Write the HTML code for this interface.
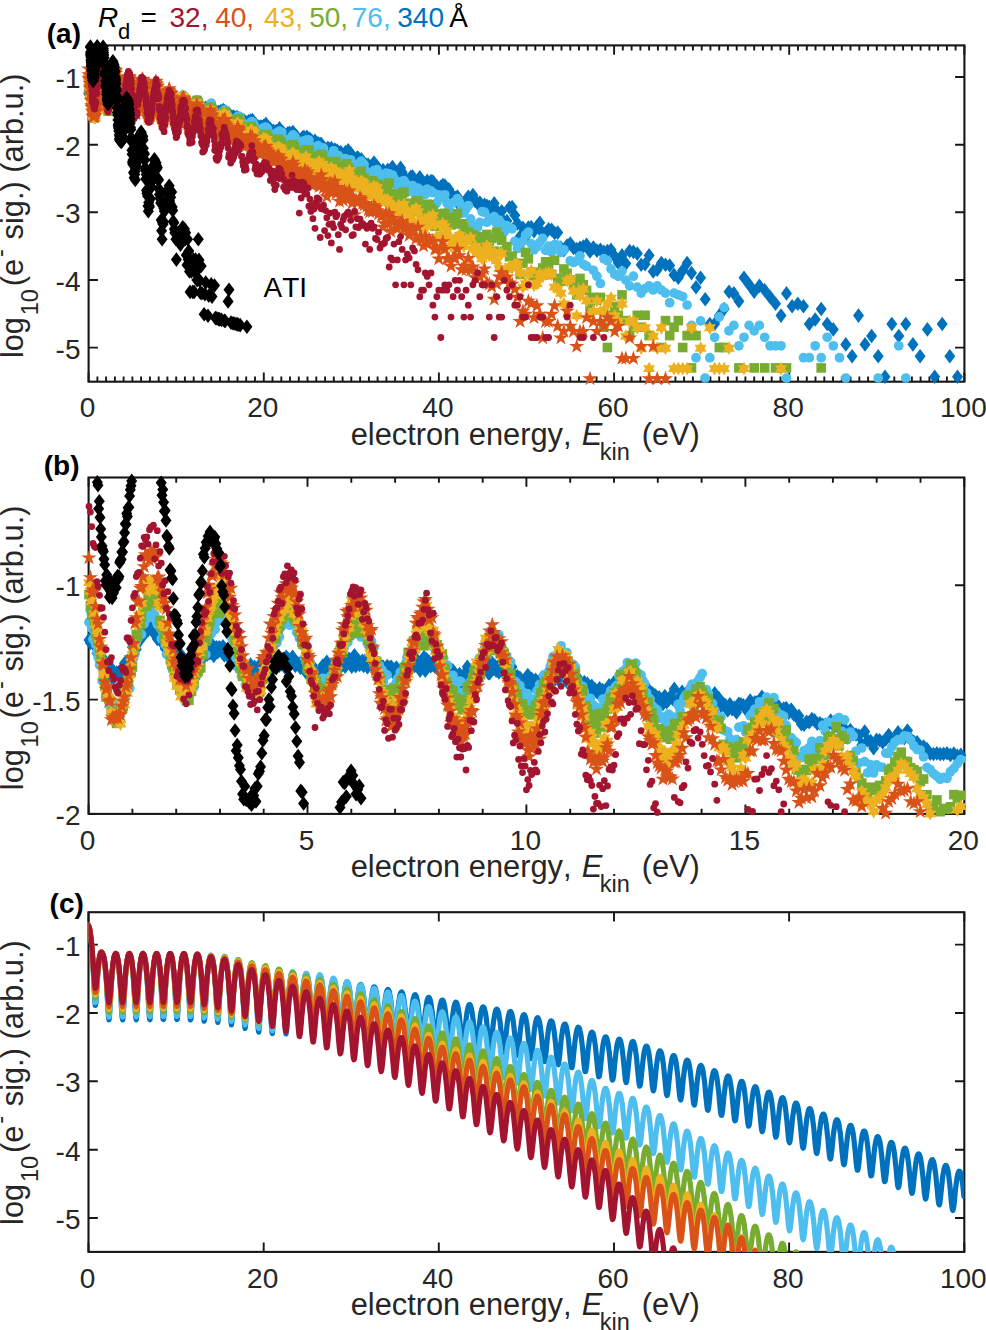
<!DOCTYPE html>
<html><head><meta charset="utf-8"><style>
html,body{margin:0;padding:0;background:#fff;}
svg{display:block;}
text{font-family:"Liberation Sans",sans-serif;}
.tk{font-size:28.0px;fill:#262626;}
.lb{font-size:30.8px;fill:#262626;}
.pl{font-size:28px;font-weight:bold;fill:#000;}
.tt{font-size:28px;}
text{font-kerning:none;}
</style></head><body>
<svg width="986" height="1330" viewBox="0 0 986 1330">
<path d="M97.4 381.7v-5.2M97.4 45.4v5.2M106.1 381.7v-5.2M106.1 45.4v5.2M114.9 381.7v-5.2M114.9 45.4v5.2M123.6 381.7v-5.2M123.6 45.4v5.2M132.4 381.7v-5.2M132.4 45.4v5.2M141.1 381.7v-5.2M141.1 45.4v5.2M149.9 381.7v-5.2M149.9 45.4v5.2M158.7 381.7v-5.2M158.7 45.4v5.2M167.4 381.7v-5.2M167.4 45.4v5.2M176.2 381.7v-5.2M176.2 45.4v5.2M184.9 381.7v-5.2M184.9 45.4v5.2M193.7 381.7v-5.2M193.7 45.4v5.2M202.5 381.7v-5.2M202.5 45.4v5.2M211.2 381.7v-5.2M211.2 45.4v5.2M220 381.7v-5.2M220 45.4v5.2M228.7 381.7v-5.2M228.7 45.4v5.2M237.5 381.7v-5.2M237.5 45.4v5.2M246.2 381.7v-5.2M246.2 45.4v5.2M255 381.7v-5.2M255 45.4v5.2M272.5 381.7v-5.2M272.5 45.4v5.2M281.3 381.7v-5.2M281.3 45.4v5.2M290 381.7v-5.2M290 45.4v5.2M298.8 381.7v-5.2M298.8 45.4v5.2M307.5 381.7v-5.2M307.5 45.4v5.2M316.3 381.7v-5.2M316.3 45.4v5.2M325.1 381.7v-5.2M325.1 45.4v5.2M333.8 381.7v-5.2M333.8 45.4v5.2M342.6 381.7v-5.2M342.6 45.4v5.2M351.3 381.7v-5.2M351.3 45.4v5.2M360.1 381.7v-5.2M360.1 45.4v5.2M368.9 381.7v-5.2M368.9 45.4v5.2M377.6 381.7v-5.2M377.6 45.4v5.2M386.4 381.7v-5.2M386.4 45.4v5.2M395.1 381.7v-5.2M395.1 45.4v5.2M403.9 381.7v-5.2M403.9 45.4v5.2M412.6 381.7v-5.2M412.6 45.4v5.2M421.4 381.7v-5.2M421.4 45.4v5.2M430.2 381.7v-5.2M430.2 45.4v5.2M447.7 381.7v-5.2M447.7 45.4v5.2M456.4 381.7v-5.2M456.4 45.4v5.2M465.2 381.7v-5.2M465.2 45.4v5.2M474 381.7v-5.2M474 45.4v5.2M482.7 381.7v-5.2M482.7 45.4v5.2M491.5 381.7v-5.2M491.5 45.4v5.2M500.2 381.7v-5.2M500.2 45.4v5.2M509 381.7v-5.2M509 45.4v5.2M517.7 381.7v-5.2M517.7 45.4v5.2M526.5 381.7v-5.2M526.5 45.4v5.2M535.3 381.7v-5.2M535.3 45.4v5.2M544 381.7v-5.2M544 45.4v5.2M552.8 381.7v-5.2M552.8 45.4v5.2M561.5 381.7v-5.2M561.5 45.4v5.2M570.3 381.7v-5.2M570.3 45.4v5.2M579 381.7v-5.2M579 45.4v5.2M587.8 381.7v-5.2M587.8 45.4v5.2M596.6 381.7v-5.2M596.6 45.4v5.2M605.3 381.7v-5.2M605.3 45.4v5.2M622.8 381.7v-5.2M622.8 45.4v5.2M631.6 381.7v-5.2M631.6 45.4v5.2M640.4 381.7v-5.2M640.4 45.4v5.2M649.1 381.7v-5.2M649.1 45.4v5.2M657.9 381.7v-5.2M657.9 45.4v5.2M666.6 381.7v-5.2M666.6 45.4v5.2M675.4 381.7v-5.2M675.4 45.4v5.2M684.1 381.7v-5.2M684.1 45.4v5.2M692.9 381.7v-5.2M692.9 45.4v5.2M701.7 381.7v-5.2M701.7 45.4v5.2M710.4 381.7v-5.2M710.4 45.4v5.2M719.2 381.7v-5.2M719.2 45.4v5.2M727.9 381.7v-5.2M727.9 45.4v5.2M736.7 381.7v-5.2M736.7 45.4v5.2M745.4 381.7v-5.2M745.4 45.4v5.2M754.2 381.7v-5.2M754.2 45.4v5.2M763 381.7v-5.2M763 45.4v5.2M771.7 381.7v-5.2M771.7 45.4v5.2M780.5 381.7v-5.2M780.5 45.4v5.2M798 381.7v-5.2M798 45.4v5.2M806.8 381.7v-5.2M806.8 45.4v5.2M815.5 381.7v-5.2M815.5 45.4v5.2M824.3 381.7v-5.2M824.3 45.4v5.2M833 381.7v-5.2M833 45.4v5.2M841.8 381.7v-5.2M841.8 45.4v5.2M850.5 381.7v-5.2M850.5 45.4v5.2M859.3 381.7v-5.2M859.3 45.4v5.2M868.1 381.7v-5.2M868.1 45.4v5.2M876.8 381.7v-5.2M876.8 45.4v5.2M885.6 381.7v-5.2M885.6 45.4v5.2M894.3 381.7v-5.2M894.3 45.4v5.2M903.1 381.7v-5.2M903.1 45.4v5.2M911.9 381.7v-5.2M911.9 45.4v5.2M920.6 381.7v-5.2M920.6 45.4v5.2M929.4 381.7v-5.2M929.4 45.4v5.2M938.1 381.7v-5.2M938.1 45.4v5.2M946.9 381.7v-5.2M946.9 45.4v5.2M955.6 381.7v-5.2M955.6 45.4v5.2M88.6 381.7v-9.3M88.6 45.4v9.3M263.8 381.7v-9.3M263.8 45.4v9.3M438.9 381.7v-9.3M438.9 45.4v9.3M614.1 381.7v-9.3M614.1 45.4v9.3M789.2 381.7v-9.3M789.2 45.4v9.3M964.4 381.7v-9.3M964.4 45.4v9.3M88.6 77h9.3M964.4 77h-9.3M88.6 144.7h9.3M964.4 144.7h-9.3M88.6 212.3h9.3M964.4 212.3h-9.3M88.6 280h9.3M964.4 280h-9.3M88.6 347.6h9.3M964.4 347.6h-9.3" stroke="#161616" stroke-width="1.9" fill="none"/>
<rect x="88.6" y="45.4" width="875.8" height="336.3" stroke="#161616" stroke-width="2.1" fill="none"/>
<text x="87.6" y="417.3" text-anchor="middle" class="tk">0</text>
<text x="262.8" y="417.3" text-anchor="middle" class="tk">20</text>
<text x="437.9" y="417.3" text-anchor="middle" class="tk">40</text>
<text x="613.1" y="417.3" text-anchor="middle" class="tk">60</text>
<text x="788.2" y="417.3" text-anchor="middle" class="tk">80</text>
<text x="963.4" y="417.3" text-anchor="middle" class="tk">100</text>
<text x="80.5" y="87.9" text-anchor="end" class="tk">-1</text>
<text x="80.5" y="155.6" text-anchor="end" class="tk">-2</text>
<text x="80.5" y="223.2" text-anchor="end" class="tk">-3</text>
<text x="80.5" y="290.9" text-anchor="end" class="tk">-4</text>
<text x="80.5" y="358.5" text-anchor="end" class="tk">-5</text>
<text x="350.7" y="444.6" class="lb">electron energy,</text>
<text x="581.7" y="444.6" class="lb" font-style="italic">E</text>
<text x="599.8" y="459.6" class="lb" style="font-size:23.5px">kin</text>
<text x="641.7" y="444.6" class="lb">(eV)</text>
<text transform="translate(22.9 358.1) rotate(-90)" class="lb" style="font-size:30.8px" xml:space="preserve">log</text>
<text transform="translate(37.9 315.3) rotate(-90)" class="lb" style="font-size:23.5px" xml:space="preserve">10</text>
<text transform="translate(22.9 286.3) rotate(-90)" class="lb" style="font-size:30.8px" xml:space="preserve">(e</text>
<text transform="translate(7.9 256.9) rotate(-90)" class="lb" style="font-size:23.5px" xml:space="preserve">-</text>
<text transform="translate(22.9 248) rotate(-90)" class="lb" style="font-size:30.8px" xml:space="preserve"> sig.) (arb.u.)</text>
<path d="M132.4 813.9v-5.2M132.4 477.5v5.2M176.2 813.9v-5.2M176.2 477.5v5.2M220 813.9v-5.2M220 477.5v5.2M263.7 813.9v-5.2M263.7 477.5v5.2M351.3 813.9v-5.2M351.3 477.5v5.2M395.1 813.9v-5.2M395.1 477.5v5.2M438.9 813.9v-5.2M438.9 477.5v5.2M482.7 813.9v-5.2M482.7 477.5v5.2M570.2 813.9v-5.2M570.2 477.5v5.2M614 813.9v-5.2M614 477.5v5.2M657.8 813.9v-5.2M657.8 477.5v5.2M701.6 813.9v-5.2M701.6 477.5v5.2M789.2 813.9v-5.2M789.2 477.5v5.2M832.9 813.9v-5.2M832.9 477.5v5.2M876.7 813.9v-5.2M876.7 477.5v5.2M920.5 813.9v-5.2M920.5 477.5v5.2M88.6 813.9v-9.3M88.6 477.5v9.3M307.5 813.9v-9.3M307.5 477.5v9.3M526.4 813.9v-9.3M526.4 477.5v9.3M745.4 813.9v-9.3M745.4 477.5v9.3M964.3 813.9v-9.3M964.3 477.5v9.3M88.6 585.2h9.3M964.3 585.2h-9.3M88.6 699.6h9.3M964.3 699.6h-9.3M88.6 813.9h9.3M964.3 813.9h-9.3" stroke="#161616" stroke-width="1.9" fill="none"/>
<rect x="88.6" y="477.5" width="875.7" height="336.4" stroke="#161616" stroke-width="2.1" fill="none"/>
<text x="87.6" y="849.5" text-anchor="middle" class="tk">0</text>
<text x="306.5" y="849.5" text-anchor="middle" class="tk">5</text>
<text x="525.4" y="849.5" text-anchor="middle" class="tk">10</text>
<text x="744.4" y="849.5" text-anchor="middle" class="tk">15</text>
<text x="963.3" y="849.5" text-anchor="middle" class="tk">20</text>
<text x="80.5" y="596.1" text-anchor="end" class="tk">-1</text>
<text x="80.5" y="710.5" text-anchor="end" class="tk">-1.5</text>
<text x="80.5" y="824.8" text-anchor="end" class="tk">-2</text>
<text x="350.7" y="876.8" class="lb">electron energy,</text>
<text x="581.7" y="876.8" class="lb" font-style="italic">E</text>
<text x="599.8" y="891.8" class="lb" style="font-size:23.5px">kin</text>
<text x="641.7" y="876.8" class="lb">(eV)</text>
<text transform="translate(22.9 790.2) rotate(-90)" class="lb" style="font-size:30.8px" xml:space="preserve">log</text>
<text transform="translate(37.9 747.4) rotate(-90)" class="lb" style="font-size:23.5px" xml:space="preserve">10</text>
<text transform="translate(22.9 718.4) rotate(-90)" class="lb" style="font-size:30.8px" xml:space="preserve">(e</text>
<text transform="translate(7.9 689) rotate(-90)" class="lb" style="font-size:23.5px" xml:space="preserve">-</text>
<text transform="translate(22.9 680.1) rotate(-90)" class="lb" style="font-size:30.8px" xml:space="preserve"> sig.) (arb.u.)</text>
<path d="M88.5 1251.9v-9.3M88.5 912.2v9.3M263.7 1251.9v-9.3M263.7 912.2v9.3M438.8 1251.9v-9.3M438.8 912.2v9.3M614 1251.9v-9.3M614 912.2v9.3M789.1 1251.9v-9.3M789.1 912.2v9.3M964.3 1251.9v-9.3M964.3 912.2v9.3M88.5 944.6h9.3M964.3 944.6h-9.3M88.5 1013h9.3M964.3 1013h-9.3M88.5 1081.3h9.3M964.3 1081.3h-9.3M88.5 1149.7h9.3M964.3 1149.7h-9.3M88.5 1218h9.3M964.3 1218h-9.3" stroke="#161616" stroke-width="1.9" fill="none"/>
<rect x="88.5" y="912.2" width="875.8" height="339.7" stroke="#161616" stroke-width="2.1" fill="none"/>
<text x="87.5" y="1287.5" text-anchor="middle" class="tk">0</text>
<text x="262.7" y="1287.5" text-anchor="middle" class="tk">20</text>
<text x="437.8" y="1287.5" text-anchor="middle" class="tk">40</text>
<text x="613" y="1287.5" text-anchor="middle" class="tk">60</text>
<text x="788.1" y="1287.5" text-anchor="middle" class="tk">80</text>
<text x="963.3" y="1287.5" text-anchor="middle" class="tk">100</text>
<text x="80.5" y="955.5" text-anchor="end" class="tk">-1</text>
<text x="80.5" y="1023.9" text-anchor="end" class="tk">-2</text>
<text x="80.5" y="1092.2" text-anchor="end" class="tk">-3</text>
<text x="80.5" y="1160.6" text-anchor="end" class="tk">-4</text>
<text x="80.5" y="1228.9" text-anchor="end" class="tk">-5</text>
<text x="350.7" y="1314.8" class="lb">electron energy,</text>
<text x="581.7" y="1314.8" class="lb" font-style="italic">E</text>
<text x="599.8" y="1329.8" class="lb" style="font-size:23.5px">kin</text>
<text x="641.7" y="1314.8" class="lb">(eV)</text>
<text transform="translate(22.9 1224.9) rotate(-90)" class="lb" style="font-size:30.8px" xml:space="preserve">log</text>
<text transform="translate(37.9 1182.1) rotate(-90)" class="lb" style="font-size:23.5px" xml:space="preserve">10</text>
<text transform="translate(22.9 1153.1) rotate(-90)" class="lb" style="font-size:30.8px" xml:space="preserve">(e</text>
<text transform="translate(7.9 1123.7) rotate(-90)" class="lb" style="font-size:23.5px" xml:space="preserve">-</text>
<text transform="translate(22.9 1114.8) rotate(-90)" class="lb" style="font-size:30.8px" xml:space="preserve"> sig.) (arb.u.)</text>
<defs><clipPath id="cc"><rect x="88.5" y="912.2" width="875.8" height="339.7"/></clipPath></defs>
<g clip-path="url(#cc)" fill="none" stroke-width="5.2" stroke-linejoin="round" stroke-linecap="round">
<path d="M88.5 925.5 89.0 926.8 89.6 929.0 90.1 931.9 90.6 935.8 91.1 940.5 91.7 946.2 92.2 952.9 92.7 960.9 93.2 970.1 93.8 980.4 94.3 991.2 94.8 1000.6 95.3 1005.4 95.9 1003.4 96.4 996.3 96.9 987.7 97.4 979.4 98.0 972.2 98.5 966.2 99.0 961.4 99.5 957.7 100.1 955.0 100.6 953.2 101.1 952.3 101.6 952.1 102.2 952.8 102.7 953.9 103.2 955.1 103.7 957.1 104.3 959.9 104.8 963.7 105.3 968.4 105.8 974.3 106.4 981.3 106.9 989.6 107.4 998.9 107.9 1008.6 108.5 1016.7 109.0 1019.8 109.5 1016.1 110.0 1007.7 110.6 998.0 111.1 988.7 111.6 980.6 112.1 973.7 112.7 968.0 113.2 963.3 113.7 959.7 114.2 956.9 114.8 955.0 115.3 953.9 115.8 953.6 116.4 954.1 116.9 955.3 117.4 957.4 117.9 960.3 118.5 964.2 119.0 969.1 119.5 975.0 120.0 982.2 120.6 990.6 121.1 1000.0 121.6 1009.7 122.1 1017.4 122.7 1019.9 123.2 1015.5 123.7 1006.9 124.2 997.1 124.8 988.0 125.3 979.9 125.8 973.2 126.3 967.6 126.9 963.0 127.4 959.4 127.9 956.8 128.4 955.0 129.0 953.9 129.5 953.7 130.0 954.3 130.5 955.6 131.1 957.8 131.6 960.8 132.1 964.7 132.6 969.7 133.2 975.8 133.7 983.1 134.2 991.6 134.7 1001.1 135.3 1010.7 135.8 1018.1 136.3 1019.8 136.8 1014.9 137.4 1006.0 137.9 996.3 138.4 987.2 138.9 979.3 139.5 972.7 140.0 967.2 140.5 962.7 141.0 959.2 141.6 956.7 142.1 954.9 142.6 954.0 143.1 953.8 143.7 954.5 144.2 955.9 144.7 958.1 145.3 961.2 145.8 965.3 146.3 970.4 146.8 976.6 147.4 984.0 147.9 992.6 148.4 1002.2 148.9 1011.7 149.5 1018.6 150.0 1019.7 150.5 1014.2 151.0 1005.1 151.6 995.4 152.1 986.5 152.6 978.7 153.1 972.2 153.7 966.8 154.2 962.4 154.7 959.0 155.2 956.5 155.8 954.9 156.3 954.0 156.8 954.0 157.3 954.7 157.9 956.2 158.4 958.5 158.9 961.7 159.4 965.9 160.0 971.0 160.5 977.3 161.0 984.9 161.5 993.6 162.1 1003.2 162.6 1012.7 163.1 1019.2 163.6 1019.5 164.2 1013.5 164.7 1004.2 165.2 994.6 165.7 985.7 166.3 978.1 166.8 971.7 167.3 966.4 167.8 962.1 168.4 958.9 168.9 956.4 169.4 954.9 169.9 954.1 170.5 954.1 171.0 954.9 171.5 956.5 172.1 958.9 172.6 962.2 173.1 966.4 173.6 971.7 174.2 978.1 174.7 985.8 175.2 994.6 175.7 1004.3 176.3 1013.6 176.8 1019.6 177.3 1019.3 177.8 1012.8 178.4 1003.4 178.9 993.7 179.4 985.0 179.9 977.5 180.5 971.2 181.0 966.0 181.5 961.9 182.0 958.7 182.6 956.4 183.1 954.9 183.6 954.2 184.1 954.2 184.7 955.1 185.2 956.8 185.7 959.3 186.2 962.7 186.8 967.0 187.3 972.4 187.8 979.0 188.3 986.7 188.9 995.7 189.4 1005.4 189.9 1014.5 190.4 1020.0 191.0 1019.0 191.5 1012.0 192.0 1002.5 192.5 992.9 193.1 984.3 193.6 976.9 194.1 970.8 194.6 965.7 195.2 961.7 195.7 958.7 196.2 956.5 196.7 955.1 197.3 954.5 197.8 954.7 198.3 955.7 198.9 957.5 199.4 960.1 199.9 963.7 200.4 968.1 201.0 973.7 201.5 980.4 202.0 988.3 202.5 997.4 203.1 1007.2 203.6 1016.2 204.1 1021.2 204.6 1019.5 205.2 1012.1 205.7 1002.6 206.2 993.1 206.7 984.6 207.3 977.4 207.8 971.4 208.3 966.5 208.8 962.6 209.4 959.6 209.9 957.5 210.4 956.2 210.9 955.7 211.5 956.0 212.0 957.0 212.5 958.9 213.0 961.6 213.6 965.2 214.1 969.8 214.6 975.5 215.1 982.3 215.7 990.4 216.2 999.6 216.7 1009.4 217.2 1018.1 217.8 1022.5 218.3 1020.1 218.8 1012.4 219.3 1002.8 219.9 993.4 220.4 985.1 220.9 977.9 221.4 972.0 222.0 967.2 222.5 963.4 223.0 960.5 223.5 958.5 224.1 957.3 224.6 956.9 225.1 957.2 225.7 958.5 226.2 960.5 226.7 963.4 227.2 967.2 227.8 972.0 228.3 977.9 228.8 984.9 229.3 993.2 229.9 1002.6 230.4 1012.5 230.9 1021.0 231.4 1024.9 232.0 1021.9 232.5 1014.0 233.0 1004.4 233.5 995.2 234.1 987.1 234.6 980.2 235.1 974.5 235.6 969.9 236.2 966.2 236.7 963.5 237.2 961.7 237.7 960.6 238.3 960.4 238.8 960.9 239.3 962.2 239.8 964.4 240.4 967.4 240.9 971.3 241.4 976.2 241.9 982.1 242.5 989.3 243.0 997.7 243.5 1007.2 244.0 1017.1 244.6 1025.3 245.1 1028.5 245.6 1024.9 246.1 1016.7 246.7 1007.1 247.2 997.9 247.7 989.9 248.2 983.2 248.8 977.6 249.3 973.1 249.8 969.6 250.3 966.9 250.9 965.2 251.4 964.2 251.9 964.0 252.4 964.6 253.0 966.0 253.5 968.3 254.0 971.3 254.6 975.3 255.1 980.3 255.6 986.4 256.1 993.7 256.7 1002.2 257.2 1011.8 257.7 1021.6 258.2 1029.5 258.8 1032.1 259.3 1027.9 259.8 1019.3 260.3 1009.7 260.9 1000.7 261.4 992.8 261.9 986.2 262.4 980.7 263.0 976.3 263.5 972.9 264.0 970.3 264.5 968.6 265.1 967.6 265.6 967.5 266.1 968.1 266.6 969.6 267.2 971.8 267.7 974.9 268.2 978.9 268.7 984.0 269.3 990.1 269.8 997.4 270.3 1005.8 270.8 1015.3 271.4 1024.7 271.9 1031.8 272.4 1033.5 272.9 1028.8 273.5 1020.3 274.0 1010.9 274.5 1002.1 275.0 994.4 275.6 987.9 276.1 982.5 276.6 978.2 277.1 974.9 277.7 972.4 278.2 970.7 278.7 969.9 279.2 969.8 279.8 970.5 280.3 972.0 280.8 974.3 281.4 977.5 281.9 981.6 282.4 986.6 282.9 992.8 283.5 1000.0 284.0 1008.4 284.5 1017.6 285.0 1026.5 285.6 1032.8 286.1 1033.8 286.6 1028.9 287.1 1020.6 287.7 1011.5 288.2 1003.1 288.7 995.7 289.2 989.4 289.8 984.2 290.3 980.1 290.8 976.8 291.3 974.5 291.9 972.9 292.4 972.2 292.9 972.2 293.4 972.9 294.0 974.5 294.5 976.9 295.0 980.1 295.5 984.2 296.1 989.3 296.6 995.5 297.1 1002.7 297.6 1010.9 298.2 1019.8 298.7 1028.1 299.2 1033.7 299.7 1034.0 300.3 1029.0 300.8 1020.9 301.3 1012.2 301.8 1004.1 302.4 997.0 302.9 990.9 303.4 985.9 303.9 981.9 304.5 978.8 305.0 976.5 305.5 975.1 306.0 974.4 306.6 974.5 307.1 975.4 307.6 977.0 308.2 979.4 308.7 982.7 309.2 986.8 309.7 992.0 310.3 998.1 310.8 1005.3 311.3 1013.4 311.8 1021.9 312.4 1029.7 312.9 1034.5 313.4 1034.2 313.9 1029.1 314.5 1021.3 315.0 1013.0 315.5 1005.2 316.0 998.3 316.6 992.5 317.1 987.7 317.6 983.8 318.1 980.8 318.7 978.7 319.2 977.3 319.7 976.8 320.2 976.9 320.8 977.9 321.3 979.6 321.8 982.0 322.3 985.4 322.9 989.6 323.4 994.7 323.9 1000.9 324.4 1008.0 325.0 1015.9 325.5 1024.1 326.0 1031.3 326.5 1035.4 327.1 1034.6 327.6 1029.5 328.1 1022.0 328.6 1014.0 329.2 1006.5 329.7 999.9 330.2 994.3 330.7 989.6 331.3 985.9 331.8 983.1 332.3 981.0 332.8 979.8 333.4 979.3 333.9 979.5 334.4 980.5 335.0 982.3 335.5 984.8 336.0 988.2 336.5 992.4 337.1 997.6 337.6 1003.7 338.1 1010.7 338.6 1018.4 339.2 1026.2 339.7 1032.8 340.2 1036.2 340.7 1035.1 341.3 1029.9 341.8 1022.7 342.3 1015.0 342.8 1007.8 343.4 1001.5 343.9 996.1 344.4 991.6 344.9 988.1 345.5 985.3 346.0 983.4 346.5 982.2 347.0 981.8 347.6 982.1 348.1 983.2 348.6 985.0 349.1 987.6 349.7 991.0 350.2 995.3 350.7 1000.4 351.2 1006.5 351.8 1013.4 352.3 1020.8 352.8 1028.2 353.3 1034.2 353.9 1037.0 354.4 1035.5 354.9 1030.4 355.4 1023.4 356.0 1016.1 356.5 1009.2 357.0 1003.1 357.5 998.0 358.1 993.7 358.6 990.2 359.1 987.6 359.6 985.8 360.2 984.7 360.7 984.4 361.2 984.8 361.7 985.9 362.3 987.8 362.8 990.4 363.3 993.8 363.9 998.1 364.4 1003.2 364.9 1009.2 365.4 1015.9 366.0 1023.2 366.5 1030.1 367.0 1035.5 367.5 1037.8 368.1 1036.0 368.6 1030.9 369.1 1024.2 369.6 1017.2 370.2 1010.6 370.7 1004.8 371.2 999.8 371.7 995.7 372.3 992.4 372.8 989.9 373.3 988.2 373.8 987.2 374.4 986.9 374.9 987.4 375.4 988.6 375.9 990.5 376.5 993.1 377.0 996.6 377.5 1000.9 378.0 1006.0 378.6 1011.9 379.1 1018.5 379.6 1025.4 380.1 1031.9 380.7 1036.7 381.2 1038.4 381.7 1036.4 382.2 1031.5 382.8 1025.0 383.3 1018.3 383.8 1012.0 384.3 1006.5 384.9 1001.7 385.4 997.7 385.9 994.6 386.4 992.2 387.0 990.6 387.5 989.7 388.0 989.5 388.5 990.0 389.1 991.2 389.6 993.2 390.1 995.9 390.7 999.4 391.2 1003.6 391.7 1008.7 392.2 1014.5 392.8 1020.9 393.3 1027.5 393.8 1033.6 394.3 1037.8 394.9 1039.1 395.4 1036.9 395.9 1032.1 396.4 1025.9 397.0 1019.5 397.5 1013.5 398.0 1008.1 398.5 1003.5 399.1 999.8 399.6 996.7 400.1 994.5 400.6 993.0 401.2 992.2 401.7 992.0 402.2 992.6 402.7 993.9 403.3 995.9 403.8 998.7 404.3 1002.2 404.8 1006.4 405.4 1011.4 405.9 1017.1 406.4 1023.3 406.9 1029.6 407.5 1035.2 408.0 1038.9 408.5 1039.8 409.0 1037.5 409.6 1032.8 410.1 1026.9 410.6 1020.8 411.1 1015.0 411.7 1009.9 412.2 1005.5 412.7 1001.9 413.2 999.0 413.8 996.9 414.3 995.5 414.8 994.8 415.3 994.7 415.9 995.4 416.4 996.7 416.9 998.8 417.5 1001.5 418.0 1005.0 418.5 1009.2 419.0 1014.2 419.6 1019.7 420.1 1025.7 420.6 1031.6 421.1 1036.8 421.7 1040.0 422.2 1040.5 422.7 1038.1 423.2 1033.5 423.8 1027.9 424.3 1022.1 424.8 1016.7 425.3 1011.8 425.9 1007.6 426.4 1004.1 426.9 1001.4 427.4 999.4 428.0 998.0 428.5 997.4 429.0 997.4 429.5 998.1 430.1 999.5 430.6 1001.6 431.1 1004.4 431.6 1007.8 432.2 1012.0 432.7 1016.9 433.2 1022.3 433.7 1028.0 434.3 1033.6 434.8 1038.2 435.3 1041.0 435.8 1041.2 436.4 1038.7 436.9 1034.3 437.4 1029.0 437.9 1023.5 438.5 1018.3 439.0 1013.6 439.5 1009.6 440.0 1006.3 440.6 1003.7 441.1 1001.8 441.6 1000.5 442.1 1000.0 442.7 1000.1 443.2 1000.8 443.7 1002.2 444.2 1004.3 444.8 1007.1 445.3 1010.6 445.8 1014.8 446.4 1019.6 446.9 1025.0 447.4 1030.7 447.9 1036.1 448.5 1040.6 449.0 1043.1 449.5 1043.1 450.0 1040.5 450.6 1036.0 451.1 1030.7 451.6 1025.3 452.1 1020.1 452.7 1015.5 453.2 1011.6 453.7 1008.3 454.2 1005.8 454.8 1003.9 455.3 1002.7 455.8 1002.2 456.3 1002.4 456.9 1003.2 457.4 1004.7 457.9 1006.9 458.4 1009.7 459.0 1013.3 459.5 1017.5 460.0 1022.4 460.5 1027.9 461.1 1033.5 461.6 1038.9 462.1 1043.2 462.6 1045.5 463.2 1045.2 463.7 1042.4 464.2 1037.8 464.7 1032.5 465.3 1027.0 465.8 1021.9 466.3 1017.4 466.8 1013.5 467.4 1010.3 467.9 1007.9 468.4 1006.1 468.9 1004.9 469.5 1004.5 470.0 1004.7 470.5 1005.6 471.0 1007.2 471.6 1009.4 472.1 1012.3 472.6 1016.0 473.2 1020.3 473.7 1025.2 474.2 1030.7 474.7 1036.4 475.3 1041.7 475.8 1045.8 476.3 1047.9 476.8 1047.3 477.4 1044.3 477.9 1039.6 478.4 1034.2 478.9 1028.8 479.5 1023.7 480.0 1019.2 480.5 1015.4 481.0 1012.3 481.6 1009.9 482.1 1008.2 482.6 1007.2 483.1 1006.8 483.7 1007.1 484.2 1008.0 484.7 1009.7 485.2 1012.0 485.8 1015.0 486.3 1018.7 486.8 1023.0 487.3 1028.1 487.9 1033.5 488.4 1039.2 488.9 1044.4 489.4 1048.4 490.0 1050.3 490.5 1049.4 491.0 1046.1 491.5 1041.3 492.1 1035.9 492.6 1030.5 493.1 1025.5 493.6 1021.1 494.2 1017.4 494.7 1014.3 495.2 1012.0 495.7 1010.4 496.3 1009.4 496.8 1009.1 497.3 1009.4 497.8 1010.4 498.4 1012.1 498.9 1014.5 499.4 1017.6 500.0 1021.4 500.5 1025.8 501.0 1030.9 501.5 1036.4 502.1 1042.0 502.6 1047.2 503.1 1051.0 503.6 1052.6 504.2 1051.5 504.7 1048.0 505.2 1043.1 505.7 1037.7 506.3 1032.3 506.8 1027.3 507.3 1023.0 507.8 1019.3 508.4 1016.4 508.9 1014.1 509.4 1012.5 509.9 1011.6 510.5 1011.4 511.0 1011.9 511.5 1013.0 512.0 1014.8 512.6 1017.3 513.1 1020.4 513.6 1024.3 514.1 1028.9 514.7 1034.0 515.2 1039.6 515.7 1045.2 516.2 1050.4 516.8 1054.0 517.3 1055.4 517.8 1054.0 518.3 1050.4 518.9 1045.4 519.4 1040.0 519.9 1034.7 520.4 1029.8 521.0 1025.6 521.5 1022.0 522.0 1019.2 522.5 1017.0 523.1 1015.5 523.6 1014.7 524.1 1014.6 524.6 1015.1 525.2 1016.3 525.7 1018.1 526.2 1020.7 526.8 1023.9 527.3 1027.9 527.8 1032.5 528.3 1037.7 528.9 1043.3 529.4 1048.9 529.9 1053.9 530.4 1057.4 531.0 1058.5 531.5 1056.9 532.0 1053.1 532.5 1048.0 533.1 1042.6 533.6 1037.3 534.1 1032.5 534.6 1028.4 535.2 1024.9 535.7 1022.1 536.2 1020.0 536.7 1018.6 537.3 1017.8 537.8 1017.7 538.3 1018.3 538.8 1019.6 539.4 1021.5 539.9 1024.1 540.4 1027.4 540.9 1031.5 541.5 1036.1 542.0 1041.4 542.5 1047.0 543.0 1052.6 543.6 1057.5 544.1 1060.8 544.6 1061.6 545.1 1059.7 545.7 1055.8 546.2 1050.7 546.7 1045.2 547.2 1040.0 547.8 1035.2 548.3 1031.1 548.8 1027.7 549.3 1025.0 549.9 1022.9 550.4 1021.6 550.9 1020.9 551.4 1020.9 552.0 1021.6 552.5 1022.9 553.0 1024.9 553.5 1027.6 554.1 1031.0 554.6 1035.0 555.1 1039.8 555.7 1045.1 556.2 1050.7 556.7 1056.3 557.2 1061.1 557.8 1064.1 558.3 1064.7 558.8 1062.6 559.3 1058.4 559.9 1053.3 560.4 1047.8 560.9 1042.6 561.4 1037.9 562.0 1033.9 562.5 1030.5 563.0 1027.9 563.5 1025.9 564.1 1024.6 564.6 1024.0 565.1 1024.1 565.6 1024.8 566.2 1026.2 566.7 1028.3 567.2 1031.0 567.7 1034.5 568.3 1038.6 568.8 1043.4 569.3 1048.8 569.8 1054.5 570.4 1060.0 570.9 1064.6 571.4 1067.5 571.9 1067.7 572.5 1065.4 573.0 1061.1 573.5 1055.9 574.0 1050.4 574.6 1045.3 575.1 1040.6 575.6 1036.7 576.1 1033.4 576.7 1030.8 577.2 1028.9 577.7 1027.7 578.2 1027.2 578.8 1027.4 579.3 1028.2 579.8 1029.8 580.3 1032.0 580.9 1034.9 581.4 1038.5 581.9 1042.7 582.5 1047.7 583.0 1053.1 583.5 1058.9 584.0 1064.4 584.6 1069.0 585.1 1071.7 585.6 1071.7 586.1 1069.2 586.7 1064.9 587.2 1059.7 587.7 1054.3 588.2 1049.3 588.8 1044.8 589.3 1040.9 589.8 1037.8 590.3 1035.4 590.9 1033.6 591.4 1032.5 591.9 1032.1 592.4 1032.4 593.0 1033.3 593.5 1034.9 594.0 1037.2 594.5 1040.1 595.1 1043.8 595.6 1048.2 596.1 1053.2 596.6 1058.7 597.2 1064.4 597.7 1069.9 598.2 1074.3 598.7 1076.8 599.3 1076.5 599.8 1073.8 600.3 1069.4 600.8 1064.1 601.4 1058.8 601.9 1053.8 602.4 1049.3 602.9 1045.6 603.5 1042.5 604.0 1040.1 604.5 1038.4 605.0 1037.3 605.6 1036.8 606.1 1037.1 606.6 1037.9 607.1 1039.5 607.7 1041.7 608.2 1044.7 608.7 1048.3 609.3 1052.6 609.8 1057.6 610.3 1063.0 610.8 1068.7 611.4 1074.0 611.9 1078.2 612.4 1080.2 612.9 1079.6 613.5 1076.6 614.0 1071.9 614.5 1066.5 615.0 1061.1 615.6 1056.0 616.1 1051.5 616.6 1047.7 617.1 1044.6 617.7 1042.2 618.2 1040.5 618.7 1039.5 619.2 1039.1 619.8 1039.4 620.3 1040.3 620.8 1041.9 621.3 1044.3 621.9 1047.3 622.4 1051.0 622.9 1055.3 623.4 1060.3 624.0 1065.8 624.5 1071.5 625.0 1076.7 625.5 1080.7 626.1 1082.5 626.6 1081.7 627.1 1078.4 627.6 1073.6 628.2 1068.2 628.7 1062.8 629.2 1057.8 629.7 1053.4 630.3 1049.7 630.8 1046.6 631.3 1044.3 631.8 1042.6 632.4 1041.6 632.9 1041.4 633.4 1041.9 633.9 1043.0 634.5 1044.8 635.0 1047.2 635.5 1050.4 636.1 1054.3 636.6 1058.8 637.1 1064.0 637.6 1069.6 638.2 1075.3 638.7 1080.6 639.2 1084.5 639.7 1086.1 640.3 1085.1 640.8 1081.7 641.3 1076.9 641.8 1071.6 642.4 1066.3 642.9 1061.4 643.4 1057.2 643.9 1053.6 644.5 1050.7 645.0 1048.6 645.5 1047.1 646.0 1046.3 646.6 1046.1 647.1 1046.6 647.6 1047.8 648.1 1049.6 648.7 1052.2 649.2 1055.4 649.7 1059.4 650.2 1064.0 650.8 1069.2 651.3 1074.8 651.8 1080.5 652.3 1085.7 652.9 1089.4 653.4 1090.8 653.9 1089.5 654.4 1086.0 655.0 1081.1 655.5 1075.7 656.0 1070.4 656.5 1065.7 657.1 1061.5 657.6 1058.0 658.1 1055.2 658.6 1053.0 659.2 1051.6 659.7 1050.9 660.2 1050.8 660.7 1051.4 661.3 1052.6 661.8 1054.5 662.3 1057.1 662.8 1060.4 663.4 1064.4 663.9 1069.1 664.4 1074.4 665.0 1080.1 665.5 1085.7 666.0 1090.8 666.5 1094.3 667.1 1095.5 667.6 1093.9 668.1 1090.2 668.6 1085.2 669.2 1079.8 669.7 1074.6 670.2 1069.9 670.7 1065.7 671.3 1062.3 671.8 1059.6 672.3 1057.5 672.8 1056.2 673.4 1055.5 673.9 1055.5 674.4 1056.1 674.9 1057.4 675.5 1059.4 676.0 1062.1 676.5 1065.5 677.0 1069.5 677.6 1074.3 678.1 1079.6 678.6 1085.3 679.1 1091.0 679.7 1095.9 680.2 1099.2 680.7 1100.1 681.2 1098.3 681.8 1094.4 682.3 1089.3 682.8 1083.9 683.3 1078.8 683.9 1074.1 684.4 1070.0 684.9 1066.7 685.4 1064.0 686.0 1062.0 686.5 1060.7 687.0 1060.1 687.5 1060.2 688.1 1060.9 688.6 1062.4 689.1 1064.4 689.6 1067.2 690.2 1070.7 690.7 1074.8 691.2 1079.7 691.8 1085.1 692.3 1090.8 692.8 1096.4 693.3 1101.3 693.9 1104.4 694.4 1105.0 694.9 1103.0 695.4 1099.0 696.0 1093.9 696.5 1088.5 697.0 1083.4 697.5 1078.8 698.1 1074.9 698.6 1071.6 699.1 1069.0 699.6 1067.1 700.2 1065.9 700.7 1065.4 701.2 1065.5 701.7 1066.4 702.3 1067.8 702.8 1070.0 703.3 1072.8 703.8 1076.4 704.4 1080.6 704.9 1085.5 705.4 1090.9 705.9 1096.7 706.5 1102.3 707.0 1107.0 707.5 1109.9 708.0 1110.3 708.6 1108.0 709.1 1103.8 709.6 1098.7 710.1 1093.3 710.7 1088.2 711.2 1083.7 711.7 1079.8 712.2 1076.6 712.8 1074.1 713.3 1072.3 713.8 1071.2 714.3 1070.7 714.9 1070.9 715.4 1071.8 715.9 1073.3 716.4 1075.5 717.0 1078.4 717.5 1082.0 718.0 1086.3 718.6 1091.3 719.1 1096.8 719.6 1102.5 720.1 1108.1 720.7 1112.7 721.2 1115.4 721.7 1115.4 722.2 1112.9 722.8 1108.6 723.3 1103.4 723.8 1098.1 724.3 1093.0 724.9 1088.6 725.4 1084.7 725.9 1081.6 726.4 1079.2 727.0 1077.4 727.5 1076.4 728.0 1076.0 728.5 1076.3 729.1 1077.2 729.6 1078.8 730.1 1081.1 730.6 1084.1 731.2 1087.7 731.7 1092.1 732.2 1097.1 732.7 1102.6 733.3 1108.4 733.8 1113.9 734.3 1118.4 734.8 1120.8 735.4 1120.6 735.9 1117.9 736.4 1113.4 736.9 1108.2 737.5 1102.8 738.0 1097.9 738.5 1093.4 739.0 1089.7 739.6 1086.6 740.1 1084.3 740.6 1082.6 741.1 1081.6 741.7 1081.3 742.2 1081.6 742.7 1082.6 743.2 1084.3 743.8 1086.6 744.3 1089.7 744.8 1093.4 745.3 1097.9 745.9 1102.9 746.4 1108.5 746.9 1114.3 747.5 1119.7 748.0 1124.0 748.5 1126.2 749.0 1125.7 749.6 1122.8 750.1 1118.2 750.6 1112.9 751.1 1107.6 751.7 1102.7 752.2 1098.3 752.7 1094.7 753.2 1091.7 753.8 1089.4 754.3 1087.8 754.8 1086.9 755.3 1086.6 755.9 1087.0 756.4 1088.1 756.9 1089.8 757.4 1092.3 758.0 1095.4 758.5 1099.2 759.0 1103.7 759.5 1108.9 760.1 1114.5 760.6 1120.2 761.1 1125.6 761.6 1129.7 762.2 1131.7 762.7 1130.9 763.2 1127.8 763.7 1123.1 764.3 1117.8 764.8 1112.6 765.3 1107.7 765.8 1103.4 766.4 1099.8 766.9 1096.9 767.4 1094.7 767.9 1093.1 768.5 1092.3 769.0 1092.1 769.5 1092.6 770.0 1093.7 770.6 1095.5 771.1 1098.0 771.6 1101.2 772.1 1105.1 772.7 1109.7 773.2 1114.9 773.7 1120.5 774.3 1126.3 774.8 1131.6 775.3 1135.5 775.8 1137.2 776.4 1136.2 776.9 1132.9 777.4 1128.1 777.9 1122.8 778.5 1117.5 779.0 1112.7 779.5 1108.5 780.0 1104.9 780.6 1102.1 781.1 1099.9 781.6 1098.5 782.1 1097.7 782.7 1097.6 783.2 1098.1 783.7 1099.3 784.2 1101.2 784.8 1103.8 785.3 1107.0 785.8 1111.0 786.3 1115.7 786.9 1120.9 787.4 1126.6 787.9 1132.3 788.4 1137.5 789.0 1141.3 789.5 1142.7 790.0 1141.4 790.5 1137.9 791.1 1133.0 791.6 1127.7 792.1 1122.5 792.6 1117.7 793.2 1113.6 793.7 1110.1 794.2 1107.3 794.7 1105.2 795.3 1103.8 795.8 1103.1 796.3 1103.1 796.8 1103.7 797.4 1105.0 797.9 1106.9 798.4 1109.6 798.9 1112.9 799.5 1116.9 800.0 1121.6 800.5 1126.9 801.1 1132.6 801.6 1138.3 802.1 1143.4 802.6 1147.0 803.2 1148.2 803.7 1146.6 804.2 1142.9 804.7 1138.0 805.3 1132.6 805.8 1127.5 806.3 1122.7 806.8 1118.7 807.4 1115.3 807.9 1112.6 808.4 1110.5 808.9 1109.2 809.5 1108.6 810.0 1108.6 810.5 1109.3 811.0 1110.6 811.6 1112.6 812.1 1115.3 812.6 1118.7 813.1 1122.8 813.7 1127.6 814.2 1132.9 814.7 1138.7 815.2 1144.4 815.8 1149.4 816.3 1152.7 816.8 1153.6 817.3 1151.8 817.9 1148.0 818.4 1142.9 818.9 1137.6 819.4 1132.4 820.0 1127.8 820.5 1123.8 821.0 1120.4 821.5 1117.8 822.1 1115.9 822.6 1114.6 823.1 1114.0 823.6 1114.1 824.2 1114.9 824.7 1116.3 825.2 1118.4 825.7 1121.2 826.3 1124.6 826.8 1128.8 827.3 1133.7 827.9 1139.1 828.4 1144.8 828.9 1150.5 829.4 1155.3 830.0 1158.5 830.5 1159.1 831.0 1157.1 831.5 1153.1 832.1 1148.0 832.6 1142.7 833.1 1137.6 833.6 1133.0 834.2 1129.0 834.7 1125.8 835.2 1123.2 835.7 1121.4 836.3 1120.2 836.8 1119.7 837.3 1119.8 837.8 1120.6 838.4 1122.1 838.9 1124.3 839.4 1127.1 839.9 1130.7 840.5 1134.9 841.0 1139.8 841.5 1145.3 842.0 1151.0 842.6 1156.7 843.1 1161.4 843.6 1164.3 844.1 1164.7 844.7 1162.4 845.2 1158.3 845.7 1153.1 846.2 1147.8 846.8 1142.7 847.3 1138.2 847.8 1134.3 848.3 1131.1 848.9 1128.7 849.4 1126.9 849.9 1125.7 850.4 1125.3 851.0 1125.5 851.5 1126.4 852.0 1128.0 852.5 1130.2 853.1 1133.1 853.6 1136.7 854.1 1141.0 854.6 1146.0 855.2 1151.5 855.7 1157.3 856.2 1162.9 856.8 1167.5 857.3 1170.2 857.8 1170.2 858.3 1167.8 858.9 1163.4 859.4 1158.3 859.9 1152.9 860.4 1147.9 861.0 1143.5 861.5 1139.6 862.0 1136.5 862.5 1134.1 863.1 1132.4 863.6 1131.3 864.1 1131.0 864.6 1131.2 865.2 1132.2 865.7 1133.8 866.2 1136.1 866.7 1139.1 867.3 1142.8 867.8 1147.2 868.3 1152.2 868.8 1157.7 869.4 1163.5 869.9 1169.0 870.4 1173.5 870.9 1175.9 871.5 1175.8 872.0 1173.1 872.5 1168.6 873.0 1163.4 873.6 1158.1 874.1 1153.1 874.6 1148.7 875.1 1145.0 875.7 1141.9 876.2 1139.6 876.7 1137.9 877.2 1136.9 877.8 1136.6 878.3 1137.0 878.8 1138.0 879.3 1139.7 879.9 1142.0 880.4 1145.1 880.9 1148.9 881.4 1153.3 882.0 1158.4 882.5 1164.0 883.0 1169.8 883.6 1175.2 884.1 1179.5 884.6 1181.7 885.1 1181.3 885.7 1178.3 886.2 1173.8 886.7 1168.5 887.2 1163.2 887.8 1158.3 888.3 1154.0 888.8 1150.3 889.3 1147.3 889.9 1145.0 890.4 1143.4 890.9 1142.5 891.4 1142.3 892.0 1142.7 892.5 1143.8 893.0 1145.6 893.5 1148.0 894.1 1151.1 894.6 1155.0 895.1 1159.5 895.6 1164.6 896.2 1170.3 896.7 1176.0 897.2 1181.4 897.7 1185.6 898.3 1187.5 898.8 1186.8 899.3 1183.7 899.8 1179.0 900.4 1173.7 900.9 1168.4 901.4 1163.6 901.9 1159.3 902.5 1155.7 903.0 1152.8 903.5 1150.6 904.0 1149.1 904.6 1148.2 905.1 1148.1 905.6 1148.6 906.1 1149.7 906.7 1151.5 907.2 1154.1 907.7 1157.3 908.2 1161.2 908.8 1165.8 909.3 1171.0 909.8 1176.6 910.4 1182.4 910.9 1187.7 911.4 1191.6 911.9 1193.3 912.5 1192.3 913.0 1189.0 913.5 1184.3 914.0 1178.9 914.6 1173.7 915.1 1168.9 915.6 1164.7 916.1 1161.2 916.7 1158.3 917.2 1156.2 917.7 1154.7 918.2 1154.0 918.8 1153.9 919.3 1154.4 919.8 1155.6 920.3 1157.5 920.9 1160.1 921.4 1163.4 921.9 1167.4 922.4 1172.0 923.0 1177.3 923.5 1182.9 924.0 1188.7 924.5 1193.9 925.1 1197.7 925.6 1199.1 926.1 1197.9 926.6 1194.4 927.2 1189.5 927.7 1184.2 928.2 1179.0 928.7 1174.2 929.3 1170.1 929.8 1166.6 930.3 1163.8 930.8 1161.8 931.4 1160.4 931.9 1159.7 932.4 1159.6 932.9 1160.3 933.5 1161.5 934.0 1163.5 934.5 1166.2 935.0 1169.5 935.6 1173.6 936.1 1178.3 936.6 1183.6 937.2 1189.3 937.7 1195.0 938.2 1200.1 938.7 1203.7 939.3 1204.9 939.8 1203.4 940.3 1199.7 940.8 1194.7 941.4 1189.4 941.9 1184.2 942.4 1179.5 942.9 1175.4 943.5 1172.1 944.0 1169.4 944.5 1167.4 945.0 1166.1 945.6 1165.4 946.1 1165.4 946.6 1166.1 947.1 1167.5 947.7 1169.5 948.2 1172.2 948.7 1175.6 949.2 1179.8 949.8 1184.5 950.3 1189.9 950.8 1195.6 951.3 1201.3 951.9 1206.3 952.4 1209.7 952.9 1210.6 953.4 1208.8 954.0 1205.0 954.5 1200.0 955.0 1194.6 955.5 1189.5 956.1 1184.8 956.6 1180.8 957.1 1177.5 957.6 1174.9 958.2 1173.0 958.7 1171.7 959.2 1171.2 959.7 1171.3 960.3 1172.1 960.8 1173.6 961.3 1175.7 961.8 1178.5 962.4 1182.1 962.9 1186.3 963.4 1191.2 963.9 1196.6" stroke="#0072BD"/>
<path d="M88.5 925.5 89.0 926.8 89.6 929.0 90.1 931.9 90.6 935.7 91.1 940.3 91.7 946.0 92.2 952.6 92.7 960.4 93.2 969.3 93.8 979.2 94.3 989.5 94.8 998.2 95.3 1002.7 95.9 1000.9 96.4 994.5 96.9 986.5 97.4 978.6 98.0 971.6 98.5 965.8 99.0 961.2 99.5 957.6 100.1 954.9 100.6 953.2 101.1 952.2 101.6 952.1 102.2 952.8 102.7 953.9 103.2 955.0 103.7 957.0 104.3 959.8 104.8 963.5 105.3 968.2 105.8 973.9 106.4 980.7 106.9 988.7 107.4 997.7 107.9 1006.8 108.5 1014.2 109.0 1017.0 109.5 1013.7 110.0 1005.9 110.6 996.7 111.1 987.9 111.6 980.0 112.1 973.3 112.7 967.7 113.2 963.1 113.7 959.5 114.2 956.8 114.8 954.9 115.3 953.8 115.8 953.5 116.4 954.0 116.9 955.2 117.4 957.2 117.9 960.1 118.5 963.9 119.0 968.7 119.5 974.5 120.0 981.5 120.6 989.6 121.1 998.6 121.6 1007.7 122.1 1014.8 122.7 1017.0 123.2 1013.0 123.7 1005.0 124.2 995.8 124.8 987.0 125.3 979.3 125.8 972.7 126.3 967.2 126.9 962.7 127.4 959.2 127.9 956.5 128.4 954.7 129.0 953.7 129.5 953.5 130.0 954.0 130.5 955.4 131.1 957.5 131.6 960.5 132.1 964.4 132.6 969.2 133.2 975.2 133.7 982.3 134.2 990.5 134.7 999.5 135.3 1008.5 135.8 1015.3 136.3 1016.8 136.8 1012.4 137.4 1004.1 137.9 994.9 138.4 986.2 138.9 978.6 139.5 972.1 140.0 966.7 140.5 962.3 141.0 958.9 141.6 956.3 142.1 954.6 142.6 953.7 143.1 953.5 143.7 954.1 144.2 955.5 144.7 957.8 145.3 960.8 145.8 964.8 146.3 969.8 146.8 975.8 147.4 983.0 147.9 991.3 148.4 1000.4 148.9 1009.3 149.5 1015.7 150.0 1016.7 150.5 1011.6 151.0 1003.2 151.6 994.0 152.1 985.4 152.6 977.9 153.1 971.5 153.7 966.2 154.2 961.9 154.7 958.6 155.2 956.1 155.8 954.5 156.3 953.6 156.8 953.5 157.3 954.2 157.9 955.7 158.4 958.0 158.9 961.2 159.4 965.3 160.0 970.3 160.5 976.5 161.0 983.8 161.5 992.2 162.1 1001.4 162.6 1010.1 163.1 1016.1 163.6 1016.4 164.2 1010.9 164.7 1002.3 165.2 993.1 165.7 984.6 166.3 977.2 166.8 970.9 167.3 965.7 167.8 961.5 168.4 958.3 168.9 955.9 169.4 954.4 169.9 953.6 170.5 953.6 171.0 954.4 171.5 955.9 172.1 958.3 172.6 961.5 173.1 965.7 173.6 970.9 174.2 977.2 174.7 984.6 175.2 993.1 175.7 1002.3 176.3 1010.9 176.8 1016.4 177.3 1016.1 177.8 1010.1 178.4 1001.4 178.9 992.2 179.4 983.8 179.9 976.5 180.5 970.3 181.0 965.3 181.5 961.2 182.0 958.0 182.6 955.7 183.1 954.2 183.6 953.5 184.1 953.6 184.7 954.5 185.2 956.1 185.7 958.6 186.2 961.9 186.8 966.2 187.3 971.5 187.8 977.9 188.3 985.4 188.9 994.0 189.4 1003.2 189.9 1011.6 190.4 1016.7 191.0 1015.7 191.5 1009.3 192.0 1000.4 192.5 991.3 193.1 983.0 193.6 975.8 194.1 969.8 194.6 964.9 195.2 961.0 195.7 957.9 196.2 955.8 196.7 954.4 197.3 953.8 197.8 954.0 198.3 955.0 198.9 956.8 199.4 959.4 199.9 962.9 200.4 967.3 201.0 972.7 201.5 979.3 202.0 986.9 202.5 995.7 203.1 1004.9 203.6 1013.2 204.1 1017.8 204.6 1016.2 205.2 1009.5 205.7 1000.6 206.2 991.5 206.7 983.4 207.3 976.4 207.8 970.5 208.3 965.6 208.8 961.8 209.4 958.9 209.9 956.8 210.4 955.5 210.9 955.0 211.5 955.3 212.0 956.3 212.5 958.2 213.0 960.9 213.6 964.4 214.1 968.9 214.6 974.5 215.1 981.2 215.7 989.0 216.2 997.8 216.7 1007.0 217.2 1015.1 217.8 1019.1 218.3 1016.9 218.8 1009.9 219.3 1000.8 219.9 991.9 220.4 983.8 220.9 976.9 221.4 971.1 222.0 966.4 222.5 962.6 223.0 959.8 223.5 957.8 224.1 956.6 224.6 956.2 225.1 956.5 225.7 957.8 226.2 959.8 226.7 962.6 227.2 966.4 227.8 971.1 228.3 976.8 228.8 983.7 229.3 991.7 229.9 1000.7 230.4 1010.0 230.9 1017.9 231.4 1021.4 232.0 1018.7 232.5 1011.4 233.0 1002.4 233.5 993.6 234.1 985.8 234.6 979.1 235.1 973.5 235.6 969.0 236.2 965.4 236.7 962.7 237.2 960.9 237.7 959.9 238.3 959.6 238.8 960.1 239.3 961.4 239.8 963.5 240.4 966.5 240.9 970.3 241.4 975.1 241.9 981.0 242.5 988.0 243.0 996.1 243.5 1005.1 244.0 1014.4 244.6 1022.0 245.1 1024.9 245.6 1021.7 246.1 1014.1 246.7 1005.0 247.2 996.3 247.7 988.6 248.2 982.0 248.8 976.5 249.3 972.1 249.8 968.6 250.3 966.0 250.9 964.3 251.4 963.3 251.9 963.1 252.4 963.7 253.0 965.1 253.5 967.3 254.0 970.3 254.6 974.3 255.1 979.2 255.6 985.1 256.1 992.2 256.7 1000.5 257.2 1009.6 257.7 1018.8 258.2 1026.1 258.8 1028.4 259.3 1024.6 259.8 1016.7 260.3 1007.6 260.9 999.0 261.4 991.4 261.9 984.9 262.4 979.5 263.0 975.2 263.5 971.8 264.0 969.3 264.5 967.6 265.1 966.8 265.6 966.7 266.1 967.4 266.6 968.8 267.2 971.1 267.7 974.2 268.2 978.2 268.7 983.2 269.3 989.2 269.8 996.3 270.3 1004.6 270.8 1013.6 271.4 1022.5 271.9 1029.1 272.4 1030.7 272.9 1026.5 273.5 1018.6 274.0 1009.7 274.5 1001.3 275.0 993.9 275.6 987.7 276.1 982.4 276.6 978.3 277.1 975.0 277.7 972.6 278.2 971.0 278.7 970.2 279.2 970.2 279.8 970.9 280.3 972.4 280.8 974.6 281.4 977.7 281.9 981.7 282.4 986.6 282.9 992.6 283.5 999.7 284.0 1007.7 284.5 1016.4 285.0 1024.8 285.6 1030.6 286.1 1031.5 286.6 1026.9 287.1 1019.1 287.7 1010.5 288.2 1002.3 288.7 995.1 289.2 989.0 289.8 983.8 290.3 979.7 290.8 976.5 291.3 974.1 291.9 972.6 292.4 971.8 292.9 971.8 293.4 972.5 294.0 974.0 294.5 976.3 295.0 979.5 295.5 983.5 296.1 988.5 296.6 994.5 297.1 1001.5 297.6 1009.4 298.2 1017.9 298.7 1025.7 299.2 1030.9 299.7 1031.1 300.3 1026.4 300.8 1018.8 301.3 1010.5 301.8 1002.6 302.4 995.6 302.9 989.7 303.4 984.8 303.9 980.8 304.5 977.7 305.0 975.4 305.5 974.0 306.0 973.3 306.6 973.3 307.1 974.1 307.6 975.7 308.2 978.1 308.7 981.3 309.2 985.3 309.7 990.3 310.3 996.3 310.8 1003.3 311.3 1011.1 311.8 1019.2 312.4 1026.5 312.9 1031.0 313.4 1030.8 313.9 1025.9 314.5 1018.5 315.0 1010.5 315.5 1002.9 316.0 996.2 316.6 990.5 317.1 985.7 317.6 981.9 318.1 978.9 318.7 976.7 319.2 975.3 319.7 974.7 320.2 974.9 320.8 975.9 321.3 977.6 321.8 980.1 322.3 983.4 322.9 987.6 323.4 992.7 323.9 998.7 324.4 1005.7 325.0 1013.4 325.5 1021.3 326.0 1028.1 326.5 1032.0 327.1 1031.4 327.6 1026.6 328.1 1019.5 328.6 1011.8 329.2 1004.6 329.7 998.2 330.2 992.7 330.7 988.2 331.3 984.5 331.8 981.8 332.3 979.8 332.8 978.6 333.4 978.1 333.9 978.4 334.4 979.4 335.0 981.2 335.5 983.7 336.0 987.1 336.5 991.3 337.1 996.4 337.6 1002.4 338.1 1009.3 338.6 1016.8 339.2 1024.3 339.7 1030.7 340.2 1033.9 340.7 1032.9 341.3 1028.1 341.8 1021.2 342.3 1013.8 342.8 1006.8 343.4 1000.7 343.9 995.4 344.4 991.0 344.9 987.5 345.5 984.9 346.0 983.0 346.5 981.9 347.0 981.5 347.6 981.8 348.1 982.9 348.6 984.8 349.1 987.4 349.7 990.8 350.2 995.0 350.7 1000.1 351.2 1006.1 351.8 1012.8 352.3 1020.1 352.8 1027.3 353.3 1033.1 353.9 1035.8 354.4 1034.4 354.9 1029.6 355.4 1022.9 356.0 1015.8 356.5 1009.1 357.0 1003.2 357.5 998.1 358.1 993.9 358.6 990.5 359.1 988.0 359.6 986.2 360.2 985.2 360.7 984.9 361.2 985.3 361.7 986.5 362.3 988.3 362.8 991.0 363.3 994.4 363.9 998.7 364.4 1003.8 364.9 1009.7 365.4 1016.4 366.0 1023.4 366.5 1030.2 367.0 1035.5 367.5 1037.7 368.1 1036.0 368.6 1031.2 369.1 1024.7 369.6 1017.9 370.2 1011.5 370.7 1005.8 371.2 1001.0 371.7 996.9 372.3 993.7 372.8 991.3 373.3 989.6 373.8 988.7 374.4 988.4 374.9 988.9 375.4 990.1 375.9 992.1 376.5 994.8 377.0 998.2 377.5 1002.5 378.0 1007.6 378.6 1013.4 379.1 1019.9 379.6 1026.8 380.1 1033.1 380.7 1037.9 381.2 1039.6 381.7 1037.7 382.2 1032.9 382.8 1026.7 383.3 1020.2 383.8 1014.0 384.3 1008.5 384.9 1003.8 385.4 1000.0 385.9 996.9 386.4 994.6 387.0 993.0 387.5 992.1 388.0 992.0 388.5 992.6 389.1 993.8 389.6 995.8 390.1 998.5 390.7 1002.0 391.2 1006.3 391.7 1011.3 392.2 1017.1 392.8 1023.4 393.3 1030.0 393.8 1035.9 394.3 1040.2 394.9 1041.4 395.4 1039.3 395.9 1034.7 396.4 1028.7 397.0 1022.4 397.5 1016.5 398.0 1011.3 398.5 1006.8 399.1 1003.0 399.6 1000.1 400.1 997.9 400.6 996.4 401.2 995.7 401.7 995.7 402.2 996.4 402.7 997.8 403.3 999.9 403.8 1002.8 404.3 1006.3 404.8 1010.7 405.4 1015.7 405.9 1021.5 406.4 1027.7 406.9 1034.0 407.5 1039.6 408.0 1043.4 408.5 1044.4 409.0 1042.2 409.6 1037.7 410.1 1032.0 410.6 1026.1 411.1 1020.5 411.7 1015.6 412.2 1011.3 412.7 1007.8 413.2 1005.1 413.8 1003.0 414.3 1001.7 414.8 1001.1 415.3 1001.2 415.9 1001.9 416.4 1003.4 416.9 1005.5 417.5 1008.4 418.0 1012.0 418.5 1016.3 419.0 1021.3 419.6 1026.9 420.1 1033.0 420.6 1039.0 421.1 1044.1 421.7 1047.5 422.2 1048.1 422.7 1045.8 423.2 1041.4 423.8 1036.0 424.3 1030.3 424.8 1025.0 425.3 1020.2 425.9 1016.1 426.4 1012.8 426.9 1010.2 427.4 1008.2 428.0 1007.0 428.5 1006.5 429.0 1006.6 429.5 1007.5 430.1 1008.9 430.6 1011.1 431.1 1014.0 431.6 1017.6 432.2 1021.8 432.7 1026.8 433.2 1032.3 433.7 1038.1 434.3 1043.8 434.8 1048.6 435.3 1051.5 435.8 1051.7 436.4 1049.4 436.9 1045.1 437.4 1039.9 437.9 1034.5 438.5 1029.4 439.0 1024.9 439.5 1021.0 440.0 1017.8 440.6 1015.3 441.1 1013.4 441.6 1012.3 442.1 1011.8 442.7 1012.0 443.2 1012.9 443.7 1014.4 444.2 1016.6 444.8 1019.5 445.3 1023.1 445.8 1027.4 446.4 1032.3 446.9 1037.8 447.4 1043.6 447.9 1049.1 448.5 1053.7 449.0 1056.4 449.5 1056.4 450.0 1053.9 450.6 1049.6 451.1 1044.4 451.6 1039.0 452.1 1034.0 452.7 1029.5 453.2 1025.6 453.7 1022.5 454.2 1020.1 454.8 1018.3 455.3 1017.2 455.8 1016.8 456.3 1017.1 456.9 1018.0 457.4 1019.6 457.9 1021.9 458.4 1024.9 459.0 1028.5 459.5 1032.9 460.0 1037.9 460.5 1043.4 461.1 1049.1 461.6 1054.6 462.1 1059.1 462.6 1061.5 463.2 1061.3 463.7 1058.5 464.2 1054.1 464.7 1048.8 465.3 1043.5 465.8 1038.5 466.3 1034.1 466.8 1030.3 467.4 1027.2 467.9 1024.9 468.4 1023.2 468.9 1022.2 469.5 1021.8 470.0 1022.1 470.5 1023.1 471.0 1024.8 471.6 1027.1 472.1 1030.2 472.6 1033.9 473.2 1038.3 473.7 1043.4 474.2 1049.0 474.7 1054.7 475.3 1060.1 475.8 1064.4 476.3 1066.6 476.8 1066.1 477.4 1063.2 477.9 1058.6 478.4 1053.3 478.9 1048.0 479.5 1043.0 480.0 1038.7 480.5 1035.0 481.0 1032.0 481.6 1029.7 482.1 1028.0 482.6 1027.1 483.1 1026.8 483.7 1027.3 484.2 1028.3 484.7 1030.1 485.2 1032.5 485.8 1035.7 486.3 1039.5 486.8 1044.0 487.3 1049.1 487.9 1054.7 488.4 1060.5 488.9 1065.9 489.4 1070.0 490.0 1072.0 490.5 1071.2 491.0 1068.1 491.5 1063.4 492.1 1058.1 492.6 1052.8 493.1 1048.0 493.6 1043.7 494.2 1040.1 494.7 1037.2 495.2 1035.0 495.7 1033.4 496.3 1032.6 496.8 1032.4 497.3 1032.9 497.8 1034.0 498.4 1035.8 498.9 1038.4 499.4 1041.5 500.0 1045.4 500.5 1050.0 501.0 1055.2 501.5 1060.9 502.1 1066.6 502.6 1071.9 503.1 1075.9 503.6 1077.6 504.2 1076.6 504.7 1073.2 505.2 1068.5 505.7 1063.1 506.3 1057.9 506.8 1053.1 507.3 1048.8 507.8 1045.3 508.4 1042.5 508.9 1040.3 509.4 1038.9 509.9 1038.1 510.5 1038.0 511.0 1038.5 511.5 1039.7 512.0 1041.6 512.6 1044.2 513.1 1047.4 513.6 1051.4 514.1 1056.1 514.7 1061.3 515.2 1067.0 515.7 1072.7 516.2 1077.9 516.8 1081.7 517.3 1083.1 517.8 1081.9 518.3 1078.3 518.9 1073.5 519.4 1068.1 519.9 1062.9 520.4 1058.2 521.0 1054.0 521.5 1050.5 522.0 1047.8 522.5 1045.7 523.1 1044.3 523.6 1043.6 524.1 1043.6 524.6 1044.3 525.2 1045.6 525.7 1047.6 526.2 1050.3 526.8 1053.7 527.3 1057.8 527.8 1062.5 528.3 1067.9 528.9 1073.6 529.4 1079.4 529.9 1084.6 530.4 1088.2 531.0 1089.4 531.5 1087.9 532.0 1084.3 532.5 1079.4 533.1 1074.1 533.6 1068.9 534.1 1064.3 534.6 1060.2 535.2 1056.9 535.7 1054.2 536.2 1052.3 536.7 1051.0 537.3 1050.4 537.8 1050.5 538.3 1051.2 538.8 1052.6 539.4 1054.6 539.9 1057.4 540.4 1060.9 540.9 1065.0 541.5 1069.8 542.0 1075.2 542.5 1081.0 543.0 1086.8 543.6 1091.8 544.1 1095.2 544.6 1096.1 545.1 1094.4 545.7 1090.6 546.2 1085.6 546.7 1080.3 547.2 1075.2 547.8 1070.6 548.3 1066.6 548.8 1063.4 549.3 1060.8 549.9 1058.9 550.4 1057.7 550.9 1057.1 551.4 1057.3 552.0 1058.1 552.5 1059.5 553.0 1061.7 553.5 1064.5 554.1 1068.0 554.6 1072.2 555.1 1077.1 555.7 1082.6 556.2 1088.4 556.7 1094.1 557.2 1099.0 557.8 1102.2 558.3 1102.9 558.8 1100.9 559.3 1096.9 559.9 1091.9 560.4 1086.6 560.9 1081.5 561.4 1077.0 562.0 1073.1 562.5 1069.9 563.0 1067.3 563.5 1065.5 564.1 1064.4 564.6 1064.0 565.1 1064.2 565.6 1065.1 566.2 1066.7 566.7 1069.0 567.2 1071.9 567.7 1075.6 568.3 1079.9 568.8 1084.9 569.3 1090.5 569.8 1096.3 570.4 1102.1 570.9 1106.9 571.4 1109.9 571.9 1110.4 572.5 1108.2 573.0 1104.2 573.5 1099.1 574.0 1093.9 574.6 1088.9 575.1 1084.5 575.6 1080.7 576.1 1077.6 576.7 1075.2 577.2 1073.5 577.7 1072.5 578.2 1072.2 578.8 1072.5 579.3 1073.5 579.8 1075.1 580.3 1077.4 580.9 1080.5 581.4 1084.2 581.9 1088.6 582.5 1093.7 583.0 1099.2 583.5 1105.1 584.0 1110.8 584.6 1115.5 585.1 1118.3 585.6 1118.5 586.1 1116.1 586.7 1111.9 587.2 1106.8 587.7 1101.6 588.2 1096.6 588.8 1092.3 589.3 1088.6 589.8 1085.5 590.3 1083.2 590.9 1081.6 591.4 1080.6 591.9 1080.4 592.4 1080.7 593.0 1081.8 593.5 1083.5 594.0 1085.9 594.5 1089.0 595.1 1092.8 595.6 1097.3 596.1 1102.4 596.6 1108.0 597.2 1113.9 597.7 1119.5 598.2 1124.1 598.7 1126.6 599.3 1126.5 599.8 1123.9 600.3 1119.6 600.8 1114.5 601.4 1109.2 601.9 1104.4 602.4 1100.1 602.9 1096.4 603.5 1093.5 604.0 1091.2 604.5 1089.6 605.0 1088.6 605.6 1088.3 606.1 1088.6 606.6 1089.6 607.1 1091.3 607.7 1093.6 608.2 1096.6 608.7 1100.4 609.3 1104.8 609.8 1109.8 610.3 1115.4 610.8 1121.2 611.4 1126.6 611.9 1130.9 612.4 1133.0 612.9 1132.5 613.5 1129.6 614.0 1125.0 614.5 1119.7 615.0 1114.4 615.6 1109.5 616.1 1105.1 616.6 1101.4 617.1 1098.4 617.7 1096.1 618.2 1094.5 618.7 1093.5 619.2 1093.3 619.8 1093.6 620.3 1094.7 620.8 1096.4 621.3 1098.8 621.9 1102.0 622.4 1105.8 622.9 1110.2 623.4 1115.4 624.0 1121.0 624.5 1126.7 625.0 1132.1 625.5 1136.2 626.1 1138.1 626.6 1137.3 627.1 1134.2 627.6 1129.5 628.2 1124.2 628.7 1118.9 629.2 1114.0 629.7 1109.7 630.3 1106.0 630.8 1103.1 631.3 1100.9 631.8 1099.3 632.4 1098.4 632.9 1098.4 633.4 1099.0 633.9 1100.2 634.5 1102.2 635.0 1104.8 635.5 1108.1 636.1 1112.1 636.6 1116.8 637.1 1122.1 637.6 1127.9 638.2 1133.8 638.7 1139.2 639.2 1143.2 639.7 1145.0 640.3 1144.2 640.8 1140.9 641.3 1136.3 641.8 1131.1 642.4 1125.9 642.9 1121.2 643.4 1117.1 643.9 1113.7 644.5 1111.0 645.0 1109.0 645.5 1107.6 646.0 1107.0 646.6 1107.0 647.1 1107.6 647.6 1108.9 648.1 1110.9 648.7 1113.6 649.2 1117.0 649.7 1121.1 650.2 1125.9 650.8 1131.2 651.3 1137.0 651.8 1142.9 652.3 1148.2 652.9 1152.1 653.4 1153.6 653.9 1152.5 654.4 1149.1 655.0 1144.3 655.5 1139.1 656.0 1134.0 656.5 1129.3 657.1 1125.3 657.6 1122.0 658.1 1119.3 658.6 1117.3 659.2 1116.1 659.7 1115.5 660.2 1115.5 660.7 1116.3 661.3 1117.7 661.8 1119.7 662.3 1122.5 662.8 1125.9 663.4 1130.1 663.9 1134.9 664.4 1140.3 665.0 1146.2 665.5 1152.0 666.0 1157.2 666.5 1160.9 667.1 1162.2 667.6 1160.8 668.1 1157.2 668.6 1152.4 669.2 1147.1 669.7 1142.1 670.2 1137.5 670.7 1133.5 671.3 1130.2 671.8 1127.6 672.3 1125.7 672.8 1124.4 673.4 1123.8 673.9 1123.9 674.4 1124.7 674.9 1126.1 675.5 1128.2 676.0 1131.0 676.5 1134.4 677.0 1138.6 677.6 1143.5 678.1 1148.9 678.6 1154.7 679.1 1160.4 679.7 1165.5 680.2 1168.9 680.7 1169.9 681.2 1168.2 681.8 1164.4 682.3 1159.4 682.8 1154.1 683.3 1149.1 683.9 1144.5 684.4 1140.5 684.9 1137.3 685.4 1134.7 686.0 1132.8 686.5 1131.6 687.0 1131.1 687.5 1131.3 688.1 1132.1 688.6 1133.6 689.1 1135.7 689.6 1138.6 690.2 1142.1 690.7 1146.4 691.2 1151.3 691.8 1156.7 692.3 1162.6 692.8 1168.3 693.3 1173.2 693.9 1176.4 694.4 1177.1 694.9 1175.2 695.4 1171.2 696.0 1166.2 696.5 1160.9 697.0 1155.9 697.5 1151.4 698.1 1147.5 698.6 1144.3 699.1 1141.8 699.6 1140.0 700.2 1138.9 700.7 1138.4 701.2 1138.6 701.7 1139.5 702.3 1141.1 702.8 1143.3 703.3 1146.2 703.8 1149.8 704.4 1154.1 704.9 1159.1 705.4 1164.6 705.9 1170.4 706.5 1176.1 707.0 1180.9 707.5 1183.9 708.0 1184.3 708.6 1182.1 709.1 1178.0 709.6 1173.0 710.1 1167.7 710.7 1162.7 711.2 1158.2 711.7 1154.4 712.2 1151.3 712.8 1148.9 713.3 1147.1 713.8 1146.1 714.3 1145.7 714.9 1146.0 715.4 1146.9 715.9 1148.5 716.4 1150.8 717.0 1153.8 717.5 1157.5 718.0 1161.9 718.6 1166.9 719.1 1172.5 719.6 1178.3 720.1 1184.0 720.7 1188.6 721.2 1191.4 721.7 1191.5 722.2 1189.1 722.8 1184.9 723.3 1179.7 723.8 1174.5 724.3 1169.5 724.9 1165.1 725.4 1161.4 725.9 1158.3 726.4 1156.0 727.0 1154.3 727.5 1153.3 728.0 1153.0 728.5 1153.4 729.1 1154.4 729.6 1156.0 730.1 1158.4 730.6 1161.5 731.2 1165.2 731.7 1169.7 732.2 1174.8 732.7 1180.4 733.3 1186.2 733.8 1191.8 734.3 1196.3 734.8 1198.8 735.4 1198.7 735.9 1196.1 736.4 1191.7 736.9 1186.5 737.5 1181.3 738.0 1176.4 738.5 1172.0 739.0 1168.3 739.6 1165.4 740.1 1163.1 740.6 1161.5 741.1 1160.6 741.7 1160.3 742.2 1160.8 742.7 1161.9 743.2 1163.6 743.8 1166.1 744.3 1169.3 744.8 1173.1 745.3 1177.6 745.9 1182.8 746.4 1188.5 746.9 1194.3 747.5 1199.9 748.0 1204.2 748.5 1206.5 749.0 1206.2 749.6 1203.3 750.1 1198.9 750.6 1193.7 751.1 1188.5 751.7 1183.6 752.2 1179.4 752.7 1175.8 753.2 1172.9 753.8 1170.7 754.3 1169.2 754.8 1168.4 755.3 1168.2 755.9 1168.7 756.4 1169.9 756.9 1171.7 757.4 1174.2 758.0 1177.5 758.5 1181.4 759.0 1186.0 759.5 1191.2 760.1 1196.9 760.6 1202.8 761.1 1208.2 761.6 1212.4 762.2 1214.5 762.7 1213.8 763.2 1210.8 763.7 1206.2 764.3 1201.0 764.8 1195.8 765.3 1191.0 765.8 1186.8 766.4 1183.3 766.9 1180.5 767.4 1178.4 767.9 1176.9 768.5 1176.2 769.0 1176.1 769.5 1176.6 770.0 1177.9 770.6 1179.8 771.1 1182.4 771.6 1185.7 772.1 1189.7 772.7 1194.3 773.2 1199.6 773.7 1205.3 774.3 1211.2 774.8 1216.6 775.3 1220.6 775.8 1222.4 776.4 1221.5 776.9 1218.2 777.4 1213.5 777.9 1208.3 778.5 1203.2 779.0 1198.4 779.5 1194.3 780.0 1190.9 780.6 1188.1 781.1 1186.0 781.6 1184.7 782.1 1184.0 782.7 1184.0 783.2 1184.7 783.7 1186.1 784.2 1188.1 784.8 1190.8 785.3 1194.2 785.8 1198.3 786.3 1203.0 786.9 1208.4 787.4 1214.2 787.9 1220.1 788.4 1225.4 789.0 1229.3 789.5 1230.8 790.0 1229.7 790.5 1226.3 791.1 1221.6 791.6 1216.4 792.1 1211.3 792.6 1206.6 793.2 1202.6 793.7 1199.3 794.2 1196.6 794.7 1194.7 795.3 1193.4 795.8 1192.8 796.3 1192.9 796.8 1193.6 797.4 1195.0 797.9 1197.1 798.4 1199.9 798.9 1203.4 799.5 1207.5 800.0 1212.4 800.5 1217.8 801.1 1223.6 801.6 1229.5 802.1 1234.7 802.6 1238.4 803.2 1239.7 803.7 1238.3 804.2 1234.7 804.7 1229.9 805.3 1224.7 805.8 1219.6 806.3 1215.0 806.8 1211.1 807.4 1207.8 807.9 1205.2 808.4 1203.3 808.9 1202.1 809.5 1201.6 810.0 1201.8 810.5 1202.6 811.0 1204.0 811.6 1206.2 812.1 1209.0 812.6 1212.6 813.1 1216.8 813.7 1221.7 814.2 1227.2 814.7 1233.0 815.2 1238.8 815.8 1244.0 816.3 1247.4 816.8 1248.5 817.3 1246.8 817.9 1243.1 818.4 1238.2 818.9 1233.0 819.4 1227.9 820.0 1223.4 820.5 1219.5 821.0 1216.3 821.5 1213.8 822.1 1212.0 822.6 1210.9 823.1 1210.3 823.6 1210.5 824.2 1211.3 824.7 1212.8 825.2 1215.0 825.7 1217.8 826.3 1221.4 826.8 1225.6 827.3 1230.5 827.9 1236.0 828.4 1241.8 828.9 1247.5 829.4 1252.5 830.0 1255.7 830.5 1256.4 831.0 1254.4 831.5 1250.5 832.1 1245.4 832.6 1240.2 833.1 1235.1 833.6 1230.6 834.2 1226.7 834.7 1223.5 835.2 1221.0 835.7 1219.2 836.3 1218.1 836.8 1217.7 837.3 1217.9 837.8 1218.8 838.4 1220.3 838.9 1222.6 839.4 1225.5 839.9 1229.1 840.5 1233.4 841.0 1238.4 841.5 1243.9 842.0 1249.7 842.6 1255.4 843.1 1260.2 843.6 1263.2 844.1 1263.6 844.7 1261.4 845.2 1257.3 845.7 1252.3 846.2 1247.0 846.8 1242.0 847.3 1237.5 847.8 1233.7 848.3 1230.6 848.9 1228.2 849.4 1226.5 849.9 1225.4 850.4 1225.0 851.0 1225.3 851.5 1226.3 852.0 1227.9 852.5 1230.2 853.1 1233.2 853.6 1236.9 854.1 1241.2 854.6 1246.3 855.2 1251.8 855.7 1257.7 856.2 1263.3M858.9 1264.2 859.4 1259.1 859.9 1253.8 860.4 1248.9 861.0 1244.5 861.5 1240.7 862.0 1237.7 862.5 1235.3 863.1 1233.7 863.6 1232.7 864.1 1232.4 864.6 1232.7 865.2 1233.7 865.7 1235.4 866.2 1237.8 866.7 1240.9 867.3 1244.6 867.8 1249.1 868.3 1254.1 868.8 1259.8 869.4 1265.6M873.6 1260.7 874.1 1255.8 874.6 1251.4 875.1 1247.8 875.7 1244.8 876.2 1242.5 876.7 1240.9 877.2 1240.0 877.8 1239.7 878.3 1240.2 878.8 1241.2 879.3 1243.0 879.9 1245.4 880.4 1248.6 880.9 1252.4 881.4 1256.9 882.0 1262.0M887.8 1262.7 888.3 1258.4 888.8 1254.8 889.3 1251.9 889.9 1249.7 890.4 1248.1 890.9 1247.3 891.4 1247.2 892.0 1247.7 892.5 1248.9 893.0 1250.8 893.5 1253.3 894.1 1256.6 894.6 1260.5 895.1 1265.2M902.5 1263.0 903.0 1260.2 903.5 1258.1 904.0 1256.7 904.6 1256.0 905.1 1255.9 905.6 1256.5 906.1 1257.8 906.7 1259.8 907.2 1262.4 907.7 1265.7M917.7 1265.4 918.2 1264.7 918.8 1264.7 919.3 1265.4" stroke="#4DBEEE"/>
<path d="M88.5 925.5 89.0 926.8 89.6 928.9 90.1 931.8 90.6 935.5 91.1 940.1 91.7 945.5 92.2 952.0 92.7 959.4 93.2 967.8 93.8 977.0 94.3 986.3 94.8 994.0 95.3 997.9 95.9 996.6 96.4 991.3 96.9 984.2 97.4 977.0 98.0 970.6 98.5 965.2 99.0 960.7 99.5 957.3 100.1 954.7 100.6 953.1 101.1 952.2 101.6 952.1 102.2 952.8 102.7 953.9 103.2 955.0 103.7 956.9 104.3 959.6 104.8 963.2 105.3 967.7 105.8 973.2 106.4 979.7 106.9 987.2 107.4 995.4 107.9 1003.5 108.5 1009.9 109.0 1012.3 109.5 1009.4 110.0 1002.7 110.6 994.6 111.1 986.4 111.6 979.0 112.1 972.6 112.7 967.3 113.2 962.8 113.7 959.3 114.2 956.7 114.8 954.9 115.3 953.8 115.8 953.5 116.4 953.9 116.9 955.2 117.4 957.2 117.9 960.0 118.5 963.6 119.0 968.2 119.5 973.8 120.0 980.4 120.6 988.0 121.1 996.2 121.6 1004.3 122.1 1010.4 122.7 1012.2 123.2 1008.9 123.7 1002.0 124.2 993.7 124.8 985.6 125.3 978.3 125.8 972.0 126.3 966.8 126.9 962.4 127.4 959.0 127.9 956.5 128.4 954.7 129.0 953.7 129.5 953.5 130.0 954.0 130.5 955.3 131.1 957.4 131.6 960.3 132.1 964.1 132.6 968.8 133.2 974.4 133.7 981.1 134.2 988.8 134.7 997.1 135.3 1005.0 135.8 1010.8 136.3 1012.1 136.8 1008.3 137.4 1001.2 137.9 992.9 138.4 984.9 138.9 977.7 139.5 971.5 140.0 966.3 140.5 962.1 141.0 958.7 141.6 956.3 142.1 954.6 142.6 953.7 143.1 953.5 143.7 954.1 144.2 955.5 144.7 957.6 145.3 960.6 145.8 964.5 146.3 969.3 146.8 975.1 147.4 981.9 147.9 989.6 148.4 997.9 148.9 1005.7 149.5 1011.1 150.0 1011.9 150.5 1007.7 151.0 1000.4 151.6 992.1 152.1 984.1 152.6 977.0 153.1 970.9 153.7 965.8 154.2 961.7 154.7 958.5 155.2 956.1 155.8 954.5 156.3 953.6 156.8 953.5 157.3 954.2 157.9 955.7 158.4 957.9 158.9 961.0 159.4 964.9 160.0 969.8 160.5 975.7 161.0 982.6 161.5 990.4 162.1 998.7 162.6 1006.4 163.1 1011.5 163.6 1011.7 164.2 1007.1 164.7 999.5 165.2 991.2 165.7 983.3 166.3 976.3 166.8 970.4 167.3 965.4 167.8 961.3 168.4 958.2 168.9 955.9 169.4 954.3 169.9 953.6 170.5 953.6 171.0 954.3 171.5 955.9 172.1 958.2 172.6 961.3 173.1 965.4 173.6 970.4 174.2 976.3 174.7 983.3 175.2 991.2 175.7 999.5 176.3 1007.1 176.8 1011.7 177.3 1011.5 177.8 1006.4 178.4 998.7 178.9 990.4 179.4 982.6 179.9 975.7 180.5 969.8 181.0 964.9 181.5 961.0 182.0 957.9 182.6 955.7 183.1 954.2 183.6 953.5 184.1 953.6 184.7 954.5 185.2 956.1 185.7 958.5 186.2 961.7 186.8 965.8 187.3 970.9 187.8 977.0 188.3 984.1 188.9 992.1 189.4 1000.4 189.9 1007.7 190.4 1011.9 191.0 1011.1 191.5 1005.7 192.0 997.9 192.5 989.6 193.1 981.9 193.6 975.1 194.1 969.3 194.6 964.6 195.2 960.8 195.7 957.9 196.2 955.8 196.7 954.5 197.3 953.9 197.8 954.1 198.3 955.1 198.9 956.8 199.4 959.4 199.9 962.8 200.4 967.0 201.0 972.3 201.5 978.5 202.0 985.8 202.5 993.9 203.1 1002.2 203.6 1009.4 204.1 1013.2 204.6 1012.0 205.2 1006.3 205.7 998.4 206.2 990.2 206.7 982.6 207.3 975.9 207.8 970.3 208.3 965.7 208.8 961.9 209.4 959.1 209.9 957.1 210.4 955.9 210.9 955.4 211.5 955.7 212.0 956.7 212.5 958.5 213.0 961.1 213.6 964.6 214.1 969.0 214.6 974.3 215.1 980.7 215.7 988.0 216.2 996.2 216.7 1004.5 217.2 1011.4 217.8 1014.8 218.3 1013.0 218.8 1007.0 219.3 999.0 219.9 990.8 220.4 983.3 220.9 976.8 221.4 971.3 222.0 966.7 222.5 963.1 223.0 960.3 223.5 958.4 224.1 957.2 224.6 956.8 225.1 957.2 225.7 958.4 226.2 960.3 226.7 963.1 227.2 966.7 227.8 971.2 228.3 976.7 228.8 983.2 229.3 990.7 229.9 999.0 230.4 1007.3 230.9 1014.1 231.4 1017.0 232.0 1014.8 232.5 1008.5 233.0 1000.5 233.5 992.4 234.1 985.0 234.6 978.7 235.1 973.3 235.6 968.9 236.2 965.4 236.7 962.8 237.2 961.0 237.7 960.0 238.3 959.7 238.8 960.2 239.3 961.4 239.8 963.5 240.4 966.3 240.9 970.0 241.4 974.6 241.9 980.2 242.5 986.8 243.0 994.4 243.5 1002.7 244.0 1011.0 244.6 1017.5 245.1 1019.9 245.6 1017.2 246.1 1010.6 246.7 1002.6 247.2 994.5 247.7 987.3 248.2 981.0 248.8 975.7 249.3 971.4 249.8 968.0 250.3 965.5 250.9 963.7 251.4 962.8 251.9 962.6 252.4 963.2 253.0 964.5 253.5 966.6 254.0 969.5 254.6 973.3 255.1 978.0 255.6 983.7 256.1 990.4 256.7 998.1 257.2 1006.5 257.7 1014.6 258.2 1020.8 258.8 1022.8 259.3 1019.6 259.8 1012.8 260.3 1004.6 260.9 996.7 261.4 989.5 261.9 983.3 262.4 978.1 263.0 973.9 263.5 970.6 264.0 968.2 264.5 966.6 265.1 965.7 265.6 965.6 266.1 966.3 266.6 967.7 267.2 969.9 267.7 972.9 268.2 976.8 268.7 981.6 269.3 987.4 269.8 994.2 270.3 1001.9 270.8 1010.2 271.4 1018.1 271.9 1023.8 272.4 1025.1 272.9 1021.6 273.5 1014.7 274.0 1006.7 274.5 999.0 275.0 992.0 275.6 986.0 276.1 981.0 276.6 976.9 277.1 973.8 277.7 971.4 278.2 969.9 278.7 969.1 279.2 969.1 279.8 969.9 280.3 971.4 280.8 973.6 281.4 976.7 281.9 980.6 282.4 985.5 282.9 991.3 283.5 998.1 284.0 1005.7 284.5 1013.7 285.0 1021.3 285.6 1026.4 286.1 1027.2 286.6 1023.4 287.1 1016.6 287.7 1008.8 288.2 1001.3 288.7 994.6 289.2 988.8 289.8 983.9 290.3 980.0 290.8 977.0 291.3 974.7 291.9 973.3 292.4 972.6 292.9 972.7 293.4 973.5 294.0 975.0 294.5 977.3 295.0 980.5 295.5 984.5 296.1 989.4 296.6 995.2 297.1 1001.9 297.6 1009.4 298.2 1017.3 298.7 1024.4 299.2 1028.9 299.7 1029.3 300.3 1025.2 300.8 1018.5 301.3 1011.0 301.8 1003.7 302.4 997.2 302.9 991.6 303.4 986.9 303.9 983.1 304.5 980.1 305.0 978.0 305.5 976.7 306.0 976.1 306.6 976.2 307.1 977.1 307.6 978.7 308.2 981.1 308.7 984.3 309.2 988.3 309.7 993.2 310.3 999.0 310.8 1005.7 311.3 1013.1 311.8 1020.7 312.4 1027.4 312.9 1031.4 313.4 1031.3 313.9 1027.1 314.5 1020.5 315.0 1013.2 315.5 1006.1 316.0 999.8 316.6 994.4 317.1 989.8 317.6 986.2 318.1 983.3 318.7 981.3 319.2 980.0 319.7 979.5 320.2 979.8 320.8 980.8 321.3 982.5 321.8 985.0 322.3 988.3 322.9 992.4 323.4 997.4 323.9 1003.3 324.4 1010.0 325.0 1017.3 325.5 1024.6 326.0 1030.9 326.5 1034.5 327.1 1034.0 327.6 1029.7 328.1 1023.3 328.6 1016.2 329.2 1009.4 329.7 1003.4 330.2 998.2 330.7 993.8 331.3 990.3 331.8 987.7 332.3 985.8 332.8 984.7 333.4 984.3 333.9 984.6 334.4 985.6 335.0 987.4 335.5 990.0 336.0 993.3 336.5 997.5 337.1 1002.5 337.6 1008.3 338.1 1015.0 338.6 1022.1 339.2 1029.2 339.7 1035.1 340.2 1038.1 340.7 1037.2 341.3 1032.9 341.8 1026.6 342.3 1019.7 342.8 1013.2 343.4 1007.3 343.9 1002.3 344.4 998.1 344.9 994.7 345.5 992.2 346.0 990.4 346.5 989.3 347.0 989.0 347.6 989.4 348.1 990.5 348.6 992.4 349.1 995.0 349.7 998.3 350.2 1002.5 350.7 1007.6 351.2 1013.4 351.8 1019.9 352.3 1026.9 352.8 1033.7 353.3 1039.1 353.9 1041.7 354.4 1040.5 354.9 1036.1 355.4 1029.9 356.0 1023.3 356.5 1016.9 357.0 1011.3 357.5 1006.4 358.1 1002.3 358.6 999.1 359.1 996.7 359.6 995.0 360.2 994.0 360.7 993.8 361.2 994.3 361.7 995.5 362.3 997.4 362.8 1000.1 363.3 1003.6 363.9 1007.8 364.4 1012.9 364.9 1018.8 365.4 1025.3 366.0 1032.1 366.5 1038.6 367.0 1043.6 367.5 1045.7 368.1 1044.3 368.6 1039.9 369.1 1034.0 369.6 1027.6 370.2 1021.5 370.7 1016.1 371.2 1011.4 371.7 1007.5 372.3 1004.5 372.8 1002.2 373.3 1000.6 373.8 999.8 374.4 999.7 374.9 1000.2 375.4 1001.5 375.9 1003.5 376.5 1006.3 377.0 1009.8 377.5 1014.0 378.0 1019.1 378.6 1024.9 379.1 1031.3 379.6 1037.9 380.1 1044.1 380.7 1048.7 381.2 1050.4 381.7 1048.7 382.2 1044.3 382.8 1038.5 383.3 1032.3 383.8 1026.5 384.3 1021.2 384.9 1016.7 385.4 1013.0 385.9 1010.0 386.4 1007.8 387.0 1006.4 387.5 1005.6 388.0 1005.6 388.5 1006.2 389.1 1007.6 389.6 1009.6 390.1 1012.4 390.7 1015.9 391.2 1020.2 391.7 1025.3 392.2 1031.0 392.8 1037.3 393.3 1043.7 393.8 1049.6 394.3 1053.7 394.9 1055.0 395.4 1053.1 395.9 1048.8 396.4 1043.1 397.0 1037.1 397.5 1031.4 398.0 1026.4 398.5 1022.0 399.1 1018.5 399.6 1015.6 400.1 1013.5 400.6 1012.2 401.2 1011.6 401.7 1011.7 402.2 1012.4 402.7 1013.9 403.3 1016.0 403.8 1018.9 404.3 1022.5 404.8 1026.8 405.4 1031.9 405.9 1037.6 406.4 1043.8 406.9 1050.1 407.5 1055.6 408.0 1059.3 408.5 1060.3 409.0 1058.3 409.6 1054.1 410.1 1048.6 410.6 1042.9 411.1 1037.4 411.7 1032.6 412.2 1028.5 412.7 1025.1 413.2 1022.4 413.8 1020.5 414.3 1019.3 414.8 1018.7 415.3 1018.9 415.9 1019.7 416.4 1021.2 416.9 1023.4 417.5 1026.3 418.0 1029.9 418.5 1034.2 419.0 1039.3 419.6 1044.9 420.1 1051.0 420.6 1057.0 421.1 1062.1 421.7 1065.5 422.2 1066.2 422.7 1064.0 423.2 1059.8 423.8 1054.5 424.3 1049.0 424.8 1043.7 425.3 1039.1 425.9 1035.1 426.4 1031.8 426.9 1029.3 427.4 1027.5 428.0 1026.3 428.5 1025.9 429.0 1026.1 429.5 1026.9 430.1 1028.5 430.6 1030.7 431.1 1033.7 431.6 1037.3 432.2 1041.6 432.7 1046.6 433.2 1052.2 433.7 1058.1 434.3 1063.8 434.8 1068.6 435.3 1071.6 435.8 1072.0 436.4 1069.7 436.9 1065.5 437.4 1060.4 437.9 1055.1 438.5 1050.0 439.0 1045.6 439.5 1041.7 440.0 1038.6 440.6 1036.2 441.1 1034.4 441.6 1033.3 442.1 1032.9 442.7 1033.1 443.2 1034.0 443.7 1035.6 444.2 1037.8 444.8 1040.7 445.3 1044.4 445.8 1048.7 446.4 1053.7 446.9 1059.2 447.4 1065.0 447.9 1070.6 448.5 1075.2 449.0 1077.9 449.5 1078.0 450.0 1075.5 450.6 1071.2 451.1 1066.0 451.6 1060.7 452.1 1055.7 452.7 1051.3 453.2 1047.5 453.7 1044.4 454.2 1042.0 454.8 1040.2 455.3 1039.2 455.8 1038.8 456.3 1039.1 456.9 1040.1 457.4 1041.7 457.9 1044.0 458.4 1047.0 459.0 1050.7 459.5 1055.1 460.0 1060.2 460.5 1065.7 461.1 1071.5 461.6 1077.1 462.1 1081.5 462.6 1084.0 463.2 1083.8 463.7 1081.1 464.2 1076.7 464.7 1071.5 465.3 1066.2 465.8 1061.2 466.3 1056.8 466.8 1053.1 467.4 1050.1 467.9 1047.7 468.4 1046.1 468.9 1045.1 469.5 1044.8 470.0 1045.2 470.5 1046.2 471.0 1047.9 471.6 1050.3 472.1 1053.4 472.6 1057.1 473.2 1061.6 473.7 1066.7 474.2 1072.3 474.7 1078.1 475.3 1083.5 475.8 1087.8 476.3 1090.1 476.8 1089.6 477.4 1086.7 477.9 1082.2 478.4 1076.9 478.9 1071.6 479.5 1066.7 480.0 1062.4 480.5 1058.7 481.0 1055.8 481.6 1053.5 482.1 1051.9 482.6 1051.0 483.1 1050.9 483.7 1051.4 484.2 1052.5 484.7 1054.4 485.2 1056.9 485.8 1060.1 486.3 1064.0 486.8 1068.6 487.3 1073.9 487.9 1079.6 488.4 1085.4 488.9 1090.9 489.4 1095.1 490.0 1097.1 490.5 1096.5 491.0 1093.4 491.5 1088.9 492.1 1083.7 492.6 1078.5 493.1 1073.7 493.6 1069.5 494.2 1066.0 494.7 1063.2 495.2 1061.0 495.7 1059.6 496.3 1058.8 496.8 1058.7 497.3 1059.3 497.8 1060.5 498.4 1062.4 498.9 1065.0 499.4 1068.3 500.0 1072.3 500.5 1077.0 501.0 1082.3 501.5 1088.0 502.1 1093.8 502.6 1099.2 503.1 1103.3 503.6 1105.0 504.2 1104.1 504.7 1100.9 505.2 1096.2 505.7 1091.0 506.3 1085.8 506.8 1081.1 507.3 1077.0 507.8 1073.5 508.4 1070.8 508.9 1068.7 509.4 1067.3 509.9 1066.6 510.5 1066.6 511.0 1067.2 511.5 1068.5 512.0 1070.5 512.6 1073.2 513.1 1076.5 513.6 1080.6 514.1 1085.3 514.7 1090.7 515.2 1096.4 515.7 1102.3 516.2 1107.6 516.8 1111.4 517.3 1112.9 517.8 1111.7 518.3 1108.3 518.9 1103.5 519.4 1098.3 519.9 1093.2 520.4 1088.5 521.0 1084.4 521.5 1081.1 522.0 1078.4 522.5 1076.4 523.1 1075.1 523.6 1074.5 524.1 1074.5 524.6 1075.2 525.2 1076.6 525.7 1078.6 526.2 1081.4 526.8 1084.8 527.3 1088.9 527.8 1093.7 528.3 1099.1 528.9 1104.9 529.4 1110.7 529.9 1115.9 530.4 1119.6 531.0 1120.8 531.5 1119.4 532.0 1115.8 532.5 1111.0 533.1 1105.7 533.6 1100.6 534.1 1096.0 534.6 1092.0 535.2 1088.7 535.7 1086.1 536.2 1084.2 536.7 1083.0 537.3 1082.4 537.8 1082.5 538.3 1083.3 538.8 1084.7 539.4 1086.8 539.9 1089.6 540.4 1093.1 540.9 1097.3 541.5 1102.2 542.0 1107.7 542.5 1113.5 543.0 1119.3 543.6 1124.4 544.1 1127.8 544.6 1128.8 545.1 1127.1 545.7 1123.3 546.2 1118.4 546.7 1113.2 547.2 1108.1 547.8 1103.5 548.3 1099.6 548.8 1096.4 549.3 1093.8 549.9 1092.0 550.4 1090.8 550.9 1090.3 551.4 1090.5 552.0 1091.3 552.5 1092.7 553.0 1094.9 553.5 1097.7 554.1 1101.2 554.6 1105.5 555.1 1110.4 555.7 1115.8 556.2 1121.6 556.7 1127.3 557.2 1132.2 557.8 1135.4 558.3 1136.1 558.8 1134.1 559.3 1130.2 559.9 1125.1 560.4 1119.8 560.9 1114.8 561.4 1110.2 562.0 1106.3 562.5 1103.1 563.0 1100.6 563.5 1098.8 564.1 1097.7 564.6 1097.2 565.1 1097.4 565.6 1098.2 566.2 1099.8 566.7 1102.0 567.2 1104.9 567.7 1108.5 568.3 1112.8 568.8 1117.7 569.3 1123.2 569.8 1129.0 570.4 1134.7 570.9 1139.5 571.4 1142.5 571.9 1142.9 572.5 1140.7 573.0 1136.5 573.5 1131.4 574.0 1126.2 574.6 1121.1 575.1 1116.7 575.6 1112.8 576.1 1109.7 576.7 1107.2 577.2 1105.5 577.7 1104.4 578.2 1104.1 578.8 1104.4 579.3 1105.5 579.8 1107.2 580.3 1109.6 580.9 1112.6 581.4 1116.4 581.9 1120.9 582.5 1126.0 583.0 1131.6 583.5 1137.6 584.0 1143.3 584.6 1148.0 585.1 1150.9 585.6 1151.1 586.1 1148.8 586.7 1144.6 587.2 1139.6 587.7 1134.4 588.2 1129.5 588.8 1125.2 589.3 1121.6 589.8 1118.6 590.3 1116.3 590.9 1114.8 591.4 1113.9 591.9 1113.6 592.4 1114.1 593.0 1115.2 593.5 1116.9 594.0 1119.4 594.5 1122.5 595.1 1126.4 595.6 1130.9 596.1 1136.1 596.6 1141.8 597.2 1147.7 597.7 1153.4 598.2 1158.0 598.7 1160.6 599.3 1160.5 599.8 1158.0 600.3 1153.7 600.8 1148.6 601.4 1143.5 601.9 1138.6 602.4 1134.4 602.9 1130.8 603.5 1127.9 604.0 1125.7 604.5 1124.2 605.0 1123.3 605.6 1123.1 606.1 1123.5 606.6 1124.6 607.1 1126.4 607.7 1128.8 608.2 1132.0 608.7 1135.8 609.3 1140.4 609.8 1145.6 610.3 1151.2 610.8 1157.1 611.4 1162.6 611.9 1167.0 612.4 1169.3 612.9 1168.9 613.5 1166.1 614.0 1161.6 614.5 1156.5 615.0 1151.3 615.6 1146.4 616.1 1142.2 616.6 1138.6 617.1 1135.7 617.7 1133.5 618.2 1132.0 618.7 1131.2 619.2 1131.0 619.8 1131.6 620.3 1132.7 620.8 1134.6 621.3 1137.1 621.9 1140.3 622.4 1144.3 622.9 1148.9 623.4 1154.1 624.0 1159.8 624.5 1165.7 625.0 1171.1 625.5 1175.4 626.1 1177.4 626.6 1176.8 627.1 1173.7 627.6 1169.2 628.2 1164.0 628.7 1158.8 629.2 1154.0 629.7 1149.8 630.3 1146.3 630.8 1143.5 631.3 1141.4 631.8 1139.9 632.4 1139.2 632.9 1139.1 633.4 1139.7 633.9 1140.9 634.5 1142.8 635.0 1145.4 635.5 1148.7 636.1 1152.7 636.6 1157.4 637.1 1162.7 637.6 1168.4 638.2 1174.3 638.7 1179.7 639.2 1183.7 639.7 1185.5 640.3 1184.6 640.8 1181.4 641.3 1176.7 641.8 1171.5 642.4 1166.3 642.9 1161.6 643.4 1157.5 643.9 1154.0 644.5 1151.3 645.0 1149.2 645.5 1147.9 646.0 1147.2 646.6 1147.2 647.1 1147.8 647.6 1149.1 648.1 1151.1 648.7 1153.8 649.2 1157.1 649.7 1161.2 650.2 1165.9 650.8 1171.3 651.3 1177.0 651.8 1182.9 652.3 1188.2 652.9 1192.0 653.4 1193.6 653.9 1192.4 654.4 1189.0 655.0 1184.2 655.5 1179.0 656.0 1173.8 656.5 1169.2 657.1 1165.1 657.6 1161.8 658.1 1159.1 658.6 1157.1 659.2 1155.8 659.7 1155.2 660.2 1155.2 660.7 1155.9 661.3 1157.3 661.8 1159.4 662.3 1162.1 662.8 1165.5 663.4 1169.7 663.9 1174.5 664.4 1179.9 665.0 1185.7 665.5 1191.5 666.0 1196.7 666.5 1200.3 667.1 1201.6 667.6 1200.2 668.1 1196.6 668.6 1191.7 669.2 1186.5 669.7 1181.4 670.2 1176.8 670.7 1172.8 671.3 1169.5 671.8 1166.9 672.3 1165.0 672.8 1163.7 673.4 1163.2 673.9 1163.3 674.4 1164.1 674.9 1165.5 675.5 1167.6 676.0 1170.5 676.5 1174.0 677.0 1178.2 677.6 1183.0 678.1 1188.5 678.6 1194.3 679.1 1200.1 679.7 1205.2 680.2 1208.6 680.7 1209.6 681.2 1207.9 681.8 1204.2 682.3 1199.2 682.8 1194.0 683.3 1188.9 683.9 1184.4 684.4 1180.5 684.9 1177.2 685.4 1174.7 686.0 1172.9 686.5 1171.7 687.0 1171.3 687.5 1171.6 688.1 1172.5 688.6 1174.2 689.1 1176.5 689.6 1179.5 690.2 1183.2 690.7 1187.5 691.2 1192.6 691.8 1198.2 692.3 1204.2 692.8 1210.0 693.3 1215.1 693.9 1218.5 694.4 1219.3 694.9 1217.5 695.4 1213.7 696.0 1208.8 696.5 1203.7 697.0 1198.8 697.5 1194.4 698.1 1190.7 698.6 1187.6 699.1 1185.3 699.6 1183.6 700.2 1182.6 700.7 1182.3 701.2 1182.7 701.7 1183.7 702.3 1185.4 702.8 1187.8 703.3 1190.8 703.8 1194.6 704.4 1199.1 704.9 1204.2 705.4 1209.8 705.9 1215.8 706.5 1221.6 707.0 1226.6 707.5 1229.7 708.0 1230.3 708.6 1228.2 709.1 1224.3 709.6 1219.3 710.1 1214.2 710.7 1209.4 711.2 1205.0 711.7 1201.4 712.2 1198.4 712.8 1196.1 713.3 1194.5 713.8 1193.6 714.3 1193.4 714.9 1193.8 715.4 1194.9 715.9 1196.7 716.4 1199.1 717.0 1202.2 717.5 1206.1 718.0 1210.6 718.6 1215.7 719.1 1221.5 719.6 1227.4 720.1 1233.2 720.7 1238.0 721.2 1240.9 721.7 1241.2 722.2 1238.9 722.8 1234.8 723.3 1229.9 723.8 1224.7 724.3 1219.9 724.9 1215.7 725.4 1212.1 725.9 1209.2 726.4 1207.0 727.0 1205.4 727.5 1204.6 728.0 1204.4 728.5 1204.9 729.1 1206.1 729.6 1207.9 730.1 1210.4 730.6 1213.6 731.2 1217.5 731.7 1222.1 732.2 1227.3 732.7 1233.1 733.3 1239.1 733.8 1244.8 734.3 1249.5 734.8 1252.1 735.4 1252.1 735.9 1249.6 736.4 1245.4 736.9 1240.4 737.5 1235.3 738.0 1230.5 738.5 1226.3 739.0 1222.8 739.6 1220.0 740.1 1217.8 740.6 1216.4 741.1 1215.6 741.7 1215.5 742.2 1216.0 742.7 1217.3 743.2 1219.2 743.8 1221.7 744.3 1225.0 744.8 1229.0 745.3 1233.6 745.9 1238.9 746.4 1244.7 746.9 1250.7 747.5 1256.4 748.0 1260.9 748.5 1263.3 749.0 1263.0 749.6 1260.3 750.1 1256.0 750.6 1250.9 751.1 1245.8 751.7 1241.1 752.2 1237.0 752.7 1233.5 753.2 1230.8 753.8 1228.6 754.3 1227.1 754.8 1226.3 755.3 1226.2 755.9 1226.7 756.4 1227.9 756.9 1229.8 757.4 1232.3 758.0 1235.6 758.5 1239.5 759.0 1244.1 759.5 1249.4 760.1 1255.1 760.6 1261.0M763.7 1264.6 764.3 1259.4 764.8 1254.3 765.3 1249.5 765.8 1245.4 766.4 1241.9 766.9 1239.1 767.4 1237.0 767.9 1235.6 768.5 1234.8 769.0 1234.8 769.5 1235.4 770.0 1236.6 770.6 1238.6 771.1 1241.2 771.6 1244.5 772.1 1248.5 772.7 1253.2 773.2 1258.5 773.7 1264.3M778.5 1262.3 779.0 1257.6 779.5 1253.5 780.0 1250.1 780.6 1247.4 781.1 1245.4 781.6 1244.0 782.1 1243.4 782.7 1243.4 783.2 1244.0 783.7 1245.3 784.2 1247.4 784.8 1250.0 785.3 1253.4 785.8 1257.5 786.3 1262.3M792.6 1265.8 793.2 1261.7 793.7 1258.4 794.2 1255.7 794.7 1253.8 795.3 1252.5 795.8 1251.9 796.3 1252.0 796.8 1252.7 797.4 1254.1 797.9 1256.2 798.4 1258.9 798.9 1262.4M807.9 1263.8 808.4 1261.6 808.9 1260.1 809.5 1259.2 810.0 1259.0 810.5 1259.5 811.0 1260.6 811.6 1262.4 812.1 1264.9M821.5 1263.6 822.1 1261.4 822.6 1260.0 823.1 1259.2 823.6 1259.0 824.2 1259.6 824.7 1260.8 825.2 1262.7 825.7 1265.2M835.2 1263.3 835.7 1261.3 836.3 1259.9 836.8 1259.1 837.3 1259.1 837.8 1259.7 838.4 1260.9 838.9 1262.9 839.4 1265.5M848.3 1265.8 848.9 1263.1 849.4 1261.1 849.9 1259.8 850.4 1259.1 851.0 1259.1 851.5 1259.8 852.0 1261.1 852.5 1263.1 853.1 1265.8M862.0 1265.5 862.5 1262.9 863.1 1260.9 863.6 1259.7 864.1 1259.1 864.6 1259.1 865.2 1259.9 865.7 1261.3 866.2 1263.3M875.7 1265.2 876.2 1262.7 876.7 1260.8 877.2 1259.6 877.8 1259.0 878.3 1259.2 878.8 1260.0 879.3 1261.4 879.9 1263.6M889.3 1264.9 889.9 1262.4 890.4 1260.6 890.9 1259.5 891.4 1259.0 892.0 1259.2 892.5 1260.1 893.0 1261.6 893.5 1263.8M903.0 1264.6 903.5 1262.2 904.0 1260.5 904.6 1259.4 905.1 1259.0 905.6 1259.3 906.1 1260.2 906.7 1261.8 907.2 1264.1M916.7 1264.4 917.2 1262.0 917.7 1260.3 918.2 1259.3 918.8 1259.0 919.3 1259.3 919.8 1260.3 920.3 1262.0 920.9 1264.4M930.3 1264.1 930.8 1261.8 931.4 1260.2 931.9 1259.3 932.4 1259.0 932.9 1259.4 933.5 1260.5 934.0 1262.2 934.5 1264.6M944.0 1263.8 944.5 1261.6 945.0 1260.1 945.6 1259.2 946.1 1259.0 946.6 1259.5 947.1 1260.6 947.7 1262.4 948.2 1264.9M957.6 1263.6 958.2 1261.4 958.7 1260.0 959.2 1259.2 959.7 1259.0 960.3 1259.6 960.8 1260.8 961.3 1262.7 961.8 1265.2" stroke="#77AC30"/>
<path d="M88.5 925.5 89.0 926.8 89.6 928.9 90.1 931.8 90.6 935.4 91.1 939.9 91.7 945.3 92.2 951.6 92.7 958.8 93.2 966.9 93.8 975.7 94.3 984.4 94.8 991.5 95.3 995.2 95.9 994.1 96.4 989.3 96.9 982.8 97.4 976.1 98.0 970.0 98.5 964.7 99.0 960.5 99.5 957.1 100.1 954.6 100.6 953.0 101.1 952.2 101.6 952.1 102.2 952.8 102.7 953.9 103.2 955.0 103.7 956.9 104.3 959.5 104.8 963.1 105.3 967.5 105.8 972.8 106.4 979.1 106.9 986.2 107.4 994.0 107.9 1001.6 108.5 1007.4 109.0 1009.5 109.5 1007.0 110.0 1000.9 110.6 993.2 111.1 985.5 111.6 978.4 112.1 972.2 112.7 967.0 113.2 962.7 113.7 959.2 114.2 956.6 114.8 954.8 115.3 953.8 115.8 953.5 116.4 953.9 116.9 955.1 117.4 957.1 117.9 959.9 118.5 963.5 119.0 968.0 119.5 973.4 120.0 979.8 120.6 987.0 121.1 994.8 121.6 1002.3 122.1 1007.8 122.7 1009.5 123.2 1006.5 123.7 1000.1 124.2 992.4 124.8 984.7 125.3 977.7 125.8 971.7 126.3 966.5 126.9 962.3 127.4 958.9 127.9 956.4 128.4 954.7 129.0 953.7 129.5 953.5 130.0 954.0 130.5 955.3 131.1 957.3 131.6 960.2 132.1 963.9 132.6 968.5 133.2 974.0 133.7 980.4 134.2 987.8 134.7 995.6 135.3 1002.9 135.8 1008.2 136.3 1009.4 136.8 1006.0 137.4 999.4 137.9 991.6 138.4 984.0 138.9 977.1 139.5 971.1 140.0 966.0 140.5 961.9 141.0 958.7 141.6 956.2 142.1 954.6 142.6 953.7 143.1 953.5 143.7 954.1 144.2 955.5 144.7 957.6 145.3 960.5 145.8 964.3 146.3 969.0 146.8 974.6 147.4 981.1 147.9 988.5 148.4 996.3 148.9 1003.6 149.5 1008.5 150.0 1009.2 150.5 1005.4 151.0 998.6 151.6 990.9 152.1 983.3 152.6 976.5 153.1 970.5 153.7 965.6 154.2 961.5 154.7 958.4 155.2 956.0 155.8 954.4 156.3 953.6 156.8 953.5 157.3 954.2 157.9 955.6 158.4 957.8 158.9 960.8 159.4 964.7 160.0 969.5 160.5 975.2 161.0 981.8 161.5 989.3 162.1 997.1 162.6 1004.2 163.1 1008.8 163.6 1009.0 164.2 1004.8 164.7 997.9 165.2 990.1 165.7 982.6 166.3 975.8 166.8 970.0 167.3 965.1 167.8 961.2 168.4 958.1 168.9 955.8 169.4 954.3 169.9 953.6 170.5 953.6 171.0 954.3 171.5 955.8 172.1 958.1 172.6 961.2 173.1 965.1 173.6 970.0 174.2 975.8 174.7 982.6 175.2 990.1 175.7 997.9 176.3 1004.8 176.8 1009.0 177.3 1008.8 177.8 1004.2 178.4 997.1 178.9 989.3 179.4 981.8 179.9 975.2 180.5 969.5 181.0 964.7 181.5 960.8 182.0 957.8 182.6 955.6 183.1 954.2 183.6 953.5 184.1 953.6 184.7 954.4 185.2 956.0 185.7 958.4 186.2 961.5 186.8 965.6 187.3 970.5 187.8 976.5 188.3 983.3 188.9 990.9 189.4 998.6 189.9 1005.4 190.4 1009.2 191.0 1008.5 191.5 1003.6 192.0 996.3 192.5 988.5 193.1 981.1 193.6 974.6 194.1 969.0 194.6 964.4 195.2 960.7 195.7 957.9 196.2 955.8 196.7 954.5 197.3 954.0 197.8 954.2 198.3 955.2 198.9 956.9 199.4 959.4 199.9 962.7 200.4 966.9 201.0 972.1 201.5 978.1 202.0 985.1 202.5 992.8 203.1 1000.6 203.6 1007.3 204.1 1010.7 204.6 1009.6 205.2 1004.4 205.7 997.1 206.2 989.4 206.7 982.2 207.3 975.8 207.8 970.3 208.3 965.8 208.8 962.2 209.4 959.4 209.9 957.4 210.4 956.2 210.9 955.8 211.5 956.0 212.0 957.1 212.5 958.9 213.0 961.5 213.6 964.9 214.1 969.2 214.6 974.4 215.1 980.5 215.7 987.6 216.2 995.4 216.7 1003.1 217.2 1009.6 217.8 1012.6 218.3 1011.0 218.8 1005.5 219.3 998.1 219.9 990.4 220.4 983.2 220.9 976.9 221.4 971.6 222.0 967.2 222.5 963.6 223.0 960.9 223.5 959.0 224.1 957.9 224.6 957.5 225.1 957.9 225.7 959.1 226.2 961.0 226.7 963.7 227.2 967.3 227.8 971.7 228.3 977.1 228.8 983.4 229.3 990.6 229.9 998.5 230.4 1006.3 230.9 1012.5 231.4 1015.2 232.0 1013.2 232.5 1007.5 233.0 1000.1 233.5 992.4 234.1 985.4 234.6 979.2 235.1 974.0 235.6 969.8 236.2 966.4 236.7 963.8 237.2 962.1 237.7 961.1 238.3 960.8 238.8 961.4 239.3 962.6 239.8 964.6 240.4 967.4 240.9 971.1 241.4 975.6 241.9 981.1 242.5 987.5 243.0 994.8 243.5 1002.7 244.0 1010.4 244.6 1016.3 245.1 1018.6 245.6 1016.2 246.1 1010.2 246.7 1002.7 247.2 995.1 247.7 988.1 248.2 982.1 248.8 977.0 249.3 972.8 249.8 969.5 250.3 967.0 250.9 965.3 251.4 964.4 251.9 964.2 252.4 964.8 253.0 966.1 253.5 968.2 254.0 971.1 254.6 974.9 255.1 979.5 255.6 985.1 256.1 991.6 256.7 998.9 257.2 1006.8 257.7 1014.5 258.2 1020.1 258.8 1021.9 259.3 1019.1 259.8 1012.8 260.3 1005.3 260.9 997.7 261.4 990.9 261.9 984.9 262.4 979.9 263.0 975.8 263.5 972.6 264.0 970.2 264.5 968.6 265.1 967.8 265.6 967.7 266.1 968.3 266.6 969.8 267.2 971.9 267.7 974.9 268.2 978.7 268.7 983.4 269.3 989.1 269.8 995.6 270.3 1003.0 270.8 1010.8 271.4 1018.2 271.9 1023.5 272.4 1024.7 272.9 1021.5 273.5 1015.2 274.0 1007.7 274.5 1000.3 275.0 993.6 275.6 987.8 276.1 983.0 276.6 979.0 277.1 975.9 277.7 973.6 278.2 972.1 278.7 971.4 279.2 971.4 279.8 972.1 280.3 973.6 280.8 975.8 281.4 978.9 281.9 982.7 282.4 987.5 282.9 993.1 283.5 999.7 284.0 1007.0 284.5 1014.7 285.0 1021.7 285.6 1026.4 286.1 1027.2 286.6 1023.7 287.1 1017.4 287.7 1010.1 288.2 1002.9 288.7 996.4 289.2 990.8 289.8 986.1 290.3 982.2 290.8 979.3 291.3 977.1 291.9 975.7 292.4 975.0 292.9 975.1 293.4 975.9 294.0 977.4 294.5 979.7 295.0 982.8 295.5 986.7 296.1 991.5 296.6 997.2 297.1 1003.7 297.6 1011.0 298.2 1018.4 298.7 1025.1 299.2 1029.3 299.7 1029.6 300.3 1025.9 300.8 1019.7 301.3 1012.5 301.8 1005.6 302.4 999.2 302.9 993.8 303.4 989.2 303.9 985.5 304.5 982.6 305.0 980.5 305.5 979.2 306.0 978.6 306.6 978.8 307.1 979.6 307.6 981.2 308.2 983.6 308.7 986.7 309.2 990.7 309.7 995.5 310.3 1001.2 310.8 1007.7 311.3 1014.9 311.8 1022.1 312.4 1028.4 312.9 1032.1 313.4 1032.0 313.9 1028.2 314.5 1022.0 315.0 1015.0 315.5 1008.2 316.0 1002.1 316.6 996.8 317.1 992.3 317.6 988.8 318.1 986.0 318.7 984.0 319.2 982.8 319.7 982.3 320.2 982.5 320.8 983.5 321.3 985.2 321.8 987.7 322.3 991.0 322.9 995.1 323.4 1000.0 323.9 1005.7 324.4 1012.2 325.0 1019.3 325.5 1026.4 326.0 1032.4 326.5 1035.7 327.1 1035.3 327.6 1031.3 328.1 1025.3 328.6 1018.5 329.2 1012.0 329.7 1006.1 330.2 1001.0 330.7 996.8 331.3 993.4 331.8 990.8 332.3 988.9 332.8 987.8 333.4 987.4 333.9 987.8 334.4 988.8 335.0 990.6 335.5 993.2 336.0 996.5 336.5 1000.6 337.1 1005.5 337.6 1011.3 338.1 1017.8 338.6 1024.7 339.2 1031.5 339.7 1037.1 340.2 1040.0 340.7 1039.2 341.3 1035.1 341.8 1029.1 342.3 1022.6 342.8 1016.2 343.4 1010.5 343.9 1005.6 344.4 1001.5 344.9 998.2 345.5 995.7 346.0 994.0 346.5 992.9 347.0 992.6 347.6 993.1 348.1 994.2 348.6 996.0 349.1 998.6 349.7 1002.0 350.2 1006.1 350.7 1011.1 351.2 1016.8 351.8 1023.2 352.3 1030.0 352.8 1036.6 353.3 1041.8 353.9 1044.2 354.4 1043.1 354.9 1039.0 355.4 1033.1 356.0 1026.7 356.5 1020.5 357.0 1015.0 357.5 1010.2 358.1 1006.2 358.6 1003.1 359.1 1000.7 359.6 999.0 360.2 998.1 360.7 997.8 361.2 998.3 361.7 999.6 362.3 1001.5 362.8 1004.2 363.3 1007.6 363.9 1011.8 364.4 1016.8 364.9 1022.5 365.4 1028.9 366.0 1035.6 366.5 1041.9 367.0 1046.7 367.5 1048.7 368.1 1047.4 368.6 1043.2 369.1 1037.4 369.6 1031.2 370.2 1025.3 370.7 1019.9 371.2 1015.3 371.7 1011.5 372.3 1008.5 372.8 1006.2 373.3 1004.7 373.8 1003.9 374.4 1003.8 374.9 1004.3 375.4 1005.6 375.9 1007.6 376.5 1010.3 377.0 1013.8 377.5 1018.0 378.0 1023.0 378.6 1028.7 379.1 1035.0 379.6 1041.5 380.1 1047.5 380.7 1051.9 381.2 1053.6 381.7 1052.0 382.2 1047.8 382.8 1042.1 383.3 1036.1 383.8 1030.3 384.3 1025.1 384.9 1020.7 385.4 1017.0 385.9 1014.1 386.4 1011.9 387.0 1010.5 387.5 1009.7 388.0 1009.7 388.5 1010.3 389.1 1011.7 389.6 1013.7 390.1 1016.5 390.7 1020.0 391.2 1024.2 391.7 1029.2 392.2 1034.9 392.8 1041.1 393.3 1047.4 393.8 1053.1 394.3 1057.1 394.9 1058.4 395.4 1056.6 395.9 1052.4 396.4 1046.8 397.0 1040.9 397.5 1035.3 398.0 1030.3 398.5 1026.0 399.1 1022.5 399.6 1019.7 400.1 1017.6 400.6 1016.3 401.2 1015.8 401.7 1016.0 402.2 1016.8 402.7 1018.3 403.3 1020.5 403.8 1023.5 404.3 1027.1 404.8 1031.5 405.4 1036.7 405.9 1042.4 406.4 1048.6 406.9 1054.8 407.5 1060.4 408.0 1064.2 408.5 1065.2 409.0 1063.4 409.6 1059.2 410.1 1053.9 410.6 1048.4 411.1 1043.1 411.7 1038.4 412.2 1034.3 412.7 1031.0 413.2 1028.5 413.8 1026.6 414.3 1025.5 414.8 1025.0 415.3 1025.3 415.9 1026.2 416.4 1027.7 416.9 1030.0 417.5 1033.0 418.0 1036.7 418.5 1041.1 419.0 1046.2 419.6 1051.9 420.1 1057.9 420.6 1064.0 421.1 1069.2 421.7 1072.6 422.2 1073.4 422.7 1071.3 423.2 1067.2 423.8 1062.0 424.3 1056.6 424.8 1051.5 425.3 1047.0 425.9 1043.1 426.4 1039.9 426.9 1037.5 427.4 1035.7 428.0 1034.6 428.5 1034.3 429.0 1034.5 429.5 1035.5 430.1 1037.1 430.6 1039.5 431.1 1042.5 431.6 1046.2 432.2 1050.6 432.7 1055.7 433.2 1061.3 433.7 1067.2 434.3 1073.0 434.8 1078.0 435.3 1081.0 435.8 1081.5 436.4 1079.3 436.9 1075.2 437.4 1070.1 437.9 1064.9 438.5 1060.0 439.0 1055.6 439.5 1051.8 440.0 1048.8 440.6 1046.4 441.1 1044.7 441.6 1043.5 442.1 1043.1 442.7 1043.3 443.2 1044.2 443.7 1045.8 444.2 1048.1 444.8 1051.0 445.3 1054.6 445.8 1059.0 446.4 1063.9 446.9 1069.4 447.4 1075.2 447.9 1080.8 448.5 1085.4 449.0 1088.1 449.5 1088.2 450.0 1085.8 450.6 1081.5 451.1 1076.3 451.6 1071.0 452.1 1066.0 452.7 1061.5 453.2 1057.7 453.7 1054.6 454.2 1052.2 454.8 1050.5 455.3 1049.5 455.8 1049.1 456.3 1049.4 456.9 1050.3 457.4 1052.0 457.9 1054.3 458.4 1057.3 459.0 1061.0 459.5 1065.4 460.0 1070.4 460.5 1076.0 461.1 1081.8 461.6 1087.3 462.1 1091.8 462.6 1094.2 463.2 1094.1 463.7 1091.4 464.2 1086.9 464.7 1081.7 465.3 1076.4 465.8 1071.5 466.3 1067.1 466.8 1063.3 467.4 1060.3 467.9 1058.0 468.4 1056.3 468.9 1055.4 469.5 1055.1 470.0 1055.4 470.5 1056.5 471.0 1058.2 471.6 1060.5 472.1 1063.6 472.6 1067.4 473.2 1071.8 473.7 1076.9 474.2 1082.5 474.7 1088.3 475.3 1093.8 475.8 1098.1 476.3 1100.3 476.8 1099.9 477.4 1097.0 477.9 1092.4 478.4 1087.2 478.9 1081.9 479.5 1077.0 480.0 1072.6 480.5 1069.0 481.0 1066.0 481.6 1063.8 482.1 1062.2 482.6 1061.3 483.1 1061.1 483.7 1061.6 484.2 1062.7 484.7 1064.5 485.2 1067.0 485.8 1070.2 486.3 1074.1 486.8 1078.7 487.3 1083.9 487.9 1089.5 488.4 1095.4 488.9 1100.8 489.4 1105.0 490.0 1107.0 490.5 1106.3 491.0 1103.3 491.5 1098.7 492.1 1093.4 492.6 1088.2 493.1 1083.4 493.6 1079.2 494.2 1075.6 494.7 1072.8 495.2 1070.6 495.7 1069.2 496.3 1068.4 496.8 1068.3 497.3 1068.8 497.8 1070.0 498.4 1071.9 498.9 1074.5 499.4 1077.7 500.0 1081.7 500.5 1086.3 501.0 1091.6 501.5 1097.3 502.1 1103.1 502.6 1108.5 503.1 1112.5 503.6 1114.2 504.2 1113.3 504.7 1110.0 505.2 1105.3 505.7 1100.0 506.3 1094.9 506.8 1090.1 507.3 1086.0 507.8 1082.5 508.4 1079.7 508.9 1077.6 509.4 1076.2 509.9 1075.5 510.5 1075.4 511.0 1076.1 511.5 1077.3 512.0 1079.3 512.6 1081.9 513.1 1085.2 513.6 1089.3 514.1 1094.0 514.7 1099.3 515.2 1105.0 515.7 1110.8 516.2 1116.1 516.8 1119.9 517.3 1121.4 517.8 1120.2 518.3 1116.8 518.9 1112.0 519.4 1106.7 519.9 1101.5 520.4 1096.8 521.0 1092.7 521.5 1089.3 522.0 1086.6 522.5 1084.6 523.1 1083.3 523.6 1082.7 524.1 1082.8 524.6 1083.6 525.2 1085.0 525.7 1087.1 526.2 1089.9 526.8 1093.4 527.3 1097.5 527.8 1102.4 528.3 1107.8 528.9 1113.7 529.4 1119.6 529.9 1124.8 530.4 1128.5 531.0 1129.8 531.5 1128.4 532.0 1124.9 532.5 1120.1 533.1 1114.9 533.6 1109.8 534.1 1105.3 534.6 1101.3 535.2 1098.1 535.7 1095.5 536.2 1093.7 536.7 1092.5 537.3 1092.0 537.8 1092.1 538.3 1093.0 538.8 1094.4 539.4 1096.6 539.9 1099.5 540.4 1103.0 540.9 1107.3 541.5 1112.2 542.0 1117.7 542.5 1123.5 543.0 1129.4 543.6 1134.5 544.1 1138.0 544.6 1139.1 545.1 1137.4 545.7 1133.7 546.2 1128.8 546.7 1123.6 547.2 1118.6 547.8 1114.1 548.3 1110.2 548.8 1107.1 549.3 1104.6 549.9 1102.8 550.4 1101.7 550.9 1101.2 551.4 1101.5 552.0 1102.3 552.5 1103.9 553.0 1106.1 553.5 1109.1 554.1 1112.7 554.6 1117.0 555.1 1122.0 555.7 1127.5 556.2 1133.4 556.7 1139.2 557.2 1144.2 557.8 1147.5 558.3 1148.3 558.8 1146.4 559.3 1142.5 559.9 1137.6 560.4 1132.4 560.9 1127.4 561.4 1123.0 562.0 1119.2 562.5 1116.0 563.0 1113.6 563.5 1111.9 564.1 1110.9 564.6 1110.5 565.1 1110.8 565.6 1111.8 566.2 1113.4 566.7 1115.7 567.2 1118.7 567.7 1122.4 568.3 1126.8 568.8 1131.9 569.3 1137.5 569.8 1143.4 570.4 1149.2 570.9 1154.1 571.4 1157.1 571.9 1157.6 572.5 1155.5 573.0 1151.5 573.5 1146.5 574.0 1141.3 574.6 1136.4 575.1 1132.1 575.6 1128.3 576.1 1125.3 576.7 1123.0 577.2 1121.3 577.7 1120.4 578.2 1120.1 578.8 1120.4 579.3 1121.5 579.8 1123.2 580.3 1125.5 580.9 1128.6 581.4 1132.4 581.9 1136.9 582.5 1142.0 583.0 1147.6 583.5 1153.5 584.0 1159.3 584.6 1164.0 585.1 1166.9 585.6 1167.1 586.1 1164.8 586.7 1160.6 587.2 1155.6 587.7 1150.4 588.2 1145.5 588.8 1141.2 589.3 1137.6 589.8 1134.6 590.3 1132.3 590.9 1130.9 591.4 1130.1 591.9 1130.0 592.4 1130.5 593.0 1131.7 593.5 1133.6 594.0 1136.2 594.5 1139.5 595.1 1143.4 595.6 1148.1 596.1 1153.4 596.6 1159.2 597.2 1165.2 597.7 1171.0 598.2 1175.7 598.7 1178.5 599.3 1178.5 599.8 1176.1 600.3 1171.9 600.8 1167.0 601.4 1161.9 601.9 1157.2 602.4 1153.1 602.9 1149.6 603.5 1146.8 604.0 1144.8 604.5 1143.3 605.0 1142.5 605.6 1142.3 606.1 1142.7 606.6 1143.8 607.1 1145.6 607.7 1148.1 608.2 1151.3 608.7 1155.2 609.3 1159.7 609.8 1164.9 610.3 1170.6 610.8 1176.5 611.4 1182.1 611.9 1186.5 612.4 1188.8 612.9 1188.5 613.5 1185.7 614.0 1181.2 614.5 1176.1 615.0 1170.9 615.6 1166.1 616.1 1161.9 616.6 1158.3 617.1 1155.4 617.7 1153.3 618.2 1151.8 618.7 1151.0 619.2 1150.9 619.8 1151.4 620.3 1152.6 620.8 1154.5 621.3 1157.0 621.9 1160.3 622.4 1164.2 622.9 1168.8 623.4 1174.1 624.0 1179.8 624.5 1185.7 625.0 1191.2 625.5 1195.4 626.1 1197.5 626.6 1196.9 627.1 1193.9 627.6 1189.3 628.2 1184.1 628.7 1179.0 629.2 1174.2 629.7 1170.1 630.3 1166.6 630.8 1163.8 631.3 1161.7 631.8 1160.3 632.4 1159.5 632.9 1159.5 633.4 1160.1 633.9 1161.3 634.5 1163.3 635.0 1165.9 635.5 1169.2 636.1 1173.2 636.6 1177.9 637.1 1183.2 637.6 1189.0 638.2 1194.9 638.7 1200.3 639.2 1204.3 639.7 1206.1 640.3 1205.3 640.8 1202.1 641.3 1197.4 641.8 1192.2 642.4 1187.1 642.9 1182.4 643.4 1178.3 643.9 1174.8 644.5 1172.1 645.0 1170.1 645.5 1168.8 646.0 1168.1 646.6 1168.1 647.1 1168.7 647.6 1170.1 648.1 1172.1 648.7 1174.8 649.2 1178.2 649.7 1182.2 650.2 1187.0 650.8 1192.4 651.3 1198.2 651.8 1204.0 652.3 1209.3 652.9 1213.2 653.4 1214.8 653.9 1213.6 654.4 1210.2 655.0 1205.5 655.5 1200.3 656.0 1195.2 656.5 1190.5 657.1 1186.5 657.6 1183.1 658.1 1180.5 658.6 1178.5 659.2 1177.2 659.7 1176.6 660.2 1176.7 660.7 1177.4 661.3 1178.8 661.8 1180.9 662.3 1183.7 662.8 1187.1 663.4 1191.3 663.9 1196.1 664.4 1201.5 665.0 1207.3 665.5 1213.2 666.0 1218.4 666.5 1222.1 667.1 1223.4 667.6 1222.0 668.1 1218.4 668.6 1213.6 669.2 1208.3 669.7 1203.3 670.2 1198.7 670.7 1194.7 671.3 1191.4 671.8 1188.8 672.3 1186.9 672.8 1185.7 673.4 1185.2 673.9 1185.3 674.4 1186.1 674.9 1187.6 675.5 1189.7 676.0 1192.6 676.5 1196.1 677.0 1200.3 677.6 1205.2 678.1 1210.7 678.6 1216.5 679.1 1222.3 679.7 1227.4 680.2 1230.9 680.7 1231.9 681.2 1230.3 681.8 1226.5 682.3 1221.6 682.8 1216.4 683.3 1211.4 683.9 1206.8 684.4 1202.9 684.9 1199.7 685.4 1197.2 686.0 1195.4 686.5 1194.2 687.0 1193.8 687.5 1194.1 688.1 1195.0 688.6 1196.6 689.1 1198.9 689.6 1201.9 690.2 1205.6 690.7 1209.9 691.2 1214.9 691.8 1220.5 692.3 1226.5 692.8 1232.3 693.3 1237.4 693.9 1240.7 694.4 1241.5 694.9 1239.7 695.4 1235.8 696.0 1231.0 696.5 1225.8 697.0 1220.9 697.5 1216.5 698.1 1212.7 698.6 1209.6 699.1 1207.3 699.6 1205.6 700.2 1204.6 700.7 1204.3 701.2 1204.6 701.7 1205.6 702.3 1207.3 702.8 1209.6 703.3 1212.7 703.8 1216.4 704.4 1220.8 704.9 1225.9 705.4 1231.5 705.9 1237.5 706.5 1243.3 707.0 1248.2 707.5 1251.3 708.0 1251.9 708.6 1249.8 709.1 1245.8 709.6 1240.9 710.1 1235.7 710.7 1230.8 711.2 1226.5 711.7 1222.8 712.2 1219.8 712.8 1217.5 713.3 1215.9 713.8 1215.0 714.3 1214.7 714.9 1215.1 715.4 1216.2 715.9 1217.9 716.4 1220.3 717.0 1223.4 717.5 1227.2 718.0 1231.7 718.6 1236.9 719.1 1242.6 719.6 1248.5 720.1 1254.3 720.7 1259.1 721.2 1261.9 721.7 1262.2 722.2 1259.9 722.8 1255.8 723.3 1250.8 723.8 1245.6 724.3 1240.8 724.9 1236.5 725.4 1232.9 725.9 1230.0 726.4 1227.7 727.0 1226.2 727.5 1225.3 728.0 1225.1 728.5 1225.6 729.1 1226.7 729.6 1228.6 730.1 1231.0 730.6 1234.2 731.2 1238.1 731.7 1242.7 732.2 1247.9 732.7 1253.6 733.3 1259.6 733.8 1265.3M736.4 1265.8 736.9 1260.8 737.5 1255.8 738.0 1251.1 738.5 1247.0 739.0 1243.5 739.6 1240.8 740.1 1238.7 740.6 1237.4 741.1 1236.7 741.7 1236.7 742.2 1237.3 742.7 1238.6 743.2 1240.6 743.8 1243.3 744.3 1246.6 744.8 1250.7 745.3 1255.4 745.9 1260.8M751.7 1263.9 752.2 1259.9 752.7 1256.5 753.2 1253.8 753.8 1251.8 754.3 1250.5 754.8 1249.9 755.3 1250.0 755.9 1250.7 756.4 1252.1 756.9 1254.1 757.4 1256.8 758.0 1260.3 758.5 1264.4M767.4 1265.0 767.9 1263.7 768.5 1263.2 769.0 1263.3 769.5 1264.1 770.0 1265.5M782.7 1265.8M918.8 1265.8" stroke="#EDB120"/>
<path d="M88.5 925.5 89.0 926.8 89.6 928.9 90.1 931.7 90.6 935.3 91.1 939.7 91.7 945.0 92.2 951.1 92.7 958.1 93.2 966.0 93.8 974.3 94.3 982.4 94.8 989.1 95.3 992.4 95.9 991.6 96.4 987.3 96.9 981.3 97.4 975.1 98.0 969.3 98.5 964.3 99.0 960.2 99.5 956.9 100.1 954.5 100.6 952.9 101.1 952.1 101.6 952.1 102.2 952.8 102.7 953.9 103.2 954.9 103.7 956.8 104.3 959.4 104.8 962.9 105.3 967.2 105.8 972.3 106.4 978.4 106.9 985.2 107.4 992.5 107.9 999.6 108.5 1004.9 109.0 1006.8 109.5 1004.5 110.0 998.9 110.6 991.8 111.1 984.5 111.6 977.7 112.1 971.8 112.7 966.7 113.2 962.5 113.7 959.1 114.2 956.6 114.8 954.8 115.3 953.8 115.8 953.5 116.4 953.9 116.9 955.1 117.4 957.0 117.9 959.7 118.5 963.3 119.0 967.6 119.5 972.9 120.0 979.0 120.6 985.9 121.1 993.3 121.6 1000.2 122.1 1005.3 122.7 1006.7 123.2 1004.0 123.7 998.2 124.2 991.1 124.8 983.8 125.3 977.1 125.8 971.2 126.3 966.2 126.9 962.1 127.4 958.8 127.9 956.4 128.4 954.7 129.0 953.7 129.5 953.5 130.0 954.0 130.5 955.3 131.1 957.3 131.6 960.0 132.1 963.7 132.6 968.1 133.2 973.5 133.7 979.7 134.2 986.7 134.7 994.0 135.3 1000.8 135.8 1005.6 136.3 1006.7 136.8 1003.6 137.4 997.6 137.9 990.3 138.4 983.1 138.9 976.5 139.5 970.7 140.0 965.8 140.5 961.7 141.0 958.6 141.6 956.2 142.1 954.5 142.6 953.7 143.1 953.5 143.7 954.1 144.2 955.4 144.7 957.5 145.3 960.4 145.8 964.1 146.3 968.6 146.8 974.1 147.4 980.4 147.9 987.4 148.4 994.7 148.9 1001.4 149.5 1005.9 150.0 1006.5 150.5 1003.1 151.0 996.9 151.6 989.6 152.1 982.4 152.6 975.9 153.1 970.2 153.7 965.3 154.2 961.4 154.7 958.3 155.2 956.0 155.8 954.4 156.3 953.6 156.8 953.5 157.3 954.2 157.9 955.6 158.4 957.8 158.9 960.7 159.4 964.5 160.0 969.1 160.5 974.6 161.0 981.0 161.5 988.1 162.1 995.5 162.6 1002.0 163.1 1006.1 163.6 1006.4 164.2 1002.6 164.7 996.2 165.2 988.9 165.7 981.7 166.3 975.3 166.8 969.6 167.3 964.9 167.8 961.0 168.4 958.0 168.9 955.8 169.4 954.3 169.9 953.6 170.5 953.6 171.0 954.3 171.5 955.8 172.1 958.0 172.6 961.0 173.1 964.9 173.6 969.6 174.2 975.3 174.7 981.7 175.2 988.9 175.7 996.2 176.3 1002.6 176.8 1006.4 177.3 1006.1 177.8 1002.0 178.4 995.5 178.9 988.1 179.4 981.0 179.9 974.6 180.5 969.1 181.0 964.5 181.5 960.7 182.0 957.8 182.6 955.6 183.1 954.2 183.6 953.5 184.1 953.6 184.7 954.4 185.2 956.0 185.7 958.3 186.2 961.4 186.8 965.3 187.3 970.2 187.8 975.9 188.3 982.4 188.9 989.6 189.4 996.9 189.9 1003.1 190.4 1006.5 191.0 1005.9 191.5 1001.4 192.0 994.7 192.5 987.4 193.1 980.4 193.6 974.1 194.1 968.7 194.6 964.2 195.2 960.6 195.7 957.8 196.2 955.8 196.7 954.6 197.3 954.1 197.8 954.3 198.3 955.3 198.9 957.0 199.4 959.4 199.9 962.7 200.4 966.8 201.0 971.8 201.5 977.7 202.0 984.4 202.5 991.7 203.1 999.0 203.6 1005.1 204.1 1008.3 204.6 1007.3 205.2 1002.6 205.7 995.8 206.2 988.6 206.7 981.7 207.3 975.5 207.8 970.3 208.3 965.9 208.8 962.4 209.4 959.7 209.9 957.7 210.4 956.6 210.9 956.1 211.5 956.4 212.0 957.5 212.5 959.2 213.0 961.8 213.6 965.1 214.1 969.3 214.6 974.4 215.1 980.4 215.7 987.2 216.2 994.5 216.7 1001.8 217.2 1007.6 217.8 1010.4 218.3 1009.0 218.8 1004.0 219.3 997.2 219.9 989.9 220.4 983.1 220.9 977.0 221.4 971.9 222.0 967.6 222.5 964.1 223.0 961.5 223.5 959.6 224.1 958.6 224.6 958.2 225.1 958.6 225.7 959.7 226.2 961.7 226.7 964.4 227.2 967.9 227.8 972.2 228.3 977.5 228.8 983.6 229.3 990.5 229.9 997.9 230.4 1005.2 230.9 1010.9 231.4 1013.4 232.0 1011.6 232.5 1006.4 233.0 999.6 233.5 992.4 234.1 985.7 234.6 979.8 235.1 974.8 235.6 970.6 236.2 967.3 236.7 964.9 237.2 963.2 237.7 962.2 238.3 962.0 238.8 962.5 239.3 963.8 239.8 965.8 240.4 968.5 240.9 972.1 241.4 976.6 241.9 981.9 242.5 988.1 243.0 995.1 243.5 1002.5 244.0 1009.7 244.6 1015.2 245.1 1017.2 245.6 1015.1 246.1 1009.7 246.7 1002.7 247.2 995.6 247.7 988.9 248.2 983.1 248.8 978.2 249.3 974.1 249.8 970.9 250.3 968.5 250.9 966.9 251.4 966.0 251.9 965.9 252.4 966.5 253.0 967.8 253.5 969.9 254.0 972.7 254.6 976.4 255.1 980.9 255.6 986.3 256.1 992.6 256.7 999.7 257.2 1007.2 257.7 1014.2 258.2 1019.4 258.8 1021.1 259.3 1018.5 259.8 1012.9 260.3 1005.8 260.9 998.7 261.4 992.2 261.9 986.4 262.4 981.6 263.0 977.6 263.5 974.5 264.0 972.2 264.5 970.6 265.1 969.8 265.6 969.8 266.1 970.4 266.6 971.8 267.2 974.0 267.7 976.9 268.2 980.6 268.7 985.2 269.3 990.7 269.8 997.0 270.3 1004.1 270.8 1011.5 271.4 1018.3 271.9 1023.1 272.4 1024.3 272.9 1021.4 273.5 1015.6 274.0 1008.6 274.5 1001.6 275.0 995.2 275.6 989.6 276.1 984.9 276.6 981.1 277.1 978.0 277.7 975.8 278.2 974.3 278.7 973.6 279.2 973.6 279.8 974.3 280.3 975.8 280.8 978.0 281.4 981.0 281.9 984.8 282.4 989.4 282.9 994.9 283.5 1001.3 284.0 1008.3 284.5 1015.5 285.0 1022.1 285.6 1026.4 286.1 1027.2 286.6 1024.0 287.1 1018.2 287.7 1011.3 288.2 1004.5 288.7 998.2 289.2 992.8 289.8 988.2 290.3 984.5 290.8 981.6 291.3 979.4 291.9 978.0 292.4 977.4 292.9 977.5 293.4 978.3 294.0 979.8 294.5 982.1 295.0 985.1 295.5 989.0 296.1 993.6 296.6 999.2 297.1 1005.5 297.6 1012.4 298.2 1019.5 298.7 1025.7 299.2 1029.7 299.7 1030.0 300.3 1026.6 300.8 1020.8 301.3 1014.0 301.8 1007.4 302.4 1001.3 302.9 996.0 303.4 991.5 303.9 987.9 304.5 985.1 305.0 983.1 305.5 981.8 306.0 981.2 306.6 981.3 307.1 982.2 307.6 983.8 308.2 986.1 308.7 989.2 309.2 993.1 309.7 997.8 310.3 1003.4 310.8 1009.7 311.3 1016.6 311.8 1023.4 312.4 1029.4 312.9 1032.9 313.4 1032.8 313.9 1029.2 314.5 1023.4 315.0 1016.8 315.5 1010.3 316.0 1004.4 316.6 999.2 317.1 994.9 317.6 991.4 318.1 988.6 318.7 986.7 319.2 985.5 319.7 985.0 320.2 985.3 320.8 986.3 321.3 988.0 321.8 990.5 322.3 993.7 322.9 997.7 323.4 1002.5 323.9 1008.2 324.4 1014.5 325.0 1021.3 325.5 1028.1 326.0 1033.8 326.5 1036.9 327.1 1036.6 327.6 1032.9 328.1 1027.2 328.6 1020.8 329.2 1014.5 329.7 1008.8 330.2 1003.8 330.7 999.7 331.3 996.4 331.8 993.8 332.3 992.0 332.8 991.0 333.4 990.6 333.9 991.0 334.4 992.1 335.0 993.8 335.5 996.4 336.0 999.6 336.5 1003.7 337.1 1008.6 337.6 1014.2 338.1 1020.5 338.6 1027.2 339.2 1033.8 339.7 1039.1 340.2 1041.9 340.7 1041.2 341.3 1037.4 341.8 1031.7 342.3 1025.4 342.8 1019.3 343.4 1013.7 343.9 1008.9 344.4 1004.9 344.9 1001.7 345.5 999.2 346.0 997.5 346.5 996.6 347.0 996.3 347.6 996.7 348.1 997.8 348.6 999.7 349.1 1002.3 349.7 1005.6 350.2 1009.7 350.7 1014.6 351.2 1020.2 351.8 1026.5 352.3 1033.1 352.8 1039.4 353.3 1044.4 353.9 1046.7 354.4 1045.7 354.9 1041.8 355.4 1036.2 356.0 1030.0 356.5 1024.1 357.0 1018.7 357.5 1014.0 358.1 1010.1 358.6 1007.0 359.1 1004.7 359.6 1003.0 360.2 1002.1 360.7 1001.9 361.2 1002.4 361.7 1003.7 362.3 1005.6 362.8 1008.2 363.3 1011.6 363.9 1015.7 364.4 1020.7 364.9 1026.3 365.4 1032.5 366.0 1039.0 366.5 1045.1 367.0 1049.7 367.5 1051.7 368.1 1050.5 368.6 1046.4 369.1 1040.9 369.6 1034.9 370.2 1029.1 370.7 1023.8 371.2 1019.3 371.7 1015.5 372.3 1012.6 372.8 1010.3 373.3 1008.8 373.8 1008.0 374.4 1007.9 374.9 1008.4 375.4 1009.7 375.9 1011.7 376.5 1014.4 377.0 1017.8 377.5 1022.0 378.0 1026.9 378.6 1032.5 379.1 1038.7 379.6 1045.1 380.1 1050.9 380.7 1055.2 381.2 1056.8 381.7 1055.3 382.2 1051.2 382.8 1045.7 383.3 1039.8 383.8 1034.1 384.3 1029.1 384.9 1024.7 385.4 1021.0 385.9 1018.2 386.4 1016.0 387.0 1014.6 387.5 1013.8 388.0 1013.8 388.5 1014.4 389.1 1015.8 389.6 1017.8 390.1 1020.5 390.7 1024.0 391.2 1028.2 391.7 1033.2 392.2 1038.8 392.8 1044.8 393.3 1051.0 393.8 1056.6 394.3 1060.6 394.9 1061.8 395.4 1060.1 395.9 1055.9 396.4 1050.5 397.0 1044.8 397.5 1039.3 398.0 1034.3 398.5 1030.1 399.1 1026.5 399.6 1023.8 400.1 1021.7 400.6 1020.4 401.2 1019.9 401.7 1020.1 402.2 1020.9 402.7 1022.4 403.3 1024.6 403.8 1027.5 404.3 1031.2 404.8 1035.6 405.4 1040.6 405.9 1046.3 406.4 1052.5 406.9 1058.6 407.5 1064.1 408.0 1067.8 408.5 1068.9 409.0 1067.0 409.6 1063.0 410.1 1057.8 410.6 1052.3 411.1 1047.1 411.7 1042.4 412.2 1038.4 412.7 1035.1 413.2 1032.6 413.8 1030.7 414.3 1029.6 414.8 1029.1 415.3 1029.4 415.9 1030.3 416.4 1031.8 416.9 1034.1 417.5 1037.1 418.0 1040.7 418.5 1045.1 419.0 1050.2 419.6 1055.9 420.1 1061.9 420.6 1067.9 421.1 1073.1 421.7 1076.4 422.2 1077.2 422.7 1075.2 423.2 1071.1 423.8 1066.0 424.3 1060.6 424.8 1055.6 425.3 1051.0 425.9 1047.2 426.4 1044.0 426.9 1041.5 427.4 1039.8 428.0 1038.7 428.5 1038.4 429.0 1038.6 429.5 1039.6 430.1 1041.2 430.6 1043.6 431.1 1046.6 431.6 1050.3 432.2 1054.7 432.7 1059.7 433.2 1065.4 433.7 1071.3 434.3 1077.1 434.8 1082.0 435.3 1085.1 435.8 1085.5 436.4 1083.4 436.9 1079.3 437.4 1074.2 437.9 1069.0 438.5 1064.1 439.0 1059.7 439.5 1055.9 440.0 1052.9 440.6 1050.5 441.1 1048.8 441.6 1047.7 442.1 1047.3 442.7 1047.5 443.2 1048.4 443.7 1050.0 444.2 1052.3 444.8 1055.2 445.3 1058.9 445.8 1063.2 446.4 1068.2 446.9 1073.7 447.4 1079.5 447.9 1085.2 448.5 1089.8 449.0 1092.5 449.5 1092.6 450.0 1090.2 450.6 1085.9 451.1 1080.7 451.6 1075.4 452.1 1070.4 452.7 1066.0 453.2 1062.2 453.7 1059.1 454.2 1056.7 454.8 1055.1 455.3 1054.0 455.8 1053.7 456.3 1054.0 456.9 1055.0 457.4 1056.6 457.9 1059.0 458.4 1062.0 459.0 1065.7 459.5 1070.1 460.0 1075.2 460.5 1080.7 461.1 1086.5 461.6 1092.1 462.1 1096.6 462.6 1099.1 463.2 1098.9 463.7 1096.2 464.2 1091.8 464.7 1086.6 465.3 1081.3 465.8 1076.4 466.3 1072.0 466.8 1068.3 467.4 1065.3 467.9 1063.0 468.4 1061.3 468.9 1060.4 469.5 1060.1 470.0 1060.5 470.5 1061.5 471.0 1063.2 471.6 1065.6 472.1 1068.7 472.6 1072.5 473.2 1077.0 473.7 1082.1 474.2 1087.7 474.7 1093.5 475.3 1099.0 475.8 1103.3 476.3 1105.6 476.8 1105.1 477.4 1102.3 477.9 1097.7 478.4 1092.5 478.9 1087.2 479.5 1082.3 480.0 1078.0 480.5 1074.4 481.0 1071.4 481.6 1069.2 482.1 1067.6 482.6 1066.7 483.1 1066.5 483.7 1067.0 484.2 1068.1 484.7 1069.9 485.2 1072.4 485.8 1075.6 486.3 1079.4 486.8 1084.0 487.3 1089.2 487.9 1094.8 488.4 1100.6 488.9 1106.1 489.4 1110.2 490.0 1112.2 490.5 1111.5 491.0 1108.5 491.5 1103.8 492.1 1098.6 492.6 1093.3 493.1 1088.5 493.6 1084.3 494.2 1080.7 494.7 1077.8 495.2 1075.7 495.7 1074.2 496.3 1073.4 496.8 1073.2 497.3 1073.8 497.8 1075.0 498.4 1076.8 498.9 1079.4 499.4 1082.6 500.0 1086.6 500.5 1091.2 501.0 1096.4 501.5 1102.1 502.1 1107.9 502.6 1113.3 503.1 1117.2 503.6 1119.0 504.2 1118.0 504.7 1114.7 505.2 1110.0 505.7 1104.7 506.3 1099.5 506.8 1094.8 507.3 1090.6 507.8 1087.1 508.4 1084.3 508.9 1082.2 509.4 1080.8 509.9 1080.0 510.5 1080.0 511.0 1080.6 511.5 1081.8 512.0 1083.7 512.6 1086.4 513.1 1089.7 513.6 1093.7 514.1 1098.4 514.7 1103.7 515.2 1109.4 515.7 1115.2 516.2 1120.4 516.8 1124.2 517.3 1125.7 517.8 1124.5 518.3 1121.0 518.9 1116.2 519.4 1110.9 519.9 1105.7 520.4 1101.0 521.0 1096.9 521.5 1093.5 522.0 1090.8 522.5 1088.7 523.1 1087.4 523.6 1086.8 524.1 1086.9 524.6 1087.7 525.2 1089.1 525.7 1091.2 526.2 1094.0 526.8 1097.5 527.3 1101.6 527.8 1106.5 528.3 1111.9 528.9 1117.8 529.4 1123.7 529.9 1128.9 530.4 1132.6 531.0 1133.9 531.5 1132.5 532.0 1129.0 532.5 1124.2 533.1 1119.0 533.6 1113.9 534.1 1109.4 534.6 1105.4 535.2 1102.2 535.7 1099.6 536.2 1097.8 536.7 1096.6 537.3 1096.1 537.8 1096.2 538.3 1097.1 538.8 1098.5 539.4 1100.7 539.9 1103.6 540.4 1107.1 540.9 1111.4 541.5 1116.3 542.0 1121.8 542.5 1127.7 543.0 1133.5 543.6 1138.6 544.1 1142.1 544.6 1143.2 545.1 1141.5 545.7 1137.8 546.2 1132.9 546.7 1127.7 547.2 1122.7 547.8 1118.2 548.3 1114.3 548.8 1111.2 549.3 1108.7 549.9 1106.9 550.4 1105.8 550.9 1105.3 551.4 1105.6 552.0 1106.4 552.5 1108.0 553.0 1110.2 553.5 1113.2 554.1 1116.8 554.6 1121.1 555.1 1126.1 555.7 1131.6 556.2 1137.5 556.7 1143.3 557.2 1148.3 557.8 1151.6 558.3 1152.4 558.8 1150.5 559.3 1146.6 559.9 1141.7 560.4 1136.5 560.9 1131.5 561.4 1127.1 562.0 1123.3 562.5 1120.1 563.0 1117.7 563.5 1116.0 564.1 1115.0 564.6 1114.7 565.1 1115.1 565.6 1116.2 566.2 1117.9 566.7 1120.3 567.2 1123.4 567.7 1127.2 568.3 1131.7 568.8 1136.8 569.3 1142.5 569.8 1148.5 570.4 1154.4 570.9 1159.4 571.4 1162.6 571.9 1163.2 572.5 1161.2 573.0 1157.2 573.5 1152.3 574.0 1147.2 574.6 1142.4 575.1 1138.1 575.6 1134.5 576.1 1131.6 576.7 1129.3 577.2 1127.8 577.7 1126.9 578.2 1126.7 578.8 1127.2 579.3 1128.3 579.8 1130.1 580.3 1132.6 580.9 1135.7 581.4 1139.6 581.9 1144.2 582.5 1149.4 583.0 1155.1 583.5 1161.1 584.0 1167.0 584.6 1171.8 585.1 1174.8 585.6 1175.1 586.1 1172.8 586.7 1168.8 587.2 1163.8 587.7 1158.7 588.2 1154.0 588.8 1149.8 589.3 1146.2 589.8 1143.3 590.3 1141.2 590.9 1139.7 591.4 1138.9 591.9 1138.7 592.4 1139.3 593.0 1140.5 593.5 1142.3 594.0 1144.9 594.5 1148.1 595.1 1152.0 595.6 1156.7 596.1 1161.9 596.6 1167.7 597.2 1173.8 597.7 1179.5 598.2 1184.2 598.7 1186.9 599.3 1187.0 599.8 1184.5 600.3 1180.3 600.8 1175.3 601.4 1170.3 601.9 1165.5 602.4 1161.4 602.9 1157.9 603.5 1155.1 604.0 1153.0 604.5 1151.5 605.0 1150.7 605.6 1150.5 606.1 1151.0 606.6 1152.1 607.1 1153.9 607.7 1156.5 608.2 1159.6 608.7 1163.5 609.3 1168.1 609.8 1173.3 610.3 1179.0 610.8 1185.0 611.4 1190.5 611.9 1195.0 612.4 1197.3 612.9 1197.0 613.5 1194.2 614.0 1189.8 614.5 1184.6 615.0 1179.5 615.6 1174.7 616.1 1170.5 616.6 1166.9 617.1 1164.1 617.7 1161.9 618.2 1160.5 618.7 1159.7 619.2 1159.6 619.8 1160.1 620.3 1161.3 620.8 1163.2 621.3 1165.8 621.9 1169.1 622.4 1173.0 622.9 1177.7 623.4 1183.0 624.0 1188.7 624.5 1194.6 625.0 1200.1 625.5 1204.4 626.1 1206.5 626.6 1205.9 627.1 1202.9 627.6 1198.3 628.2 1193.2 628.7 1188.0 629.2 1183.3 629.7 1179.2 630.3 1175.7 630.8 1172.9 631.3 1170.8 631.8 1169.4 632.4 1168.7 632.9 1168.7 633.4 1169.3 633.9 1170.6 634.5 1172.5 635.0 1175.2 635.5 1178.5 636.1 1182.5 636.6 1187.2 637.1 1192.6 637.6 1198.4 638.2 1204.3 638.7 1209.7 639.2 1213.8 639.7 1215.6 640.3 1214.7 640.8 1211.5 641.3 1206.9 641.8 1201.7 642.4 1196.5 642.9 1191.8 643.4 1187.7 643.9 1184.3 644.5 1181.6 645.0 1179.5 645.5 1178.2 646.0 1177.5 646.6 1177.5 647.1 1178.2 647.6 1179.5 648.1 1181.5 648.7 1184.2 649.2 1187.6 649.7 1191.6 650.2 1196.4 650.8 1201.8 651.3 1207.6 651.8 1213.4 652.3 1218.7 652.9 1222.6 653.4 1224.1 653.9 1223.0 654.4 1219.6 655.0 1214.8 655.5 1209.6 656.0 1204.5 656.5 1199.9 657.1 1195.8 657.6 1192.5 658.1 1189.8 658.6 1187.9 659.2 1186.6 659.7 1186.0 660.2 1186.0 660.7 1186.8 661.3 1188.2 661.8 1190.2 662.3 1193.0 662.8 1196.4 663.4 1200.6 663.9 1205.4 664.4 1210.8 665.0 1216.6 665.5 1222.5 666.0 1227.7 666.5 1231.4 667.1 1232.7 667.6 1231.2 668.1 1227.7 668.6 1222.8 669.2 1217.6 669.7 1212.5 670.2 1207.9 670.7 1204.0 671.3 1200.7 671.8 1198.1 672.3 1196.2 672.8 1195.0 673.4 1194.5 673.9 1194.6 674.4 1195.4 674.9 1196.8 675.5 1199.0 676.0 1201.8 676.5 1205.3 677.0 1209.5 677.6 1214.4 678.1 1219.9 678.6 1225.7 679.1 1231.5 679.7 1236.6 680.2 1240.1 680.7 1241.1 681.2 1239.5 681.8 1235.7 682.3 1230.8 682.8 1225.6 683.3 1220.5 683.9 1216.0 684.4 1212.1 684.9 1208.8 685.4 1206.3 686.0 1204.4 686.5 1203.2 687.0 1202.7 687.5 1202.9 688.1 1203.7 688.6 1205.2 689.1 1207.3 689.6 1210.2 690.2 1213.7 690.7 1218.0 691.2 1222.9 691.8 1228.4 692.3 1234.2 692.8 1239.9 693.3 1244.9 693.9 1248.1 694.4 1248.8 694.9 1246.8 695.4 1242.9 696.0 1237.9 696.5 1232.6 697.0 1227.5 697.5 1223.0 698.1 1219.2 698.6 1216.0 699.1 1213.5 699.6 1211.7 700.2 1210.6 700.7 1210.1 701.2 1210.3 701.7 1211.2 702.3 1212.8 702.8 1215.0 703.3 1217.9 703.8 1221.6 704.4 1225.9 704.9 1230.8 705.4 1236.4 705.9 1242.2 706.5 1247.9 707.0 1252.7 707.5 1255.7 708.0 1256.1 708.6 1253.9 709.1 1249.8 709.6 1244.8 710.1 1239.5 710.7 1234.5 711.2 1230.0 711.7 1226.2 712.2 1223.1 712.8 1220.7 713.3 1219.0 713.8 1217.9 714.3 1217.5 714.9 1217.8 715.4 1218.8 715.9 1220.4 716.4 1222.7 717.0 1225.7 717.5 1229.4 718.0 1233.8 718.6 1238.8 719.1 1244.4 719.6 1250.2 720.1 1255.9 720.7 1260.5 721.2 1263.3 721.7 1263.4 722.2 1261.0 722.8 1256.8 723.3 1251.7 723.8 1246.4 724.3 1241.5 724.9 1237.1 725.4 1233.3 725.9 1230.3 726.4 1227.9 727.0 1226.3 727.5 1225.3 728.0 1225.1 728.5 1225.6 729.1 1226.8 729.6 1228.7 730.1 1231.3 730.6 1234.6 731.2 1238.5 731.7 1243.2 732.2 1248.5 732.7 1254.3 733.3 1260.4M736.9 1262.1 737.5 1257.1 738.0 1252.4 738.5 1248.3 739.0 1244.8 739.6 1242.0 740.1 1240.0 740.6 1238.6 741.1 1237.9 741.7 1237.8 742.2 1238.4 742.7 1239.7 743.2 1241.7 743.8 1244.3 744.3 1247.7 744.8 1251.7 745.3 1256.4 745.9 1261.8M751.7 1264.7 752.2 1260.6 752.7 1257.2 753.2 1254.5 753.8 1252.5 754.3 1251.2 754.8 1250.6 755.3 1250.6 755.9 1251.3 756.4 1252.7 756.9 1254.7 757.4 1257.4 758.0 1260.8 758.5 1264.9M767.4 1265.1 767.9 1263.9 768.5 1263.3 769.0 1263.4 769.5 1264.1 770.0 1265.6M782.7 1265.8M918.8 1265.8" stroke="#D95319"/>
<path d="M88.5 925.5 89.0 926.8 89.6 928.8 90.1 931.6 90.6 935.1 91.1 939.4 91.7 944.5 92.2 950.4 92.7 957.0 93.2 964.4 93.8 972.1 94.3 979.4 94.8 985.3 95.3 988.3 95.9 987.8 96.4 984.2 96.9 979.0 97.4 973.4 98.0 968.2 98.5 963.5 99.0 959.6 99.5 956.6 100.1 954.3 100.6 952.8 101.1 952.1 101.6 952.1 102.2 952.8 102.7 953.8 103.2 954.9 103.7 956.7 104.3 959.2 104.8 962.5 105.3 966.6 105.8 971.6 106.4 977.3 106.9 983.6 107.4 990.2 107.9 996.5 108.5 1001.1 109.0 1002.7 109.5 1000.7 110.0 995.9 110.6 989.6 111.1 982.9 111.6 976.7 112.1 971.0 112.7 966.2 113.2 962.2 113.7 958.9 114.2 956.5 114.8 954.8 115.3 953.8 115.8 953.5 116.4 953.9 116.9 955.1 117.4 956.9 117.9 959.5 118.5 962.9 119.0 967.1 119.5 972.1 120.0 977.9 120.6 984.3 121.1 990.9 121.6 997.0 122.1 1001.4 122.7 1002.7 123.2 1000.4 123.7 995.3 124.2 988.9 124.8 982.3 125.3 976.1 125.8 970.5 126.3 965.8 126.9 961.8 127.4 958.7 127.9 956.3 128.4 954.6 129.0 953.7 129.5 953.5 130.0 954.0 130.5 955.2 131.1 957.1 131.6 959.8 132.1 963.3 132.6 967.6 133.2 972.6 133.7 978.5 134.2 984.9 134.7 991.6 135.3 997.6 135.8 1001.7 136.3 1002.6 136.8 1000.0 137.4 994.7 137.9 988.3 138.4 981.6 138.9 975.5 139.5 970.0 140.0 965.3 140.5 961.5 141.0 958.4 141.6 956.1 142.1 954.5 142.6 953.7 143.1 953.5 143.7 954.1 144.2 955.4 144.7 957.4 145.3 960.1 145.8 963.7 146.3 968.0 146.8 973.2 147.4 979.1 147.9 985.6 148.4 992.2 148.9 998.1 149.5 1001.9 150.0 1002.5 150.5 999.5 151.0 994.1 151.6 987.6 152.1 981.0 152.6 974.9 153.1 969.5 153.7 964.9 154.2 961.1 154.7 958.1 155.2 955.9 155.8 954.4 156.3 953.6 156.8 953.5 157.3 954.2 157.9 955.5 158.4 957.6 158.9 960.5 159.4 964.1 160.0 968.5 160.5 973.8 161.0 979.7 161.5 986.3 162.1 992.8 162.6 998.6 163.1 1002.1 163.6 1002.3 164.2 999.1 164.7 993.5 165.2 986.9 165.7 980.4 166.3 974.3 166.8 969.0 167.3 964.5 167.8 960.8 168.4 957.9 168.9 955.7 169.4 954.3 169.9 953.6 170.5 953.6 171.0 954.3 171.5 955.7 172.1 957.9 172.6 960.8 173.1 964.5 173.6 969.0 174.2 974.3 174.7 980.4 175.2 986.9 175.7 993.5 176.3 999.1 176.8 1002.3 177.3 1002.1 177.8 998.6 178.4 992.8 178.9 986.3 179.4 979.7 179.9 973.8 180.5 968.5 181.0 964.1 181.5 960.5 182.0 957.6 182.6 955.5 183.1 954.2 183.6 953.5 184.1 953.6 184.7 954.4 185.2 955.9 185.7 958.1 186.2 961.1 186.8 964.9 187.3 969.5 187.8 974.9 188.3 981.0 188.9 987.6 189.4 994.1 189.9 999.5 190.4 1002.5 191.0 1001.9 191.5 998.1 192.0 992.2 192.5 985.6 193.1 979.1 193.6 973.2 194.1 968.1 194.6 963.9 195.2 960.5 195.7 957.8 196.2 955.9 196.7 954.7 197.3 954.2 197.8 954.5 198.3 955.4 198.9 957.1 199.4 959.5 199.9 962.7 200.4 966.7 201.0 971.4 201.5 977.0 202.0 983.3 202.5 990.0 203.1 996.6 203.6 1001.9 204.1 1004.6 204.6 1003.8 205.2 999.8 205.7 993.9 206.2 987.4 206.7 981.0 207.3 975.3 207.8 970.3 208.3 966.2 208.8 962.8 209.4 960.2 209.9 958.4 210.4 957.3 210.9 956.9 211.5 957.2 212.0 958.2 212.5 960.0 213.0 962.5 213.6 965.7 214.1 969.8 214.6 974.6 215.1 980.3 215.7 986.6 216.2 993.3 216.7 999.8 217.2 1005.0 217.8 1007.4 218.3 1006.2 218.8 1002.0 219.3 995.9 219.9 989.4 220.4 983.1 220.9 977.4 221.4 972.5 222.0 968.5 222.5 965.2 223.0 962.7 223.5 960.9 224.1 959.9 224.6 959.5 225.1 959.9 225.7 961.1 226.2 963.0 226.7 965.7 227.2 969.1 227.8 973.3 228.3 978.4 228.8 984.2 229.3 990.7 229.9 997.5 230.4 1004.0 230.9 1009.0 231.4 1011.2 232.0 1009.8 232.5 1005.4 233.0 999.3 233.5 992.9 234.1 986.7 234.6 981.2 235.1 976.5 235.6 972.6 236.2 969.5 236.7 967.2 237.2 965.6 237.7 964.7 238.3 964.5 238.8 965.1 239.3 966.4 239.8 968.3 240.4 971.1 240.9 974.6 241.4 978.9 241.9 984.0 242.5 989.9 243.0 996.4 243.5 1003.3 244.0 1009.7 244.6 1014.5 245.1 1016.3 245.6 1014.5 246.1 1009.9 246.7 1003.8 247.2 997.3 247.7 991.2 248.2 985.8 248.8 981.2 249.3 977.4 249.8 974.3 250.3 972.1 250.9 970.5 251.4 969.7 251.9 969.6 252.4 970.3 253.0 971.6 253.5 973.7 254.0 976.5 254.6 980.1 255.1 984.4 255.6 989.6 256.1 995.6 256.7 1002.2 257.2 1009.0 257.7 1015.3 258.2 1019.9 258.8 1021.4 259.3 1019.3 259.8 1014.4 260.3 1008.2 260.9 1001.8 261.4 995.7 261.9 990.4 262.4 985.8 263.0 982.1 263.5 979.1 264.0 976.9 264.5 975.5 265.1 974.8 265.6 974.8 266.1 975.5 266.6 976.9 267.2 979.1 267.7 982.0 268.2 985.7 268.7 990.1 269.3 995.4 269.8 1001.4 270.3 1008.1 270.8 1014.9 271.4 1021.0 271.9 1025.3 272.4 1026.4 272.9 1024.0 273.5 1019.0 274.0 1012.9 274.5 1006.5 275.0 1000.6 275.6 995.4 276.1 991.0 276.6 987.4 277.1 984.5 277.7 982.4 278.2 981.1 278.7 980.5 279.2 980.6 279.8 981.3 280.3 982.8 280.8 985.1 281.4 988.0 281.9 991.8 282.4 996.3 282.9 1001.6 283.5 1007.7 284.0 1014.3 284.5 1020.9 285.0 1026.9 285.6 1030.8 286.1 1031.5 286.6 1028.9 287.1 1023.8 287.7 1017.7 288.2 1011.5 288.7 1005.7 289.2 1000.6 289.8 996.3 290.3 992.8 290.8 990.0 291.3 988.0 291.9 986.8 292.4 986.2 292.9 986.4 293.4 987.2 294.0 988.8 294.5 991.1 295.0 994.1 295.5 997.9 296.1 1002.5 296.6 1007.8 297.1 1013.9 297.6 1020.4 298.2 1027.0 298.7 1032.7 299.2 1036.3 299.7 1036.6 300.3 1033.8 300.8 1028.6 301.3 1022.6 301.8 1016.4 302.4 1010.8 302.9 1005.8 303.4 1001.6 303.9 998.2 304.5 995.5 305.0 993.6 305.5 992.4 306.0 991.9 306.6 992.2 307.1 993.1 307.6 994.7 308.2 997.1 308.7 1000.2 309.2 1004.1 309.7 1008.7 310.3 1014.1 310.8 1020.2 311.3 1026.8 311.8 1033.2 312.4 1038.7 312.9 1041.9 313.4 1042.0 313.9 1038.9 314.5 1033.8 315.0 1027.8 315.5 1021.8 316.0 1016.2 316.6 1011.4 317.1 1007.3 317.6 1004.0 318.1 1001.5 318.7 999.7 319.2 998.6 319.7 998.2 320.2 998.6 320.8 999.6 321.3 1001.3 321.8 1003.7 322.3 1006.9 322.9 1010.8 323.4 1015.5 323.9 1021.0 324.4 1027.0 325.0 1033.5 325.5 1039.8 326.0 1045.0 326.5 1047.9 327.1 1047.7 327.6 1044.4 328.1 1039.2 328.6 1033.3 329.2 1027.4 329.7 1022.0 330.2 1017.3 330.7 1013.3 331.3 1010.1 331.8 1007.6 332.3 1005.9 332.8 1004.9 333.4 1004.6 333.9 1005.0 334.4 1006.1 335.0 1007.9 335.5 1010.4 336.0 1013.6 336.5 1017.6 337.1 1022.3 337.6 1027.8 338.1 1033.8 338.6 1040.2 339.2 1046.4 339.7 1051.3 340.2 1053.9 340.7 1053.3 341.3 1049.9 341.8 1044.7 342.3 1038.8 342.8 1033.0 343.4 1027.7 343.9 1023.1 344.4 1019.3 344.9 1016.2 345.5 1013.8 346.0 1012.2 346.5 1011.2 347.0 1011.0 347.6 1011.4 348.1 1012.6 348.6 1014.4 349.1 1017.0 349.7 1020.3 350.2 1024.3 350.7 1029.1 351.2 1034.6 351.8 1040.6 352.3 1047.0 352.8 1052.9 353.3 1057.6 353.9 1059.8 354.4 1059.0 354.9 1055.4 355.4 1050.2 356.0 1044.3 356.5 1038.7 357.0 1033.5 357.5 1029.0 358.1 1025.2 358.6 1022.2 359.1 1020.0 359.6 1018.4 360.2 1017.5 360.7 1017.4 361.2 1017.9 361.7 1019.1 362.3 1021.0 362.8 1023.6 363.3 1027.0 363.9 1031.1 364.4 1035.9 364.9 1041.4 365.4 1047.4 366.0 1053.6 366.5 1059.5 367.0 1063.8 367.5 1065.7 368.1 1064.6 368.6 1060.9 369.1 1055.6 369.6 1049.9 370.2 1044.3 370.7 1039.3 371.2 1034.9 371.7 1031.2 372.3 1028.3 372.8 1026.1 373.3 1024.7 373.8 1023.9 374.4 1023.8 374.9 1024.4 375.4 1025.6 375.9 1027.6 376.5 1030.3 377.0 1033.7 377.5 1037.8 378.0 1042.6 378.6 1048.2 379.1 1054.2 379.6 1060.3 380.1 1065.9 380.7 1070.0 381.2 1071.6 381.7 1070.2 382.2 1066.4 382.8 1061.1 383.3 1055.5 383.8 1050.0 384.3 1045.1 384.9 1040.8 385.4 1037.2 385.9 1034.4 386.4 1032.3 387.0 1030.9 387.5 1030.2 388.0 1030.2 388.5 1030.8 389.1 1032.2 389.6 1034.2 390.1 1036.9 390.7 1040.4 391.2 1044.5 391.7 1049.4 392.2 1054.9 392.8 1060.9 393.3 1066.9 393.8 1072.4 394.3 1076.2 394.9 1077.4 395.4 1075.8 395.9 1072.0 396.4 1066.8 397.0 1061.3 397.5 1056.1 398.0 1051.3 398.5 1047.2 399.1 1043.9 399.6 1041.2 400.1 1039.3 400.6 1038.0 401.2 1037.5 401.7 1037.6 402.2 1038.4 402.7 1039.9 403.3 1042.1 403.8 1044.9 404.3 1048.5 404.8 1052.8 405.4 1057.8 405.9 1063.4 406.4 1069.4 406.9 1075.4 407.5 1080.7 408.0 1084.3 408.5 1085.3 409.0 1083.6 409.6 1079.6 410.1 1074.5 410.6 1069.1 411.1 1063.9 411.7 1059.3 412.2 1055.3 412.7 1052.0 413.2 1049.5 413.8 1047.6 414.3 1046.5 414.8 1046.0 415.3 1046.2 415.9 1047.0 416.4 1048.6 416.9 1050.8 417.5 1053.7 418.0 1057.3 418.5 1061.7 419.0 1066.7 419.6 1072.3 420.1 1078.2 420.6 1084.1 421.1 1089.2 421.7 1092.5 422.2 1093.3 422.7 1091.3 423.2 1087.2 423.8 1082.2 424.3 1076.8 424.8 1071.8 425.3 1067.2 425.9 1063.4 426.4 1060.2 426.9 1057.7 427.4 1056.0 428.0 1054.9 428.5 1054.5 429.0 1054.7 429.5 1055.7 430.1 1057.3 430.6 1059.5 431.1 1062.5 431.6 1066.2 432.2 1070.6 432.7 1075.6 433.2 1081.2 433.7 1087.1 434.3 1092.8 434.8 1097.7 435.3 1100.7 435.8 1101.1 436.4 1099.0 436.9 1094.9 437.4 1089.8 437.9 1084.6 438.5 1079.6 439.0 1075.2 439.5 1071.4 440.0 1068.3 440.6 1065.9 441.1 1064.2 441.6 1063.2 442.1 1062.8 442.7 1063.1 443.2 1064.1 443.7 1065.7 444.2 1068.0 444.8 1071.0 445.3 1074.7 445.8 1079.1 446.4 1084.2 446.9 1089.8 447.4 1095.6 447.9 1101.3 448.5 1106.0 449.0 1108.8 449.5 1108.9 450.0 1106.5 450.6 1102.3 451.1 1097.2 451.6 1092.0 452.1 1087.0 452.7 1082.7 453.2 1078.9 453.7 1075.9 454.2 1073.6 454.8 1071.9 455.3 1071.0 455.8 1070.7 456.3 1071.0 456.9 1072.1 457.4 1073.8 457.9 1076.2 458.4 1079.2 459.0 1083.0 459.5 1087.5 460.0 1092.6 460.5 1098.2 461.1 1104.1 461.6 1109.7 462.1 1114.2 462.6 1116.8 463.2 1116.7 463.7 1114.0 464.2 1109.7 464.7 1104.5 465.3 1099.3 465.8 1094.4 466.3 1090.1 466.8 1086.5 467.4 1083.5 467.9 1081.2 468.4 1079.7 468.9 1078.8 469.5 1078.5 470.0 1079.0 470.5 1080.1 471.0 1081.8 471.6 1084.3 472.1 1087.4 472.6 1091.3 473.2 1095.8 473.7 1101.0 474.2 1106.7 474.7 1112.5 475.3 1118.1 475.8 1122.4 476.3 1124.7 476.8 1124.4 477.4 1121.5 477.9 1117.0 478.4 1111.9 478.9 1106.7 479.5 1101.8 480.0 1097.6 480.5 1094.0 481.0 1091.1 481.6 1088.9 482.1 1087.4 482.6 1086.6 483.1 1086.4 483.7 1086.9 484.2 1088.1 484.7 1089.9 485.2 1092.5 485.8 1095.7 486.3 1099.6 486.8 1104.2 487.3 1109.5 487.9 1115.2 488.4 1121.1 488.9 1126.5 489.4 1130.7 490.0 1132.8 490.5 1132.2 491.0 1129.1 491.5 1124.5 492.1 1119.3 492.6 1114.2 493.1 1109.4 493.6 1105.2 494.2 1101.7 494.7 1098.9 495.2 1096.8 495.7 1095.3 496.3 1094.6 496.8 1094.5 497.3 1095.1 497.8 1096.3 498.4 1098.2 498.9 1100.8 499.4 1104.1 500.0 1108.1 500.5 1112.8 501.0 1118.1 501.5 1123.8 502.1 1129.7 502.6 1135.1 503.1 1139.1 503.6 1140.9 504.2 1140.0 504.7 1136.8 505.2 1132.1 505.7 1126.9 506.3 1121.7 506.8 1117.0 507.3 1112.9 507.8 1109.5 508.4 1106.7 508.9 1104.7 509.4 1103.3 509.9 1102.6 510.5 1102.6 511.0 1103.2 511.5 1104.6 512.0 1106.5 512.6 1109.2 513.1 1112.6 513.6 1116.6 514.1 1121.4 514.7 1126.7 515.2 1132.5 515.7 1138.3 516.2 1143.6 516.8 1147.5 517.3 1149.0 517.8 1147.9 518.3 1144.4 518.9 1139.7 519.4 1134.4 519.9 1129.3 520.4 1124.7 521.0 1120.6 521.5 1117.2 522.0 1114.6 522.5 1112.6 523.1 1111.3 523.6 1110.7 524.1 1110.7 524.6 1111.4 525.2 1112.8 525.7 1114.9 526.2 1117.6 526.8 1121.1 527.3 1125.3 527.8 1130.1 528.3 1135.6 528.9 1141.4 529.4 1147.3 529.9 1152.6 530.4 1156.3 531.0 1157.6 531.5 1156.3 532.0 1152.7 532.5 1147.9 533.1 1142.8 533.6 1137.7 534.1 1133.2 534.6 1129.3 535.2 1126.0 535.7 1123.5 536.2 1121.6 536.7 1120.5 537.3 1120.0 537.8 1120.1 538.3 1121.0 538.8 1122.5 539.4 1124.7 539.9 1127.5 540.4 1131.1 540.9 1135.4 541.5 1140.3 542.0 1145.8 542.5 1151.7 543.0 1157.6 543.6 1162.7 544.1 1166.2 544.6 1167.3 545.1 1165.7 545.7 1162.0 546.2 1157.1 546.7 1151.9 547.2 1146.9 547.8 1142.4 548.3 1138.6 548.8 1135.4 549.3 1132.9 549.9 1131.1 550.4 1130.0 550.9 1129.6 551.4 1129.9 552.0 1130.8 552.5 1132.3 553.0 1134.6 553.5 1137.5 554.1 1141.2 554.6 1145.5 555.1 1150.5 555.7 1156.0 556.2 1162.0 556.7 1167.8 557.2 1172.8 557.8 1176.1 558.3 1176.9 558.8 1175.0 559.3 1171.2 559.9 1166.2 560.4 1161.0 560.9 1156.1 561.4 1151.7 562.0 1147.9 562.5 1144.8 563.0 1142.4 563.5 1140.7 564.1 1139.6 564.6 1139.3 565.1 1139.6 565.6 1140.6 566.2 1142.3 566.7 1144.6 567.2 1147.6 567.7 1151.4 568.3 1155.8 568.8 1160.9 569.3 1166.5 569.8 1172.5 570.4 1178.3 570.9 1183.2 571.4 1186.3 571.9 1186.8 572.5 1184.8 573.0 1180.8 573.5 1175.8 574.0 1170.7 574.6 1165.8 575.1 1161.5 575.6 1157.8 576.1 1154.8 576.7 1152.5 577.2 1150.8 577.7 1149.9 578.2 1149.6 578.8 1150.0 579.3 1151.1 579.8 1152.8 580.3 1155.3 580.9 1158.4 581.4 1162.2 581.9 1166.7 582.5 1171.8 583.0 1177.5 583.5 1183.5 584.0 1189.2 584.6 1194.0 585.1 1196.9 585.6 1197.1 586.1 1194.8 586.7 1190.7 587.2 1185.7 587.7 1180.6 588.2 1175.7 588.8 1171.4 589.3 1167.8 589.8 1164.9 590.3 1162.7 590.9 1161.1 591.4 1160.2 591.9 1160.0 592.4 1160.5 593.0 1161.6 593.5 1163.4 594.0 1165.9 594.5 1169.1 595.1 1173.0 595.6 1177.5 596.1 1182.8 596.6 1188.5 597.2 1194.4 597.7 1200.1 598.2 1204.8 598.7 1207.4 599.3 1207.4 599.8 1204.9 600.3 1200.6 600.8 1195.6 601.4 1190.4 601.9 1185.7 602.4 1181.4 602.9 1177.9 603.5 1175.0 604.0 1172.9 604.5 1171.4 605.0 1170.6 605.6 1170.5 606.1 1171.2 606.6 1172.5 607.1 1174.5 607.7 1177.2 608.2 1180.6 608.7 1184.6 609.3 1189.4 609.8 1194.8 610.3 1200.6 610.8 1206.7 611.4 1212.5 611.9 1217.1 612.4 1219.6 612.9 1219.4 613.5 1216.8 614.0 1212.6 614.5 1207.6 615.0 1202.6 615.6 1198.0 616.1 1194.0 616.6 1190.6 617.1 1187.9 617.7 1186.0 618.2 1184.7 618.7 1184.1 619.2 1184.1 619.8 1184.9 620.3 1186.2 620.8 1188.3 621.3 1191.0 621.9 1194.5 622.4 1198.6 622.9 1203.4 623.4 1208.9 624.0 1214.8 624.5 1220.9 625.0 1226.6 625.5 1231.0 626.1 1233.3 626.6 1232.8 627.1 1230.0 627.6 1225.7 628.2 1220.7 628.7 1215.7 629.2 1211.1 629.7 1207.2 630.3 1203.9 630.8 1201.3 631.3 1199.4 631.8 1198.1 632.4 1197.6 632.9 1197.7 633.4 1198.5 633.9 1200.0 634.5 1202.1 635.0 1204.9 635.5 1208.4 636.1 1212.6 636.6 1217.5 637.1 1223.0 637.6 1229.0 638.2 1235.1 638.7 1240.7 639.2 1244.9 639.7 1246.9 640.3 1246.2 640.8 1243.2 641.3 1238.7 641.8 1233.7 642.4 1228.8 642.9 1224.3 643.4 1220.4 643.9 1217.1 644.5 1214.6 645.0 1212.8 645.5 1211.6 646.0 1211.1 646.6 1211.4 647.1 1212.4 647.6 1214.2 648.1 1216.5 648.7 1219.6 649.2 1223.4 649.7 1227.8 650.2 1233.0 650.8 1238.7 651.3 1244.9 651.8 1251.1 652.3 1256.8 652.9 1261.1 653.4 1263.0 653.9 1262.3 654.4 1259.2 655.0 1254.9 655.5 1250.0 656.0 1245.3 656.5 1241.0 657.1 1237.4 657.6 1234.4 658.1 1232.1 658.6 1230.6 659.2 1229.7 659.7 1229.4 660.2 1229.9 660.7 1231.0 661.3 1232.8 661.8 1235.2 662.3 1238.4 662.8 1242.2 663.4 1246.7 663.9 1251.9 664.4 1257.7 665.0 1263.9M669.7 1263.3 670.2 1259.1 670.7 1255.5 671.3 1252.6 671.8 1250.4 672.3 1248.8 672.8 1248.0 673.4 1247.9 673.9 1248.4 674.4 1249.6 674.9 1251.4 675.5 1254.0 676.0 1257.2 676.5 1261.1 677.0 1265.7" stroke="#A2142F"/>
</g>
<defs>
<marker id="m340" markerUnits="userSpaceOnUse" markerWidth="1" markerHeight="1" overflow="visible"><path d="M0 -7.3L5.5 0L0 7.3L-5.5 0Z" fill="#0072BD"/></marker>
<marker id="m76" markerUnits="userSpaceOnUse" markerWidth="1" markerHeight="1" overflow="visible"><circle r="4.85" fill="#4DBEEE"/></marker>
<marker id="m50" markerUnits="userSpaceOnUse" markerWidth="1" markerHeight="1" overflow="visible"><path d="M-4.8 -4.8H4.8V4.8H-4.8Z" fill="#77AC30"/></marker>
<marker id="m43" markerUnits="userSpaceOnUse" markerWidth="1" markerHeight="1" overflow="visible"><path d="M0.00 -6.90L1.99 -3.45L5.98 -3.45L3.98 0.00L5.98 3.45L1.99 3.45L0.00 6.90L-1.99 3.45L-5.98 3.45L-3.98 0.00L-5.98 -3.45L-1.99 -3.45Z" fill="#EDB120"/></marker>
<marker id="m40" markerUnits="userSpaceOnUse" markerWidth="1" markerHeight="1" overflow="visible"><path d="M0.00 -8.00L1.80 -2.47L7.61 -2.47L2.91 0.94L4.70 6.47L0.00 3.06L-4.70 6.47L-2.91 0.94L-7.61 -2.47L-1.80 -2.47Z" fill="#D95319"/></marker>
<marker id="m32" markerUnits="userSpaceOnUse" markerWidth="1" markerHeight="1" overflow="visible"><circle r="3.4" fill="#A2142F"/></marker>
<marker id="mati" markerUnits="userSpaceOnUse" markerWidth="1" markerHeight="1" overflow="visible"><path d="M0 -7.3L5.5 0L0 7.3L-5.5 0Z" fill="#000"/></marker>
</defs>
<polyline fill="none" stroke="none" marker-start="url(#m340)" marker-mid="url(#m340)" marker-end="url(#m340)" points="88.7,93.2 89.0,94.1 89.2,92.5 89.7,94.7 90.0,95.2 90.3,97.1 90.5,94.0 90.8,98.8 91.3,100.8 91.6,100.6 91.8,99.3 92.1,101.4 92.4,101.4 92.6,103.0 92.9,101.1 93.2,103.0 93.4,104.7 93.9,103.9 94.2,102.8 94.5,103.1 95.0,102.5 95.3,103.1 95.8,100.1 96.0,100.6 96.3,99.4 96.6,99.5 96.8,100.3 97.1,98.8 97.4,95.3 97.6,96.7 97.9,95.6 98.1,95.9 98.4,94.3 98.7,93.4 98.9,92.7 99.2,92.0 99.5,92.1 100.0,90.6 100.2,90.0 100.5,90.3 100.8,88.2 101.3,90.0 101.6,91.0 101.8,89.5 102.1,91.9 102.4,92.9 102.9,91.5 103.1,93.8 103.4,91.9 103.9,95.8 104.2,95.1 104.5,93.6 104.7,96.9 105.0,97.9 105.2,96.5 105.8,97.0 106.0,98.8 106.8,98.3 107.1,97.5 107.3,100.0 107.6,98.7 107.9,100.4 108.1,99.5 108.7,100.8 108.9,99.5 109.4,98.6 109.7,99.9 110.5,98.8 110.8,98.1 111.0,96.8 111.3,94.5 111.5,98.5 111.8,96.7 112.1,97.0 112.6,96.1 113.1,96.1 113.4,94.7 113.6,97.9 113.9,95.6 114.4,96.8 115.0,95.7 115.2,96.5 115.7,97.8 116.0,96.0 116.3,97.2 116.8,97.6 117.1,98.1 117.6,99.9 117.9,98.9 118.4,97.8 118.6,100.8 118.9,98.9 119.2,102.1 119.4,100.2 119.7,101.0 120.2,102.0 120.5,103.5 121.0,100.5 121.3,101.7 121.5,102.9 121.8,101.2 122.1,102.9 122.6,103.3 122.8,100.8 123.1,100.0 123.4,102.8 123.6,101.4 123.9,100.6 124.2,99.3 124.4,103.8 124.7,101.0 125.2,102.4 125.5,100.3 125.7,100.4 126.0,99.8 126.5,99.9 126.8,100.8 127.6,100.3 127.8,101.3 128.1,98.1 128.4,98.7 128.9,100.5 129.1,100.2 129.4,98.2 129.7,99.2 129.9,100.9 130.2,100.1 130.7,100.6 131.0,101.5 131.3,99.4 131.5,100.2 131.8,101.2 132.0,102.7 132.3,101.9 132.8,100.7 133.1,102.1 133.9,102.7 134.1,104.9 134.4,103.3 134.7,103.7 134.9,102.3 135.2,101.9 135.5,100.8 135.7,102.2 136.0,103.3 136.2,99.6 136.5,101.6 137.3,102.9 137.6,100.8 138.1,99.5 138.3,99.8 138.9,99.3 139.1,100.7 139.7,100.1 140.2,99.8 140.7,98.7 141.0,99.3 141.2,101.1 141.8,97.7 142.0,101.0 142.3,99.9 142.5,99.2 142.8,100.6 143.1,99.9 143.3,99.4 143.6,100.9 143.9,99.4 144.7,100.1 144.9,99.2 145.2,100.6 145.4,100.2 146.0,101.3 146.5,101.0 146.8,102.6 147.3,101.0 147.8,102.8 148.1,101.8 148.3,100.9 148.6,102.2 149.1,101.2 149.4,102.5 149.6,101.8 149.9,102.8 150.2,101.4 151.0,102.2 151.5,101.6 151.7,101.4 152.0,102.9 152.5,101.1 152.8,100.8 153.3,98.4 153.6,99.8 153.8,100.9 154.4,99.3 154.6,100.2 154.9,102.3 155.4,100.4 155.7,98.3 155.9,102.3 156.2,98.9 156.5,100.7 156.7,99.7 157.3,100.6 157.5,99.8 158.1,100.2 158.3,101.5 159.1,102.5 159.6,101.0 159.9,103.7 160.2,104.4 160.4,102.9 160.7,101.3 160.9,102.2 161.7,104.3 162.0,103.6 162.3,106.5 162.5,104.5 162.8,103.3 163.0,105.5 163.3,106.0 163.6,105.2 163.8,103.6 164.1,102.6 164.4,101.1 164.6,102.2 164.9,105.1 165.1,105.8 165.4,103.2 165.7,102.1 165.9,104.7 166.2,103.5 166.7,102.6 167.0,102.7 167.2,101.9 167.5,101.2 168.0,101.4 168.3,100.0 168.6,103.0 168.8,103.0 169.1,101.4 169.3,100.0 169.9,100.8 170.1,102.3 170.7,102.8 170.9,101.6 171.5,102.2 171.7,101.4 172.2,103.8 172.5,102.5 172.8,105.3 173.3,101.2 173.6,103.6 174.1,104.5 174.3,103.9 174.6,105.4 174.9,104.4 175.1,105.5 175.4,105.8 176.2,107.4 176.4,103.6 176.7,105.6 177.0,107.5 177.2,104.7 177.5,105.8 177.8,105.5 178.3,106.5 178.5,108.5 178.8,105.5 179.3,104.2 179.6,105.9 179.9,105.3 180.1,104.5 180.7,104.9 180.9,104.3 181.5,102.7 181.7,105.2 182.0,104.2 182.3,104.5 182.6,104.9 182.8,103.6 183.4,102.7 183.7,103.7 184.0,104.8 184.2,103.6 184.5,106.0 184.8,104.7 185.1,104.4 185.7,106.4 186.0,107.0 186.3,104.0 186.6,106.5 186.9,107.8 187.4,106.6 187.7,105.7 188.0,107.1 188.3,106.1 188.6,107.3 189.6,108.3 190.2,108.5 190.5,108.8 190.8,107.5 191.4,108.0 191.8,108.9 192.4,108.4 192.7,106.7 193.4,107.4 193.7,105.7 194.0,110.1 194.3,108.2 195.0,106.8 195.3,106.3 196.0,106.3 196.4,107.5 196.7,104.8 197.0,106.3 197.4,107.0 197.7,107.9 198.1,106.5 198.8,107.8 199.1,107.3 199.5,107.6 199.8,108.9 200.2,107.1 200.5,109.6 201.3,108.9 202.0,109.7 202.4,110.4 202.7,110.1 203.1,110.9 203.5,112.1 203.8,109.8 204.2,111.6 204.6,110.9 205.0,109.9 205.4,110.5 205.7,107.7 206.1,111.8 206.5,111.0 206.9,110.0 207.3,108.5 207.7,110.0 208.1,111.0 208.5,108.2 208.9,110.2 209.3,109.3 209.7,108.2 210.1,109.7 210.5,109.5 210.9,108.6 211.3,109.4 211.7,109.1 212.2,110.5 212.6,110.0 213.0,111.2 213.8,109.0 214.3,110.6 214.7,110.5 215.1,112.7 215.6,112.1 216.4,114.0 216.9,112.2 217.3,113.7 217.8,113.2 218.2,114.6 218.6,112.1 219.6,112.5 220.0,113.7 220.5,113.1 220.9,111.1 221.4,112.4 221.9,111.7 222.8,112.8 223.3,110.0 223.7,113.5 224.2,111.3 224.7,111.7 225.2,113.5 225.7,111.9 226.2,112.1 226.6,113.0 227.1,114.3 227.6,113.5 228.6,114.8 229.1,113.8 229.6,115.3 230.2,115.9 231.2,118.1 232.2,117.4 232.7,117.5 233.3,116.6 233.8,117.0 234.3,117.9 234.9,117.8 235.4,118.3 236.5,118.4 237.0,117.0 237.6,118.5 238.1,118.6 238.7,118.3 239.3,119.4 240.4,121.9 241.0,119.9 241.5,121.1 242.1,121.2 242.7,121.5 243.3,124.2 243.8,120.3 244.4,122.9 245.6,125.2 246.2,122.8 246.8,122.9 247.4,123.5 248.0,122.6 248.6,121.3 249.3,122.7 249.9,123.0 250.5,120.6 251.1,121.6 251.8,122.2 252.4,120.0 253.0,122.5 253.7,123.3 254.3,123.4 255.0,124.7 255.6,124.8 256.3,125.4 256.9,126.8 257.6,126.9 258.3,126.8 258.9,127.0 260.3,126.7 261.0,127.2 261.7,126.8 262.4,127.5 263.1,127.2 263.8,125.7 264.5,128.7 265.2,126.4 265.9,123.9 266.6,129.1 267.3,126.3 268.1,130.2 268.8,128.2 270.3,128.9 271.0,131.5 271.8,132.7 272.5,132.6 273.3,130.9 274.0,132.9 274.8,132.0 275.6,131.8 276.3,131.2 277.1,131.3 277.9,131.1 278.7,131.7 279.5,128.4 280.3,134.5 281.1,131.8 281.9,133.5 282.7,132.0 283.6,135.1 284.4,134.9 285.2,134.7 286.1,135.5 286.9,135.7 287.8,133.3 288.6,137.3 289.5,132.7 290.3,134.6 291.2,136.1 292.1,132.9 293.0,132.0 293.9,134.3 294.8,134.9 295.7,135.6 296.6,136.6 297.5,137.8 298.4,139.2 299.3,140.8 300.2,143.4 301.2,140.7 302.1,138.0 303.1,137.3 304.0,137.1 305.0,140.9 306.0,140.8 306.9,136.8 307.9,139.6 308.9,145.7 309.9,138.8 310.9,144.3 311.9,141.1 312.9,142.7 313.9,149.4 315.0,140.7 316.0,148.3 317.1,146.2 318.1,143.3 319.2,147.6 320.2,144.1 321.3,144.0 322.4,151.3 323.5,149.5 324.6,148.5 325.7,156.9 326.8,151.4 327.9,147.7 329.0,149.0 330.1,156.5 331.3,148.1 332.4,160.6 333.6,150.6 334.8,149.6 335.9,152.3 337.1,150.5 338.3,152.7 339.5,153.1 340.7,152.0 341.9,157.4 343.2,160.0 344.4,157.1 345.6,152.1 346.9,154.3 348.2,150.4 349.4,162.3 350.7,153.2 352.0,156.9 353.3,158.8 354.6,159.0 355.9,162.3 357.3,157.6 358.6,158.4 360.0,164.1 361.3,159.2 362.7,162.3 364.1,163.0 365.4,165.5 366.9,164.8 368.3,164.9 369.7,171.5 371.1,166.3 372.6,165.9 374.0,162.6 375.5,172.6 377.0,166.5 378.5,170.1 380.0,171.3 381.5,173.6 383.0,170.0 384.5,175.2 386.1,173.6 387.6,170.1 389.2,170.5 390.8,170.7 392.4,167.1 394.0,170.6 395.6,172.6 397.3,174.5 398.9,178.3 400.6,167.9 402.2,172.3 403.9,180.0 405.6,178.6 407.4,182.0 409.1,183.8 410.8,176.7 412.6,176.6 414.4,181.9 416.1,181.9 418.0,181.6 419.8,177.3 421.6,182.1 423.5,183.3 425.3,185.5 427.2,180.7 429.1,185.5 431.0,181.0 432.9,181.6 434.9,188.6 436.8,186.2 438.8,190.0 440.8,186.7 442.8,185.1 444.8,185.6 446.9,189.0 448.9,189.3 451.0,194.0 453.1,196.4 455.2,197.7 457.4,196.6 459.5,205.6 461.7,205.2 463.9,206.9 466.1,200.1 468.3,196.7 470.6,202.2 472.9,195.1 475.1,201.0 477.5,203.2 479.8,202.5 482.1,209.3 484.5,204.9 486.9,205.9 489.3,206.9 491.8,209.0 494.2,203.4 496.7,210.6 499.2,217.8 501.7,211.2 504.3,222.1 506.9,221.0 509.5,207.5 512.1,207.1 514.8,215.2 517.4,223.5 520.1,236.5 522.9,227.8 525.6,236.8 528.4,227.6 531.2,227.0 534.0,231.3 536.9,226.7 539.8,222.7 542.7,233.0 545.6,233.0 548.6,229.3 551.6,229.7 554.6,233.0 557.7,232.6 560.8,247.6 563.9,250.2 567.1,245.5 570.2,243.5 573.5,247.9 576.7,249.1 580.0,247.9 583.3,246.5 586.6,244.8 590.0,251.5 593.4,247.6 596.9,250.6 600.4,249.8 603.9,251.9 607.4,251.0 611.0,249.8 614.7,256.4 618.3,263.0 622.0,255.4 625.8,263.6 629.6,251.0 633.4,251.9 637.3,253.6 641.2,264.8 645.1,264.2 649.1,255.4 653.2,271.4 657.2,269.8 661.4,263.0 665.5,264.8 669.7,265.5 674.0,274.9 678.3,277.8 682.7,270.6 687.1,263.0 691.5,273.1 696.0,287.2 700.6,277.8 705.2,299.2 709.8,324.0 714.6,324.0 719.3,315.6 724.1,309.0 729.0,291.8 733.9,293.4 738.9,301.3 744.0,277.8 749.1,284.6 754.2,291.8 759.4,285.9 764.7,290.2 770.1,297.1 775.5,303.7 781.0,315.6 786.5,293.4 792.1,306.2 797.8,303.7 803.5,306.2 809.3,324.0 815.2,319.5 821.2,309.0 827.2,324.0 833.3,329.4 845.8,344.4 852.1,356.3 858.5,315.6 865.0,344.4 871.6,336.0 878.2,356.3 885.0,376.7 891.8,324.0 898.8,336.0 905.8,324.0 912.9,344.4 920.1,356.3 927.4,329.4 934.7,376.7 942.2,324.0 949.8,356.3 957.5,376.7"/>
<polyline fill="none" stroke="none" marker-start="url(#m76)" marker-mid="url(#m76)" marker-end="url(#m76)" points="88.7,87.9 89.0,84.5 89.2,89.8 89.5,93.0 89.7,92.5 90.0,94.6 90.3,96.8 90.5,98.4 90.8,100.6 91.3,105.4 91.6,105.2 91.8,106.1 92.1,110.1 92.4,107.2 92.6,111.6 92.9,112.9 93.2,114.5 93.4,113.3 93.7,117.1 94.2,112.2 94.5,114.6 94.7,113.5 95.0,115.3 95.3,112.2 95.5,113.3 95.8,111.6 96.0,109.7 96.3,105.6 96.6,107.4 96.8,107.6 97.1,102.9 97.4,100.2 97.6,98.5 97.9,97.3 98.1,93.9 98.4,92.9 98.7,91.3 98.9,91.5 99.5,86.1 99.7,88.4 100.0,84.5 100.2,84.0 100.5,86.7 100.8,85.6 101.0,84.0 101.3,83.3 101.6,86.3 101.8,85.8 102.1,87.5 102.4,88.5 102.6,87.7 102.9,89.5 103.1,92.9 103.4,90.8 103.7,93.2 103.9,94.7 104.2,97.4 104.5,96.0 104.7,98.0 105.0,99.4 105.2,101.3 105.8,101.4 106.0,104.4 106.3,105.3 106.6,107.1 106.8,106.3 107.1,108.1 107.3,109.3 107.6,107.0 107.9,108.9 108.1,109.9 108.7,108.9 109.2,104.9 109.4,105.3 109.7,107.1 110.0,102.5 110.2,103.6 110.5,101.5 110.8,101.1 111.0,98.6 111.3,97.3 111.5,95.5 111.8,94.0 112.1,97.5 112.3,93.4 112.6,91.5 112.9,90.7 113.1,91.5 113.4,89.1 113.6,88.1 113.9,90.1 114.2,88.0 114.4,85.4 114.7,87.4 115.0,86.6 115.7,86.3 116.3,88.5 116.5,89.3 116.8,90.8 117.1,91.4 117.3,93.0 117.6,93.0 117.9,94.3 118.1,98.6 118.4,101.1 118.6,98.6 119.2,103.9 119.4,101.5 120.0,106.5 120.2,107.1 120.7,108.3 121.3,109.5 121.5,108.1 121.8,108.6 122.1,106.4 122.3,107.8 122.8,104.4 123.1,105.1 123.4,104.1 123.9,103.0 124.2,98.6 124.7,99.4 125.2,97.2 125.5,94.1 125.7,97.4 126.0,92.9 126.3,94.0 126.5,89.1 126.8,92.2 127.0,88.0 127.6,88.0 127.8,85.2 128.1,87.2 128.4,86.1 128.9,88.8 129.1,87.5 129.4,86.5 129.7,87.9 129.9,88.8 130.2,91.0 130.5,88.6 130.7,92.6 131.0,90.3 131.3,93.8 131.5,94.2 131.8,98.5 132.0,97.5 132.3,100.3 132.8,99.5 133.1,101.8 133.4,103.0 133.9,106.9 134.1,105.7 134.7,105.3 134.9,108.3 135.5,104.5 135.7,110.5 136.0,107.4 136.2,109.1 136.5,104.4 136.8,106.9 137.3,103.6 137.6,104.4 138.1,99.4 138.3,100.8 138.6,98.4 138.9,95.5 139.1,96.5 139.4,95.8 139.9,92.5 140.2,93.5 140.7,91.5 141.0,90.9 141.2,91.8 141.5,89.4 141.8,87.5 142.3,85.6 142.8,88.5 143.1,92.3 143.3,89.5 143.6,88.6 143.9,91.6 144.1,89.9 144.4,94.3 144.7,93.6 145.4,97.3 145.7,95.5 146.0,100.0 146.2,103.3 146.5,101.9 146.8,100.7 147.0,104.2 147.3,102.1 147.5,105.6 147.8,103.2 148.1,109.9 148.3,103.6 148.6,110.4 148.9,107.7 149.1,109.4 149.4,107.1 149.6,107.7 149.9,107.5 150.2,105.7 150.4,104.6 150.7,105.9 151.0,102.8 151.2,106.4 151.5,104.5 151.7,104.0 152.0,100.2 152.3,98.5 152.8,98.8 153.3,94.8 153.6,93.1 153.8,94.9 154.1,93.5 154.4,93.1 154.6,91.9 154.9,90.7 155.2,94.3 155.4,91.5 155.7,89.3 156.2,88.6 156.7,92.6 157.3,90.1 157.5,95.3 158.1,96.9 158.3,95.2 158.8,96.5 159.1,97.9 159.4,101.5 159.6,98.6 159.9,101.6 160.2,103.1 160.4,100.9 160.7,104.2 161.5,103.6 161.7,107.4 162.3,111.8 162.5,110.0 162.8,105.4 163.3,108.7 163.6,109.6 164.1,109.3 164.4,107.8 164.6,109.0 164.9,105.8 165.1,105.1 165.4,105.9 165.7,105.1 165.9,104.0 166.2,102.0 166.5,100.7 166.7,98.6 167.0,101.3 167.2,98.3 167.5,96.9 167.8,95.7 168.0,94.3 168.3,95.7 168.6,92.7 168.8,90.7 169.1,93.3 169.3,91.4 169.6,92.3 169.9,93.2 170.1,94.5 170.7,91.7 170.9,95.3 171.2,97.3 171.5,97.6 171.7,96.4 172.0,99.4 172.2,97.9 172.5,99.2 172.8,100.9 173.0,99.7 173.3,105.4 174.3,109.2 174.9,106.7 175.1,110.0 175.4,108.5 175.7,110.8 175.9,112.0 176.2,110.2 176.4,109.1 176.7,111.3 177.0,113.2 177.2,112.2 177.5,111.4 177.8,110.7 178.0,111.3 178.3,108.2 178.8,106.3 179.1,108.8 179.3,107.8 179.6,103.7 180.1,104.3 180.7,102.4 180.9,101.2 181.2,100.1 181.5,98.2 181.7,100.5 182.0,98.6 182.3,98.1 182.6,100.0 182.8,95.8 183.1,94.9 183.4,97.6 183.7,100.5 184.0,99.3 184.2,96.9 184.5,102.1 184.8,102.7 185.1,101.1 185.4,100.3 186.0,101.3 186.3,107.7 186.6,105.9 186.9,107.6 187.1,108.7 187.4,106.9 187.7,108.5 188.0,111.3 188.3,110.6 188.6,111.5 189.0,110.5 189.3,113.9 189.6,112.5 189.9,114.9 190.2,113.2 190.5,114.0 190.8,113.4 191.4,110.7 191.8,113.6 192.4,112.0 192.7,109.5 193.0,108.2 193.4,108.4 194.0,107.0 194.3,106.5 194.7,103.8 195.0,103.8 195.3,102.7 196.0,101.8 196.4,99.9 196.7,102.2 197.0,100.8 197.7,103.1 198.1,100.0 198.4,102.9 198.8,105.8 199.1,103.6 199.5,105.2 199.8,106.2 200.2,108.8 200.5,110.3 201.3,114.3 201.6,113.1 202.4,113.9 202.7,116.4 203.1,115.8 203.5,119.4 203.8,118.6 204.2,116.3 204.6,115.1 205.0,115.7 205.4,118.9 205.7,117.5 206.1,116.1 206.5,112.3 206.9,114.1 207.3,111.8 207.7,110.4 208.1,109.4 208.5,109.3 208.9,107.8 209.3,106.3 209.7,106.8 210.5,105.3 210.9,104.3 211.3,103.1 211.7,109.3 212.2,107.8 212.6,109.1 213.0,112.0 213.8,114.0 214.3,115.8 214.7,116.6 215.1,116.0 215.6,119.8 216.4,120.4 216.9,122.4 217.3,123.2 217.8,124.0 218.2,122.7 218.6,119.0 219.1,123.3 219.6,118.6 220.0,120.5 220.5,119.5 220.9,115.7 221.4,114.9 221.9,113.7 222.8,111.5 223.3,113.2 223.7,111.2 224.2,110.1 224.7,111.9 225.2,113.6 225.7,110.3 226.2,114.2 226.6,116.6 227.1,115.4 227.6,115.8 228.1,118.4 228.6,122.6 229.1,122.1 229.6,123.0 230.2,123.6 230.7,127.7 231.2,128.0 231.7,125.9 232.2,126.1 232.7,125.0 233.3,123.2 233.8,126.3 234.3,124.9 234.9,123.0 235.4,118.5 235.9,120.2 236.5,117.5 237.0,122.2 237.6,117.7 238.1,116.6 238.7,116.1 239.3,120.3 239.8,116.8 240.4,122.7 241.0,120.4 241.5,121.6 242.1,126.1 242.7,129.6 243.3,125.1 243.8,129.2 244.4,132.5 245.0,130.1 245.6,132.6 246.2,130.1 247.4,130.9 248.0,126.7 249.3,124.8 249.9,123.4 250.5,122.7 251.1,122.7 251.8,121.6 253.0,122.8 253.7,124.5 254.3,125.6 255.6,127.8 256.3,130.9 256.9,131.5 257.6,132.7 258.3,133.5 258.9,134.4 260.3,134.1 261.0,132.2 261.7,131.2 262.4,129.8 263.1,128.6 263.8,127.6 264.5,128.2 265.2,128.5 265.9,127.1 266.6,128.2 267.3,128.4 268.1,131.0 268.8,133.3 269.5,135.9 270.3,136.2 271.0,137.2 271.8,138.9 272.5,138.5 273.3,137.5 274.0,138.7 274.8,138.3 275.6,134.4 276.3,133.4 277.1,134.2 277.9,132.3 278.7,134.4 279.5,131.2 281.1,133.7 281.9,132.3 282.7,139.9 283.6,139.6 284.4,141.8 285.2,142.3 286.1,143.9 286.9,142.7 287.8,145.0 288.6,141.1 289.5,139.0 290.3,139.7 291.2,137.5 292.1,137.2 293.0,134.9 293.9,138.4 294.8,136.6 295.7,139.2 296.6,143.2 297.5,144.7 298.4,145.4 299.3,153.4 300.2,146.8 301.2,145.1 302.1,144.4 303.1,141.1 304.0,142.7 305.0,141.8 306.0,141.7 306.9,139.8 307.9,142.6 308.9,140.2 309.9,146.3 310.9,146.1 311.9,150.9 312.9,149.9 313.9,155.6 315.0,147.7 316.0,150.1 317.1,147.2 318.1,145.7 319.2,147.9 320.2,149.2 321.3,149.8 322.4,148.1 323.5,148.1 324.6,154.0 325.7,156.6 326.8,165.3 327.9,161.4 329.0,158.5 330.1,158.6 331.3,155.0 332.4,153.7 333.6,150.8 334.8,154.0 335.9,155.2 337.1,157.0 338.3,155.5 339.5,162.2 340.7,158.4 341.9,161.5 343.2,159.3 344.4,158.6 345.6,158.9 346.9,163.9 348.2,163.7 349.4,163.8 350.7,159.8 352.0,163.5 353.3,170.7 354.6,164.9 355.9,171.8 357.3,166.6 358.6,169.3 360.0,162.9 361.3,161.1 362.7,163.3 364.1,164.7 365.4,170.6 366.9,172.5 368.3,177.5 369.7,174.7 371.1,176.8 372.6,173.0 374.0,170.5 375.5,184.9 377.0,169.7 378.5,179.6 380.0,176.7 381.5,178.5 383.0,175.6 384.5,176.2 386.1,173.0 387.6,176.0 389.2,173.9 390.8,183.3 392.4,175.0 394.0,178.8 395.6,184.6 397.3,181.5 398.9,185.4 400.6,191.1 402.2,181.3 403.9,180.6 405.6,183.3 407.4,191.8 409.1,185.9 410.8,186.8 412.6,185.7 414.4,192.9 416.1,188.6 418.0,188.2 419.8,189.8 421.6,195.2 423.5,194.2 425.3,194.4 427.2,189.2 429.1,191.6 431.0,190.9 432.9,192.7 434.9,205.0 436.8,202.7 438.8,194.8 440.8,196.2 442.8,197.6 444.8,194.8 446.9,203.1 448.9,209.5 451.0,212.6 453.1,202.8 455.2,201.6 457.4,198.7 459.5,202.4 461.7,208.6 463.9,213.0 466.1,208.8 468.3,205.5 470.6,218.9 472.9,226.5 475.1,226.3 477.5,227.5 479.8,222.4 482.1,211.5 484.5,212.2 486.9,222.2 489.3,219.2 491.8,220.0 494.2,216.7 496.7,223.7 499.2,220.1 501.7,224.0 504.3,231.8 506.9,225.6 509.5,227.7 512.1,228.9 514.8,241.3 517.4,248.6 520.1,247.9 522.9,241.3 525.6,235.0 528.4,232.0 531.2,243.6 534.0,249.7 536.9,246.8 539.8,242.5 542.7,238.4 545.6,250.4 548.6,246.2 551.6,252.0 554.6,244.6 557.7,245.2 560.8,252.4 563.9,249.7 567.1,277.2 570.2,260.8 573.5,262.5 576.7,260.8 580.0,255.9 583.3,264.3 586.6,266.2 590.0,298.5 593.4,270.4 596.9,276.2 600.4,283.5 603.9,258.7 607.4,260.8 611.0,268.9 614.7,274.4 618.3,276.2 622.0,271.2 625.8,280.1 629.6,285.9 633.4,276.2 637.3,287.2 641.2,293.1 645.1,288.6 649.1,285.9 653.2,290.0 657.2,285.9 661.4,290.0 665.5,293.1 669.7,302.7 674.0,293.1 678.3,294.8 682.7,296.6 687.1,305.0 691.5,325.4 696.0,357.7 700.6,320.9 705.2,378.0 709.8,357.7 714.6,337.3 719.3,316.9 724.1,307.6 729.0,330.8 733.9,325.4 738.9,345.8 744.0,337.3 749.1,325.4 754.2,330.8 759.4,325.4 764.7,337.3 770.1,345.8 775.5,345.8 781.0,345.8 786.5,378.0 803.5,357.7 809.3,357.7 815.2,345.8 821.2,357.7 827.2,337.3 833.3,345.8 839.5,357.7 845.8,378.0 878.2,378.0 898.8,345.8 905.8,378.0"/>
<polyline fill="none" stroke="none" marker-start="url(#m50)" marker-mid="url(#m50)" marker-end="url(#m50)" points="88.7,79.8 89.0,83.0 89.2,85.9 89.7,87.6 90.0,91.1 90.3,92.2 90.5,93.8 90.8,96.4 91.1,97.8 91.3,99.8 91.6,103.6 91.8,106.8 92.1,110.1 92.4,108.2 92.6,110.7 92.9,111.2 93.2,114.9 93.4,114.5 93.7,116.5 93.9,117.0 94.2,117.9 94.5,116.1 94.7,114.7 95.0,113.6 95.5,112.9 95.8,108.4 96.0,107.4 96.3,106.4 96.6,105.6 96.8,102.1 97.1,102.7 97.4,101.2 97.6,96.4 97.9,94.9 98.1,91.5 98.7,88.6 99.2,86.1 99.5,83.5 99.7,83.0 100.5,81.1 100.8,81.5 101.3,80.2 101.6,82.0 101.8,79.6 102.4,81.7 102.6,80.5 102.9,87.4 103.1,89.5 103.7,92.8 103.9,91.8 104.2,92.5 104.5,94.4 104.7,95.8 105.0,99.1 105.2,100.4 105.5,101.5 105.8,103.2 106.3,106.0 106.8,108.0 107.1,106.4 107.6,108.3 107.9,109.4 108.1,111.1 108.4,109.1 108.7,111.0 108.9,107.5 109.2,108.4 109.4,104.0 109.7,105.6 110.0,103.7 110.2,102.9 110.5,102.5 110.8,101.5 111.3,97.2 111.8,91.6 112.1,93.5 112.3,91.1 112.6,88.9 112.9,87.8 113.1,84.7 113.4,85.4 113.9,83.8 114.2,81.0 114.4,81.6 114.7,85.2 115.0,82.8 115.2,84.0 115.7,82.9 116.0,84.5 116.5,84.1 116.8,90.1 117.1,89.0 117.6,91.2 117.9,93.2 118.4,96.4 118.6,97.3 118.9,101.6 119.2,100.6 119.4,104.0 119.7,102.7 120.2,105.8 121.3,107.2 121.8,109.3 122.1,108.5 122.3,110.1 122.6,104.5 123.1,104.8 123.4,104.9 123.6,103.9 123.9,104.6 124.2,101.7 124.4,100.2 124.7,98.3 125.2,95.7 125.5,96.0 125.7,91.5 126.0,92.8 126.3,85.5 126.5,89.8 126.8,89.2 127.0,87.1 127.3,86.8 127.6,84.4 127.8,83.7 128.1,86.0 128.4,85.9 128.6,86.0 128.9,84.4 129.1,84.1 129.4,85.0 129.7,86.8 129.9,87.4 130.2,87.5 130.7,90.8 131.0,90.3 131.3,93.8 131.5,94.5 132.0,98.9 132.3,101.6 132.8,102.1 133.1,104.7 133.6,103.5 133.9,107.0 134.1,105.4 134.7,110.1 134.9,107.6 135.5,107.9 135.7,108.9 136.5,109.2 136.8,107.3 137.0,105.3 137.3,106.2 137.6,101.9 137.8,103.7 138.3,102.5 138.6,97.0 139.1,94.7 139.4,97.0 139.7,91.9 140.2,92.6 140.4,91.2 140.7,91.9 141.0,89.2 141.2,87.0 141.8,87.0 142.0,89.1 142.3,91.2 142.8,85.6 143.1,86.5 143.3,89.8 143.6,87.8 143.9,89.0 144.1,91.0 144.4,93.1 144.7,92.4 144.9,95.2 145.2,96.9 145.4,96.2 145.7,100.1 146.0,99.4 146.5,104.0 147.3,109.0 147.5,108.1 148.1,109.7 148.3,110.7 148.6,108.0 148.9,111.4 149.1,110.4 149.4,109.3 149.6,107.6 149.9,111.9 150.2,111.0 150.4,110.0 150.7,108.1 151.0,105.4 151.2,106.0 151.5,104.5 151.7,101.3 152.0,102.8 152.3,100.9 152.5,97.0 152.8,97.5 153.1,98.4 153.6,93.5 153.8,95.8 154.1,94.5 154.4,91.2 154.6,89.6 154.9,88.5 155.2,92.0 155.4,89.4 155.7,94.9 155.9,91.2 156.2,85.7 156.5,88.0 156.7,89.7 157.0,92.6 157.3,93.8 157.5,91.1 158.1,95.8 158.3,94.6 158.8,99.1 159.1,100.0 159.4,97.3 159.6,103.4 159.9,101.7 160.2,105.5 160.4,106.9 160.7,108.3 161.2,108.7 161.7,111.3 162.0,110.2 162.3,112.1 162.5,112.7 162.8,110.8 163.3,113.9 163.6,111.1 163.8,113.7 164.1,112.0 164.4,107.4 164.9,108.5 165.1,106.4 165.4,104.4 165.7,102.6 165.9,101.6 166.2,104.2 166.5,102.0 166.7,100.7 167.0,103.5 167.2,100.0 167.5,97.3 168.0,97.2 168.6,96.0 168.8,94.7 169.3,92.5 169.9,96.3 170.1,93.2 170.4,95.0 170.7,94.4 170.9,97.2 171.2,95.6 171.5,98.9 171.7,97.2 172.0,99.9 172.2,101.3 172.5,104.1 172.8,105.7 173.0,103.2 173.3,107.4 173.6,108.7 174.3,109.4 174.6,113.2 174.9,115.4 175.1,114.3 175.4,112.1 176.2,114.1 176.4,114.9 177.0,115.4 177.2,114.5 177.8,115.0 178.0,112.5 178.8,111.4 179.1,108.9 179.3,109.5 179.6,106.4 179.9,108.8 180.1,105.3 180.4,107.5 180.7,104.1 181.2,103.0 181.5,103.1 181.7,100.8 182.0,99.3 182.3,102.4 182.6,99.4 183.1,97.9 183.4,98.3 183.7,100.7 184.2,101.2 184.5,99.7 185.1,103.0 185.4,104.4 186.0,103.1 186.3,105.5 186.6,108.6 186.9,107.9 187.7,115.4 188.0,112.7 188.3,113.6 188.6,117.1 189.0,119.5 189.3,115.4 189.6,118.6 189.9,120.7 190.2,120.1 190.5,117.3 190.8,114.9 191.1,116.5 191.4,118.8 191.8,114.9 192.4,113.6 192.7,112.7 193.0,110.3 193.4,110.4 193.7,109.0 194.0,109.4 194.3,109.0 194.7,107.4 195.0,103.4 195.3,106.4 195.7,104.9 196.0,105.0 196.4,102.8 196.7,102.9 197.0,100.5 197.7,102.5 198.1,103.5 198.4,105.9 198.8,109.0 199.1,107.5 199.5,108.9 199.8,112.1 200.2,111.4 200.5,111.7 200.9,116.1 201.3,114.7 201.6,116.8 202.0,119.5 202.4,119.6 203.1,121.7 203.5,122.1 203.8,120.2 204.2,121.4 205.0,122.5 205.4,120.0 205.7,117.9 206.1,120.8 206.9,118.3 207.3,116.0 207.7,116.1 208.5,109.5 208.9,111.8 209.3,111.6 209.7,114.2 210.1,107.8 210.5,111.5 210.9,107.1 211.3,108.6 211.7,109.8 212.2,111.4 212.6,110.6 213.0,114.3 213.8,117.2 214.3,118.5 214.7,117.1 215.1,119.4 215.6,124.1 216.0,125.2 216.9,125.9 217.3,125.4 217.8,127.1 218.2,128.1 218.6,124.7 219.1,125.7 219.6,123.3 220.0,124.8 220.5,119.7 220.9,120.3 221.4,119.0 221.9,117.5 222.3,119.5 222.8,114.8 223.3,116.0 223.7,116.5 224.2,113.9 224.7,111.8 225.2,116.3 225.7,113.4 226.2,120.7 226.6,117.9 227.1,120.9 227.6,121.2 228.1,119.8 228.6,123.9 229.1,129.3 229.6,126.0 230.2,131.5 231.2,132.9 231.7,131.5 232.2,131.8 232.7,128.5 233.3,129.9 233.8,128.3 234.9,125.1 235.4,127.4 235.9,127.0 236.5,122.1 237.0,121.7 237.6,122.5 238.1,118.8 238.7,124.5 239.3,121.5 239.8,122.5 240.4,128.7 241.0,127.4 241.5,128.9 242.1,132.3 242.7,134.1 243.3,135.5 243.8,138.2 244.4,139.9 245.0,136.7 245.6,137.7 246.2,137.5 246.8,136.2 247.4,136.4 248.0,134.8 248.6,131.8 249.3,131.2 249.9,129.3 250.5,127.6 251.1,126.4 251.8,129.1 252.4,129.2 253.0,131.0 253.7,131.6 254.3,132.1 255.0,135.1 255.6,134.3 256.3,139.0 256.9,142.1 257.6,142.6 258.3,140.5 258.9,144.0 259.6,143.1 260.3,143.2 261.0,142.5 261.7,138.9 262.4,139.9 263.8,137.0 264.5,136.0 265.2,134.5 265.9,135.5 266.6,134.7 267.3,137.9 268.1,138.4 268.8,140.3 269.5,142.0 270.3,146.4 271.0,148.0 271.8,150.8 272.5,149.3 273.3,148.9 274.8,145.0 275.6,146.1 276.3,145.7 277.1,140.2 277.9,139.2 278.7,141.2 279.5,140.9 280.3,142.1 281.1,143.1 281.9,145.1 282.7,147.4 283.6,147.5 284.4,150.4 285.2,156.0 286.1,152.3 286.9,154.9 287.8,151.0 288.6,150.8 289.5,149.9 290.3,148.3 291.2,150.8 292.1,145.8 293.0,144.5 293.9,147.2 294.8,148.4 295.7,152.9 296.6,152.0 297.5,160.2 298.4,159.8 299.3,160.8 300.2,157.9 301.2,158.1 302.1,157.2 303.1,154.1 304.0,153.8 305.0,157.1 306.0,149.8 306.9,150.8 307.9,153.3 308.9,150.0 309.9,160.3 310.9,158.0 311.9,158.1 312.9,159.7 313.9,164.5 315.0,160.7 316.0,163.8 317.1,157.3 318.1,156.9 319.2,156.0 320.2,163.0 321.3,154.5 322.4,156.2 323.5,170.3 324.6,173.9 325.7,162.7 326.8,166.8 327.9,170.6 329.0,177.8 330.1,166.8 331.3,161.7 332.4,164.7 333.6,163.9 334.8,165.6 335.9,161.6 337.1,166.6 338.3,169.8 339.5,170.0 340.7,176.4 341.9,175.3 343.2,177.4 344.4,168.5 345.6,165.4 346.9,163.7 348.2,167.7 349.4,170.4 350.7,184.0 352.0,175.7 353.3,179.6 354.6,180.4 355.9,173.2 357.3,185.5 358.6,178.3 360.0,182.3 361.3,171.3 362.7,178.6 364.1,177.8 365.4,192.9 366.9,187.1 368.3,183.3 369.7,185.9 371.1,185.6 372.6,180.8 374.0,184.6 375.5,186.0 377.0,184.4 378.5,184.6 380.0,186.0 381.5,196.0 383.0,191.7 384.5,198.1 386.1,192.8 387.6,186.2 389.2,183.1 390.8,193.5 392.4,194.3 394.0,196.0 395.6,195.5 397.3,197.5 398.9,202.6 400.6,201.7 402.2,193.2 403.9,192.1 405.6,209.0 407.4,206.5 409.1,203.2 410.8,211.6 412.6,205.6 414.4,207.0 416.1,201.1 418.0,201.1 419.8,211.5 421.6,213.9 423.5,216.2 425.3,207.7 427.2,204.2 429.1,204.7 431.0,208.5 432.9,210.4 434.9,226.3 436.8,213.9 438.8,219.7 440.8,216.3 442.8,214.8 444.8,213.3 446.9,221.7 448.9,223.3 451.0,224.9 453.1,218.1 455.2,217.7 457.4,213.6 459.5,223.8 461.7,223.8 463.9,226.5 466.1,234.1 468.3,232.0 470.6,239.9 472.9,234.7 475.1,245.7 477.5,250.2 479.8,236.7 482.1,242.7 484.5,237.4 486.9,234.4 489.3,241.0 491.8,238.4 494.2,251.2 496.7,232.3 499.2,237.0 501.7,240.3 504.3,251.2 506.9,246.6 509.5,256.7 512.1,256.1 514.8,263.4 517.4,265.2 520.1,274.5 522.9,263.4 525.6,252.4 528.4,258.8 531.2,272.2 534.0,275.8 536.9,277.1 539.8,272.2 542.7,268.0 545.6,261.8 548.6,267.0 551.6,274.5 554.6,260.3 557.7,278.4 560.8,281.4 563.9,269.0 567.1,273.3 570.2,279.9 573.5,284.7 576.7,294.9 580.0,278.4 583.3,284.7 586.6,290.4 590.0,306.8 593.4,297.4 596.9,300.2 600.4,297.4 603.9,327.2 607.4,347.5 611.0,315.3 614.7,306.8 618.3,315.3 622.0,294.9 625.8,320.6 629.6,335.6 633.4,327.2 637.3,315.3 641.2,327.2 645.1,315.3 649.1,335.6 661.4,347.5 665.5,320.6 669.7,335.6 674.0,327.2 678.3,320.6 682.7,347.5 687.1,335.6 691.5,367.9 696.0,335.6 719.3,347.5 724.1,347.5 738.9,367.9 754.2,367.9 764.7,367.9 775.5,367.9 786.5,367.9 821.2,367.9"/>
<polyline fill="none" stroke="none" marker-start="url(#m43)" marker-mid="url(#m43)" marker-end="url(#m43)" points="88.7,76.2 89.0,78.8 89.2,81.9 89.7,85.5 90.0,88.4 90.3,90.3 90.5,91.9 90.8,94.3 91.1,96.5 91.3,99.9 91.6,103.3 92.1,107.5 92.4,110.0 92.9,111.0 93.2,114.5 93.4,115.6 93.7,115.9 93.9,117.1 94.2,116.8 94.5,115.1 94.7,114.7 95.0,118.1 95.3,111.8 95.5,110.6 95.8,112.4 96.0,107.2 96.3,108.9 96.6,103.1 96.8,103.5 97.1,99.7 97.4,97.6 97.6,94.6 97.9,94.8 98.1,88.6 98.4,87.3 98.7,85.9 98.9,82.5 99.5,77.9 99.7,77.4 100.0,75.4 100.5,76.2 100.8,78.7 101.0,75.8 101.3,77.3 101.8,76.1 102.1,78.4 102.4,77.9 102.6,82.2 102.9,83.3 103.1,83.4 103.4,88.7 104.2,94.0 104.5,92.8 104.7,96.7 105.0,96.1 105.2,99.9 105.5,98.6 105.8,104.6 106.0,101.9 106.3,106.9 106.8,106.8 107.1,110.0 107.6,109.1 108.4,107.0 108.7,108.3 108.9,106.2 109.2,107.5 109.4,105.8 109.7,103.1 110.0,100.7 110.5,99.6 110.8,96.9 111.0,95.0 111.3,95.2 111.5,88.0 111.8,90.8 112.1,90.3 112.3,86.8 112.6,84.6 112.9,83.7 113.1,83.1 113.4,81.1 113.6,79.3 113.9,80.0 114.4,77.8 115.0,79.3 115.2,74.7 115.5,77.1 115.7,76.8 116.0,78.6 116.3,83.1 116.5,79.5 116.8,86.0 117.6,89.5 118.1,91.0 118.4,94.2 118.6,93.5 118.9,99.8 119.2,98.7 119.4,100.0 120.0,102.8 120.2,107.5 120.5,105.5 120.7,107.8 121.3,107.8 121.5,107.1 121.8,109.5 122.1,108.1 122.3,106.9 122.6,106.6 123.1,108.3 123.4,104.4 123.6,102.2 123.9,103.0 124.2,100.3 124.7,96.6 124.9,95.4 125.5,91.7 125.7,90.1 126.0,91.0 126.3,87.9 126.5,86.6 127.0,82.2 127.3,83.7 127.6,81.8 127.8,84.3 128.1,81.2 128.4,82.6 128.6,80.2 128.9,81.4 129.4,79.8 129.7,85.5 129.9,83.9 130.2,85.4 130.5,87.4 130.7,89.3 131.0,89.9 131.3,90.6 131.5,92.3 131.8,93.5 132.0,96.9 132.6,99.5 132.8,100.7 133.1,102.5 133.4,104.5 133.6,105.5 133.9,109.1 134.1,112.1 134.4,112.0 134.7,110.3 134.9,111.5 135.2,112.6 135.5,110.1 135.7,110.8 136.0,109.2 136.2,112.6 136.5,111.0 136.8,108.8 137.0,107.0 137.3,105.0 137.8,102.0 138.1,100.8 138.3,100.7 138.6,97.2 139.1,95.1 139.7,93.6 139.9,91.9 140.2,89.0 140.4,89.8 141.0,86.2 141.2,81.4 141.5,84.3 141.8,85.5 142.0,84.3 142.3,83.0 142.8,83.8 143.1,82.4 143.3,84.6 143.6,88.2 143.9,86.3 144.1,90.2 144.4,89.0 144.7,92.1 144.9,97.0 145.2,98.7 145.4,98.0 145.7,99.3 146.0,99.7 146.2,102.3 146.5,102.8 146.8,105.5 147.0,108.1 147.3,111.2 147.5,108.9 147.8,110.6 148.1,111.7 148.3,115.1 148.6,112.9 148.9,117.7 149.1,114.3 149.4,115.0 149.9,118.6 150.2,110.7 150.4,114.4 150.7,113.0 151.0,111.2 151.2,110.2 151.5,110.6 151.7,105.2 152.3,102.6 152.5,103.5 152.8,98.9 153.1,97.6 153.3,93.9 153.6,95.5 153.8,95.9 154.1,91.5 154.4,89.8 154.6,87.6 155.2,89.0 155.4,87.1 155.7,88.6 155.9,86.1 156.2,83.0 156.5,89.0 156.7,90.2 157.0,90.9 157.3,90.3 157.8,92.7 158.1,96.6 158.3,95.1 158.8,96.8 159.1,100.0 159.4,105.1 159.6,103.2 159.9,107.0 160.2,110.4 160.4,110.1 160.7,111.4 160.9,112.6 161.2,115.7 161.7,116.5 162.0,116.9 162.5,120.3 162.8,117.0 163.3,117.8 163.6,118.0 163.8,121.6 164.4,115.7 164.6,114.0 164.9,113.5 165.1,111.1 165.4,110.5 165.7,109.2 165.9,105.9 166.2,99.7 166.5,104.6 166.7,102.8 167.0,100.0 167.2,100.5 167.5,96.6 168.0,92.7 168.3,96.2 168.6,93.6 168.8,94.6 169.1,92.1 169.3,93.6 169.9,94.0 170.7,95.8 170.9,94.2 171.2,96.6 171.5,97.8 171.7,99.4 172.0,100.3 172.5,104.9 173.0,106.6 173.3,107.9 173.6,111.1 173.8,115.4 174.1,112.5 174.3,114.0 174.6,114.9 174.9,116.7 175.1,120.3 175.4,117.5 176.2,118.2 176.4,119.7 176.7,122.8 177.0,121.2 177.2,118.8 177.8,120.0 178.0,121.1 178.5,117.4 178.8,115.4 179.1,112.4 179.3,111.3 179.6,114.3 179.9,110.9 180.1,110.1 180.4,108.3 180.7,105.0 180.9,104.6 181.5,99.8 181.7,102.2 182.0,101.9 182.3,100.2 182.6,96.0 182.8,97.3 183.1,99.3 183.4,97.9 183.7,100.0 184.0,97.5 184.2,99.1 184.5,104.1 184.8,101.2 185.1,100.9 185.4,106.3 185.7,105.5 186.0,107.8 186.6,112.7 186.9,110.8 187.1,114.4 187.4,113.4 187.7,116.0 188.0,119.3 188.3,122.0 188.6,122.5 189.0,120.5 189.3,121.9 189.6,123.6 189.9,124.0 190.2,125.1 190.5,125.9 190.8,125.1 191.4,124.7 191.8,122.2 192.1,118.2 192.4,123.1 192.7,117.9 193.0,117.3 193.4,117.6 193.7,113.6 194.0,109.1 194.3,113.2 195.0,110.1 195.3,105.2 196.0,104.9 196.7,102.8 197.4,106.0 197.7,107.4 198.1,106.1 198.4,105.4 198.8,108.3 199.1,106.8 199.5,111.1 199.8,113.5 200.2,114.2 200.5,118.7 200.9,120.0 201.3,121.0 201.6,123.1 202.0,121.1 202.4,123.6 202.7,125.8 203.1,127.8 203.5,126.1 204.2,128.7 204.6,130.1 205.0,126.8 205.7,126.1 206.1,124.1 206.5,121.0 206.9,121.3 207.3,119.5 207.7,118.5 208.1,117.2 208.5,116.1 208.9,112.0 209.3,111.9 210.1,111.0 210.5,109.7 211.3,110.7 211.7,111.3 212.2,111.9 212.6,115.4 213.0,118.1 213.4,114.3 213.8,118.5 214.7,125.1 215.6,124.9 216.0,126.1 216.4,129.3 216.9,129.1 217.3,131.1 217.8,133.3 218.6,133.5 219.1,131.2 219.6,127.3 220.0,128.1 220.5,122.8 221.4,121.0 221.9,122.1 222.3,119.3 222.8,116.5 223.3,118.0 223.7,114.5 224.2,113.8 224.7,114.8 225.2,118.5 225.7,116.6 226.2,120.3 226.6,117.5 227.1,122.7 227.6,124.5 228.1,125.5 228.6,128.4 229.1,128.1 229.6,130.9 230.2,129.9 230.7,136.6 231.2,134.8 232.2,135.3 232.7,136.4 233.3,135.5 233.8,131.6 234.3,132.0 234.9,132.3 235.4,129.9 235.9,126.1 236.5,124.4 237.6,123.0 238.1,124.0 239.3,127.8 239.8,128.4 240.4,127.6 241.0,130.5 241.5,132.1 242.1,133.5 242.7,141.3 243.3,138.0 243.8,139.3 244.4,141.3 245.6,144.0 246.2,140.5 247.4,139.0 248.0,136.9 248.6,134.5 249.3,134.2 249.9,133.4 250.5,131.7 251.1,129.9 251.8,130.4 252.4,131.8 253.0,132.7 253.7,133.8 254.3,137.2 255.0,139.0 255.6,139.8 256.3,141.9 256.9,144.6 257.6,145.9 258.3,146.0 258.9,145.2 259.6,147.3 260.3,145.9 261.0,145.9 261.7,145.4 262.4,143.5 263.1,142.5 263.8,138.1 264.5,140.6 265.2,139.2 265.9,140.0 266.6,139.5 267.3,142.9 268.1,145.4 268.8,148.8 269.5,146.3 270.3,149.1 271.0,153.9 271.8,154.3 272.5,155.9 273.3,156.3 274.0,155.5 274.8,152.5 275.6,149.3 276.3,148.6 277.1,149.4 277.9,147.4 278.7,148.4 279.5,147.8 281.1,148.6 281.9,151.1 282.7,155.9 283.6,156.2 284.4,160.3 285.2,163.4 286.1,158.9 286.9,161.4 287.8,160.8 288.6,157.8 289.5,157.1 290.3,155.6 291.2,155.5 292.1,153.8 293.0,153.1 293.9,153.6 294.8,156.0 295.7,157.1 296.6,159.5 297.5,163.7 298.4,171.8 299.3,167.2 300.2,164.6 301.2,165.8 302.1,161.6 303.1,167.8 304.0,159.4 305.0,161.2 306.0,156.9 306.9,162.0 307.9,161.8 308.9,162.2 309.9,165.7 310.9,166.1 311.9,167.6 312.9,177.9 313.9,169.6 315.0,171.1 316.0,166.9 317.1,164.4 318.1,163.1 319.2,161.9 320.2,166.6 321.3,170.0 322.4,164.2 323.5,168.0 324.6,169.3 325.7,171.6 326.8,178.4 327.9,169.5 329.0,171.6 330.1,173.3 331.3,167.8 332.4,170.5 333.6,171.9 334.8,175.6 335.9,171.0 337.1,173.7 338.3,175.2 339.5,177.5 340.7,174.4 341.9,185.4 343.2,174.8 344.4,185.5 345.6,175.1 346.9,177.7 348.2,177.1 349.4,170.7 350.7,180.5 352.0,178.6 353.3,184.4 354.6,185.2 355.9,183.1 357.3,186.7 358.6,183.0 360.0,188.6 361.3,181.1 362.7,182.1 364.1,183.6 365.4,193.4 366.9,191.6 368.3,195.3 369.7,193.7 371.1,188.8 372.6,196.5 374.0,186.2 375.5,193.3 377.0,187.4 378.5,192.7 380.0,201.1 381.5,200.8 383.0,216.3 384.5,199.9 386.1,202.0 387.6,199.6 389.2,203.3 390.8,207.3 392.4,205.9 394.0,206.9 395.6,214.3 397.3,207.7 398.9,205.7 400.6,209.7 402.2,214.0 403.9,204.5 405.6,211.1 407.4,212.0 409.1,218.7 410.8,221.6 412.6,211.2 414.4,222.4 416.1,208.3 418.0,212.0 419.8,224.5 421.6,220.0 423.5,233.0 425.3,220.6 427.2,226.2 429.1,217.0 431.0,218.7 432.9,215.4 434.9,224.7 436.8,237.0 438.8,249.8 440.8,235.1 442.8,223.6 444.8,226.7 446.9,231.0 448.9,238.4 451.0,246.4 453.1,242.1 455.2,246.8 457.4,237.4 459.5,235.1 461.7,242.9 463.9,246.4 466.1,239.5 468.3,259.5 470.6,238.0 472.9,249.3 475.1,246.4 477.5,253.1 479.8,250.3 482.1,258.8 484.5,254.2 486.9,245.9 489.3,255.5 491.8,256.1 494.2,252.5 496.7,260.9 499.2,268.6 501.7,253.6 504.3,272.8 506.9,269.6 509.5,266.7 512.1,267.7 514.8,264.1 517.4,264.1 520.1,272.8 522.9,287.1 525.6,283.7 528.4,274.0 531.2,270.7 534.0,285.3 536.9,283.7 539.8,274.0 542.7,276.5 545.6,274.0 548.6,272.8 551.6,274.0 554.6,287.1 557.7,289.0 560.8,293.2 563.9,304.0 567.1,280.6 570.2,279.1 573.5,291.0 576.7,315.9 580.0,295.6 583.3,289.0 586.6,300.9 590.0,315.9 593.4,311.4 596.9,300.9 600.4,311.4 603.9,311.4 607.4,304.0 611.0,298.1 614.7,315.9 618.3,321.3 622.0,304.0 625.8,336.3 629.6,321.3 633.4,321.3 637.3,327.8 641.2,348.2 645.1,327.8 649.1,368.6 653.2,336.3 657.2,348.2 661.4,327.8 665.5,348.2 674.0,368.6 678.3,368.6 682.7,368.6 687.1,368.6 691.5,327.8 700.6,348.2 709.8,327.8 714.6,368.6 719.3,368.6 724.1,368.6 729.0,348.2 744.0,368.6 781.0,368.6"/>
<polyline fill="none" stroke="none" marker-start="url(#m40)" marker-mid="url(#m40)" marker-end="url(#m40)" points="88.7,68.9 89.0,74.8 89.2,79.2 89.5,78.3 89.7,78.9 90.0,83.3 90.3,87.1 90.5,88.5 90.8,93.0 91.1,95.3 91.3,100.3 91.6,100.6 91.8,105.6 92.1,107.8 92.4,106.9 92.6,111.4 92.9,111.0 93.2,116.8 93.4,116.2 94.2,115.6 94.5,116.3 95.0,115.4 95.3,112.8 95.5,111.3 95.8,110.1 96.0,107.0 96.3,106.0 96.6,103.7 96.8,101.9 97.1,98.5 97.4,94.3 97.9,88.3 98.1,86.6 98.4,81.9 98.7,81.8 98.9,77.9 99.2,77.4 99.5,74.5 99.7,71.5 100.0,68.0 100.5,68.2 100.8,69.7 101.0,67.0 101.3,69.1 101.6,66.9 101.8,68.0 102.4,74.8 102.9,75.7 103.1,76.9 103.4,78.9 103.7,81.0 103.9,82.2 104.2,84.0 104.5,88.2 104.7,91.4 105.0,92.1 105.2,93.9 105.5,96.0 105.8,99.7 106.0,98.8 106.3,100.6 106.6,101.8 106.8,104.9 107.1,102.9 107.3,104.8 107.6,104.7 107.9,104.9 108.1,106.7 108.7,103.1 109.2,101.7 109.4,102.3 109.7,101.3 110.0,97.8 110.2,99.3 110.5,92.3 111.0,87.2 111.3,88.7 111.5,85.8 112.1,83.5 112.3,79.3 112.6,77.0 112.9,78.2 113.1,74.0 113.4,74.3 113.9,71.3 114.2,69.4 115.0,70.3 115.2,72.0 115.5,70.8 115.7,73.4 116.3,77.7 116.8,80.5 117.1,77.9 117.3,83.0 117.6,83.8 117.9,85.8 118.1,88.6 118.4,90.9 118.9,92.7 119.2,95.2 119.4,97.8 119.7,100.7 120.0,101.5 120.2,102.2 120.5,101.6 120.7,104.6 121.0,106.9 121.3,107.5 122.1,104.5 122.3,105.7 123.1,105.7 123.4,98.9 123.6,98.1 123.9,98.8 124.2,96.9 124.7,92.7 124.9,88.5 125.2,91.2 125.5,88.7 125.7,86.3 126.3,84.4 126.5,82.3 126.8,82.4 127.0,79.2 127.3,80.7 127.6,78.2 127.8,77.6 128.1,76.6 128.4,77.7 128.6,79.0 129.1,77.9 129.4,76.6 129.7,79.5 130.2,81.9 130.5,83.4 130.7,85.6 131.0,89.2 131.3,91.0 131.5,93.7 132.0,92.7 132.3,99.0 132.6,97.7 132.8,98.4 133.1,102.8 133.4,103.6 133.6,106.7 133.9,108.9 134.1,110.3 134.7,110.3 134.9,111.4 135.2,113.2 135.5,110.8 135.7,112.0 136.0,113.4 136.5,108.5 136.8,107.7 137.0,110.0 137.3,106.3 137.6,105.4 137.8,102.1 138.1,99.2 138.3,104.1 138.6,97.1 138.9,98.3 139.1,94.2 139.4,90.3 139.7,88.6 140.2,84.7 140.4,86.3 141.0,85.0 141.2,83.0 141.8,79.9 142.0,81.7 142.3,79.1 142.8,79.7 143.1,80.8 143.3,83.0 143.6,83.1 144.1,84.4 144.4,88.9 144.7,90.5 145.2,90.1 145.4,95.4 145.7,100.3 146.0,102.0 146.2,103.3 146.5,104.8 146.8,109.1 147.0,111.9 147.3,110.3 147.5,112.7 147.8,113.5 148.1,117.0 148.6,114.8 149.1,118.8 149.4,115.9 149.6,117.2 149.9,114.8 150.2,114.7 150.7,113.6 151.0,110.2 151.2,110.8 151.5,107.7 151.7,104.6 152.0,105.5 152.3,103.6 152.5,100.8 152.8,100.9 153.1,96.2 153.6,93.9 154.1,88.2 154.4,86.5 154.6,87.2 154.9,85.5 155.4,83.5 155.7,81.9 155.9,81.2 156.2,84.2 156.5,84.1 156.7,87.3 157.0,86.0 157.3,86.6 157.5,91.3 157.8,91.7 158.1,95.0 158.6,97.4 158.8,100.9 159.1,103.5 159.6,107.6 159.9,106.1 160.2,110.3 160.4,112.5 160.7,112.7 160.9,114.3 161.2,117.7 161.5,116.5 161.7,118.1 162.0,118.8 162.5,121.2 162.8,120.8 163.0,123.3 163.6,121.6 163.8,120.9 164.1,118.8 164.4,117.4 164.9,115.1 165.1,114.0 165.4,114.4 165.7,107.5 165.9,108.8 166.2,106.0 166.5,106.8 166.7,103.8 167.0,100.5 167.2,99.9 167.5,99.2 167.8,96.9 168.0,94.8 168.8,90.5 169.1,92.0 169.3,88.7 169.9,94.0 170.4,94.2 170.7,92.8 170.9,97.0 171.2,93.7 171.5,98.2 172.0,99.1 172.2,103.8 172.5,105.1 173.0,106.3 173.3,108.7 173.6,112.3 174.1,115.5 174.3,116.3 174.6,120.4 174.9,117.7 175.1,121.8 175.4,123.4 176.2,123.5 176.4,125.8 176.7,127.8 177.0,121.5 177.2,125.4 177.5,122.0 177.8,124.2 178.3,119.5 178.5,121.8 178.8,122.6 179.1,115.5 179.3,114.3 179.6,112.0 180.4,110.1 180.7,107.1 180.9,105.1 181.2,104.5 181.5,102.3 181.7,99.7 182.3,98.2 182.6,99.8 183.4,97.9 183.7,99.8 184.0,98.8 184.2,101.7 184.5,100.4 185.1,103.3 185.4,105.2 185.7,107.9 186.0,109.3 186.3,111.6 186.6,111.0 186.9,112.9 187.1,115.4 187.4,118.4 187.7,119.3 188.0,122.0 188.3,126.4 188.6,126.6 189.0,128.5 189.3,127.7 189.6,129.4 189.9,128.4 190.2,131.4 190.5,128.8 190.8,128.0 191.4,129.1 191.8,128.0 192.1,125.1 192.4,123.9 192.7,126.1 193.0,119.1 193.4,118.9 193.7,116.7 194.0,116.5 194.3,112.2 194.7,109.5 195.0,111.8 195.3,109.0 195.7,108.2 196.0,107.6 196.4,107.5 196.7,104.0 197.0,108.9 197.4,106.2 197.7,107.3 198.1,110.2 198.4,108.8 198.8,112.7 199.1,110.9 199.5,112.9 199.8,115.0 200.2,115.8 200.5,121.8 200.9,122.9 201.3,124.1 201.6,123.6 202.0,127.4 202.4,129.6 202.7,130.4 203.1,131.2 203.5,134.3 204.2,132.0 204.6,133.7 205.0,133.7 205.7,129.4 206.5,128.4 206.9,127.3 207.3,125.2 207.7,120.6 208.1,122.1 208.5,117.1 208.9,116.5 209.3,115.1 210.1,116.1 210.5,109.9 210.9,112.2 211.3,114.6 211.7,115.1 212.2,116.3 212.6,122.1 213.0,118.7 213.4,122.4 213.8,124.0 214.3,129.0 214.7,129.2 215.1,131.6 215.6,128.5 216.0,133.9 216.4,134.7 216.9,134.0 217.3,136.0 217.8,135.1 218.2,134.5 218.6,135.0 219.1,134.3 219.6,135.0 220.0,132.7 220.5,132.7 220.9,126.1 221.4,126.0 221.9,122.3 222.8,120.1 223.3,122.9 223.7,122.8 224.2,120.0 224.7,120.3 225.2,119.5 225.7,123.8 226.2,125.5 226.6,125.7 227.6,129.0 228.1,131.7 228.6,134.4 229.1,135.2 230.2,137.9 230.7,141.3 231.2,140.0 231.7,137.5 232.2,140.0 232.7,137.0 233.3,139.7 233.8,138.0 234.3,132.7 234.9,136.3 235.4,134.0 235.9,132.6 236.5,130.4 237.6,127.3 238.1,128.4 238.7,129.3 239.3,131.0 240.4,137.4 241.0,135.8 241.5,140.5 242.1,140.8 242.7,139.8 243.3,142.4 243.8,146.6 244.4,145.4 245.6,144.7 246.2,145.8 247.4,143.0 248.0,144.4 248.6,141.0 249.3,140.2 249.9,138.9 250.5,135.9 251.1,137.9 251.8,137.7 252.4,137.2 253.0,141.0 253.7,141.6 254.3,141.0 255.0,144.0 255.6,146.0 256.3,146.2 256.9,151.4 257.6,151.1 258.3,152.6 258.9,152.7 259.6,154.0 260.3,154.7 261.0,152.1 261.7,152.5 262.4,150.5 263.8,147.5 264.5,147.9 265.2,146.2 265.9,146.7 266.6,149.4 267.3,151.0 268.1,152.2 268.8,153.0 269.5,154.6 270.3,159.6 271.0,157.9 271.8,160.7 272.5,160.3 273.3,161.6 274.8,160.0 275.6,161.1 276.3,157.9 277.1,157.0 277.9,157.7 278.7,155.8 279.5,158.6 281.1,159.5 281.9,163.2 282.7,165.8 283.6,164.5 284.4,167.7 285.2,168.2 286.1,171.5 286.9,170.4 287.8,176.9 288.6,171.9 289.5,167.8 290.3,167.5 291.2,170.0 292.1,165.1 293.0,162.1 293.9,165.2 294.8,168.9 295.7,170.4 296.6,171.0 297.5,173.2 298.4,180.6 299.3,179.9 300.2,179.1 301.2,173.3 302.1,177.8 303.1,177.0 304.0,173.6 305.0,169.9 306.0,180.5 306.9,174.4 307.9,171.9 308.9,179.8 309.9,178.8 310.9,177.7 311.9,185.3 312.9,181.6 313.9,185.0 315.0,182.1 316.0,181.7 317.1,181.0 318.1,183.0 319.2,186.6 320.2,179.4 321.3,174.9 322.4,179.8 323.5,187.8 324.6,186.1 325.7,189.7 326.8,196.8 327.9,186.4 329.0,190.8 330.1,183.3 331.3,184.3 332.4,185.3 333.6,190.3 334.8,181.2 335.9,193.8 337.1,187.5 338.3,189.4 339.5,201.4 340.7,196.1 341.9,192.3 343.2,200.3 344.4,191.0 345.6,194.6 346.9,192.9 348.2,197.7 349.4,190.9 350.7,197.2 352.0,203.3 353.3,197.6 354.6,214.6 355.9,200.0 357.3,202.8 358.6,201.0 360.0,197.6 361.3,199.4 362.7,203.4 364.1,205.1 365.4,203.4 366.9,206.4 368.3,210.0 369.7,211.9 371.1,208.0 372.6,211.6 374.0,205.8 375.5,207.8 377.0,210.7 378.5,214.0 380.0,211.6 381.5,216.4 383.0,227.1 384.5,223.8 386.1,213.7 387.6,223.6 389.2,214.0 390.8,231.5 392.4,218.4 394.0,221.1 395.6,224.3 397.3,228.9 398.9,222.8 400.6,223.3 402.2,221.2 403.9,229.2 405.6,228.2 407.4,225.8 409.1,235.5 410.8,230.4 412.6,229.8 414.4,230.2 416.1,238.6 418.0,227.1 419.8,237.3 421.6,239.6 423.5,245.9 425.3,236.4 427.2,243.7 429.1,239.3 431.0,242.0 432.9,241.2 434.9,249.2 436.8,248.5 438.8,258.9 440.8,247.5 442.8,241.7 444.8,249.2 446.9,258.9 448.9,258.4 451.0,266.2 453.1,257.5 455.2,258.4 457.4,249.2 459.5,255.6 461.7,269.6 463.9,266.2 466.1,269.6 468.3,258.4 470.6,270.3 472.9,266.9 475.1,277.8 477.5,274.3 479.8,276.9 482.1,273.4 484.5,268.9 486.9,283.0 489.3,284.1 491.8,286.6 494.2,299.2 496.7,284.1 499.2,276.9 501.7,272.6 504.3,279.8 506.9,276.9 509.5,283.0 512.1,284.1 514.8,289.3 517.4,297.3 520.1,321.5 522.9,311.1 525.6,314.2 528.4,301.2 531.2,303.4 534.0,317.6 536.9,305.7 539.8,314.2 542.7,338.0 545.6,321.5 548.6,321.5 551.6,314.2 554.6,305.7 557.7,326.1 560.8,338.0 563.9,331.4 567.1,311.1 570.2,326.1 573.5,331.4 576.7,346.4 580.0,331.4 583.3,331.4 586.6,317.6 590.0,378.7 593.4,321.5 596.9,331.4 600.4,321.5 603.9,326.1 607.4,317.6 611.0,321.5 614.7,331.4 618.3,326.1 622.0,358.4 625.8,358.4 629.6,338.0 633.4,358.4 641.2,346.4 649.1,378.7 653.2,346.4 657.2,378.7 665.5,378.7"/>
<polyline fill="none" stroke="none" marker-start="url(#m32)" marker-mid="url(#m32)" marker-end="url(#m32)" points="88.7,53.7 89.0,55.4 89.2,59.7 89.5,64.7 89.7,65.5 90.3,75.9 90.5,77.4 90.8,80.0 91.1,83.8 91.6,86.5 91.8,90.9 92.1,96.1 92.4,99.7 92.6,102.3 93.2,98.4 93.4,103.8 93.7,104.6 93.9,107.2 94.2,108.1 94.5,108.9 94.7,106.6 95.0,105.1 95.3,101.3 95.5,102.3 96.0,102.8 96.3,92.6 96.8,93.7 97.1,87.4 97.4,83.7 97.6,80.3 97.9,79.4 98.1,74.4 98.4,73.5 98.7,73.2 98.9,69.0 99.2,65.3 99.5,65.5 99.7,62.8 100.0,63.6 100.5,64.9 100.8,60.6 101.0,59.8 101.3,59.7 101.8,69.2 102.1,65.1 102.4,60.9 102.6,71.3 102.9,67.1 103.1,70.5 103.4,76.9 103.7,79.5 103.9,75.6 104.2,83.8 104.5,78.9 104.7,85.5 105.0,86.6 105.2,94.5 105.8,95.0 106.0,94.6 106.3,103.9 106.6,102.5 106.8,102.7 107.1,104.7 107.3,99.9 107.6,110.7 107.9,105.3 108.1,112.1 108.7,109.5 108.9,103.9 109.2,102.2 109.4,97.6 109.7,100.4 110.0,99.3 110.5,99.7 110.8,94.1 111.0,90.7 111.3,88.1 111.5,84.2 111.8,85.7 112.1,85.1 112.3,77.4 112.6,81.8 112.9,79.1 113.1,73.6 113.4,70.1 113.6,67.7 113.9,67.2 114.4,69.8 114.7,68.0 115.0,70.4 115.2,73.5 115.5,71.5 115.7,68.5 116.0,71.2 116.3,73.6 116.5,74.6 116.8,73.4 117.1,76.4 117.3,83.5 117.6,81.6 117.9,84.1 118.1,89.2 118.4,91.7 118.6,90.4 118.9,98.8 119.2,96.0 119.4,100.8 120.0,106.9 120.2,107.1 120.5,108.5 120.7,109.8 121.0,112.3 121.3,109.9 121.5,112.0 122.1,108.6 122.3,113.9 122.6,108.3 122.8,110.9 123.1,106.3 123.4,104.1 123.6,103.1 123.9,101.9 124.2,99.7 124.4,95.1 124.7,98.1 124.9,96.0 125.2,90.2 125.5,92.7 125.7,85.5 126.0,84.0 126.5,81.7 126.8,78.3 127.0,77.6 127.3,82.4 127.6,74.5 127.8,73.6 128.1,76.3 128.4,71.3 128.6,75.0 128.9,73.3 129.4,74.5 129.7,73.4 129.9,75.5 130.2,83.7 130.5,85.4 130.7,81.1 131.0,79.8 131.3,84.0 131.5,88.5 131.8,94.6 132.0,94.7 132.3,97.8 132.6,95.1 132.8,102.4 133.1,105.2 133.4,106.2 133.6,109.8 133.9,119.1 134.1,107.5 134.4,112.0 134.7,114.1 134.9,113.2 135.5,116.3 135.7,115.5 136.0,114.6 136.5,113.4 136.8,115.0 137.0,112.4 137.3,105.0 137.6,104.5 138.1,99.9 138.3,99.0 138.6,100.2 138.9,94.6 139.1,94.9 139.7,91.4 139.9,88.9 140.2,87.9 140.4,86.0 140.7,84.1 141.0,79.7 141.2,78.7 141.5,77.5 141.8,80.2 142.0,77.7 142.3,78.2 142.5,82.7 142.8,79.7 143.1,78.4 143.3,87.1 143.6,85.0 143.9,82.4 144.1,83.8 144.4,86.9 144.7,87.6 144.9,92.7 145.2,95.1 145.4,95.9 145.7,97.3 146.0,100.1 146.2,104.5 146.5,103.6 146.8,107.8 147.0,113.1 147.3,113.0 147.5,111.3 147.8,120.0 148.1,116.8 148.3,117.9 148.6,122.3 148.9,113.6 149.1,113.7 149.4,122.0 149.6,116.3 149.9,119.9 150.4,116.4 150.7,118.2 151.0,113.8 151.5,111.9 151.7,111.6 152.0,109.0 152.3,103.6 152.5,102.2 152.8,97.4 153.3,98.7 153.6,96.8 153.8,92.4 154.1,91.7 154.4,92.4 154.6,88.3 155.4,87.4 155.7,84.2 155.9,81.5 156.2,79.3 156.5,84.2 156.7,85.9 157.0,91.2 157.3,93.5 157.5,85.3 157.8,98.7 158.1,94.4 158.3,96.5 158.6,98.2 159.1,106.5 159.4,108.7 159.6,109.6 159.9,110.8 160.2,107.6 160.4,118.8 160.7,116.6 160.9,115.2 161.2,121.7 161.5,121.0 161.7,119.4 162.0,123.3 162.3,127.9 162.5,122.5 162.8,125.1 163.0,127.8 163.6,124.9 164.1,131.7 164.4,124.4 164.6,125.0 164.9,117.0 165.1,120.0 165.4,117.3 165.7,117.5 165.9,109.4 166.2,110.9 166.5,105.8 166.7,104.8 167.0,102.7 167.2,98.3 167.5,97.1 168.0,101.3 168.3,94.4 168.6,95.2 168.8,94.7 169.1,90.5 169.9,92.7 170.4,96.3 170.7,95.3 171.2,94.1 171.5,99.8 171.7,102.9 172.0,108.0 172.2,104.7 172.5,111.2 172.8,112.4 173.3,117.2 173.6,123.6 173.8,121.4 174.1,122.7 174.3,117.9 174.6,128.5 174.9,124.6 175.1,130.5 175.4,132.4 175.7,128.3 176.2,137.5 176.4,134.5 176.7,136.3 177.0,131.8 177.2,133.0 177.5,132.1 177.8,129.4 178.0,131.6 178.3,132.2 178.5,126.2 178.8,121.2 179.1,123.6 179.3,118.6 179.6,117.2 179.9,120.4 180.4,115.0 180.7,109.7 180.9,106.9 181.2,111.5 181.5,112.1 181.7,108.0 182.3,104.9 182.6,102.1 182.8,100.5 183.1,106.9 183.4,103.4 183.7,100.1 184.0,102.2 184.2,105.3 184.5,101.4 184.8,108.9 185.1,107.4 185.7,108.8 186.0,115.2 186.3,118.1 186.6,120.1 186.9,119.2 187.1,127.0 187.4,125.7 187.7,127.3 188.0,133.2 188.3,134.5 188.6,133.7 189.0,134.9 189.3,136.3 189.6,143.2 189.9,139.5 190.2,141.5 190.5,141.5 190.8,136.1 191.1,142.5 191.4,137.2 191.8,134.8 192.1,142.2 192.4,136.4 192.7,131.5 193.0,130.7 193.4,131.7 193.7,130.2 194.0,127.1 194.3,121.7 194.7,120.9 195.0,116.7 195.7,117.8 196.0,110.3 196.4,116.3 196.7,111.7 197.0,115.2 197.4,109.8 197.7,111.6 198.1,113.7 198.8,123.9 199.1,120.0 199.5,124.1 200.2,131.6 200.5,128.8 200.9,135.9 201.3,135.0 201.6,142.8 202.0,141.6 202.4,144.2 202.7,152.1 203.1,145.4 203.5,151.6 203.8,146.5 204.2,149.9 204.6,149.2 205.0,145.8 205.4,144.7 205.7,139.8 206.1,145.3 206.5,141.0 206.9,141.4 207.3,136.9 207.7,136.3 208.1,129.3 208.5,131.1 208.9,123.3 209.3,123.8 209.7,120.0 210.5,122.2 210.9,120.4 211.3,124.1 211.7,127.4 212.2,130.5 213.0,132.2 213.4,128.3 213.8,135.9 214.3,140.6 214.7,150.3 215.1,145.5 215.6,146.1 216.0,158.0 216.4,159.3 216.9,151.7 217.3,160.3 217.8,157.5 218.2,155.5 218.6,157.6 219.1,155.5 219.6,150.8 220.5,143.3 220.9,147.2 221.4,144.0 221.9,134.4 222.8,137.7 223.3,133.0 223.7,131.4 224.2,127.4 224.7,132.4 225.2,131.3 225.7,136.3 226.2,134.9 226.6,137.5 227.1,144.0 227.6,141.7 228.1,148.0 228.6,157.3 229.1,154.2 229.6,155.5 230.2,153.4 230.7,163.0 231.2,160.1 231.7,158.3 232.2,160.2 232.7,159.1 233.3,154.3 233.8,157.1 234.3,150.2 234.9,148.0 235.4,153.3 235.9,144.7 236.5,141.1 237.0,142.1 237.6,145.9 238.1,142.5 238.7,150.2 239.3,144.8 239.8,144.0 240.4,144.8 241.0,145.7 241.5,156.4 242.1,156.3 242.7,162.0 243.3,165.7 243.8,162.1 244.4,170.2 245.0,168.5 245.6,166.7 246.2,169.6 246.8,160.1 247.4,160.3 248.0,160.6 248.6,159.4 249.3,155.5 249.9,153.8 250.5,156.6 251.1,152.1 251.8,145.7 252.4,156.6 253.0,152.2 253.7,161.1 254.3,158.6 255.0,169.3 255.6,166.2 256.3,164.2 256.9,173.9 257.6,170.4 258.3,168.0 258.9,171.4 259.6,174.2 260.3,173.3 261.0,170.7 261.7,172.0 262.4,165.5 263.1,169.0 263.8,166.3 264.5,162.5 265.2,164.1 266.6,163.5 267.3,169.3 268.1,170.3 268.8,168.2 270.3,180.4 271.0,173.9 271.8,177.9 272.5,171.0 273.3,179.7 274.0,184.1 274.8,189.5 275.6,172.6 276.3,185.2 277.1,177.7 277.9,174.8 278.7,168.3 279.5,178.6 280.3,169.6 281.1,177.7 281.9,173.9 282.7,178.2 283.6,187.1 284.4,180.5 285.2,189.7 286.1,184.4 286.9,191.2 287.8,183.9 288.6,183.8 289.5,187.6 290.3,181.9 291.2,182.4 292.1,175.1 293.0,187.4 293.9,180.9 294.8,182.4 295.7,182.1 296.6,189.5 297.5,185.2 298.4,182.7 299.3,213.1 300.2,189.9 301.2,198.0 302.1,182.1 303.1,185.0 304.0,183.4 305.0,193.8 306.0,189.3 306.9,194.2 307.9,188.0 308.9,206.2 309.9,199.1 310.9,211.4 311.9,204.6 312.9,218.7 313.9,209.1 315.0,228.3 316.0,202.4 317.1,197.8 318.1,206.2 319.2,199.4 320.2,237.5 321.3,208.7 322.4,209.1 323.5,205.2 324.6,230.6 325.7,210.6 326.8,217.7 327.9,235.6 329.0,224.3 330.1,213.1 331.3,242.9 332.4,223.7 333.6,227.6 334.8,212.2 335.9,216.7 337.1,214.8 338.3,234.7 339.5,249.4 340.7,224.3 341.9,227.6 343.2,219.7 344.4,216.2 345.6,229.8 346.9,213.9 348.2,212.2 349.4,214.4 350.7,220.3 352.0,235.6 353.3,234.7 354.6,211.4 355.9,226.9 357.3,218.7 358.6,227.6 360.0,219.2 361.3,225.0 362.7,223.7 364.1,225.6 365.4,244.1 366.9,228.3 368.3,225.6 369.7,249.4 371.1,223.1 372.6,228.3 374.0,226.9 375.5,238.5 377.0,239.6 378.5,232.2 380.0,248.0 381.5,244.1 383.0,244.1 384.5,242.9 386.1,238.5 387.6,237.5 389.2,267.0 390.8,257.9 392.4,259.9 394.0,244.1 395.6,284.8 397.3,259.9 398.9,241.7 400.6,236.6 402.2,249.4 403.9,284.8 405.6,259.9 407.4,254.2 409.1,257.9 410.8,284.8 412.6,248.0 414.4,250.9 416.1,264.4 418.0,269.8 419.8,296.7 421.6,290.2 423.5,290.2 425.3,272.9 427.2,276.4 429.1,284.8 431.0,272.9 432.9,305.2 434.9,317.1 436.8,296.7 438.8,290.2 440.8,337.5 442.8,290.2 444.8,284.8 446.9,290.2 448.9,284.8 451.0,317.1 453.1,296.7 455.2,280.3 457.4,290.2 459.5,280.3 461.7,296.7 463.9,317.1 466.1,290.2 468.3,305.2 470.6,317.1 472.9,284.8 475.1,280.3 477.5,272.9 479.8,296.7 482.1,284.8 484.5,284.8 489.3,317.1 491.8,284.8 494.2,337.5 496.7,296.7 499.2,317.1 501.7,317.1 504.3,280.3 506.9,290.2 509.5,296.7 512.1,284.8 514.8,305.2 517.4,305.2 520.1,296.7 522.9,317.1 525.6,317.1 528.4,284.8 531.2,337.5 534.0,337.5 536.9,337.5 539.8,317.1 542.7,317.1 545.6,337.5 548.6,337.5 567.1,317.1 570.2,305.2 580.0,337.5 583.3,337.5 593.4,337.5 603.9,337.5"/>
<polyline fill="none" stroke="none" marker-start="url(#mati)" marker-mid="url(#mati)" marker-end="url(#mati)" points="90.4,46.6 90.5,47.5 90.6,54.4 90.7,52.1 90.9,56.9 91.0,60.4 91.1,62.7 91.3,65.4 91.4,66.4 91.7,69.3 91.8,71.0 92.0,75.7 92.1,76.9 92.2,73.9 92.4,75.8 92.5,75.0 92.6,77.0 92.8,80.5 93.0,78.8 93.2,79.4 93.3,80.8 93.7,77.5 93.9,78.0 94.0,75.3 94.1,77.8 94.3,75.2 94.4,74.3 94.8,70.3 95.0,69.7 95.2,67.2 95.5,64.5 95.7,64.1 95.8,61.5 95.9,58.8 96.1,59.0 96.2,55.8 96.4,56.7 96.5,54.1 96.8,50.6 96.9,48.8 97.1,47.6 97.2,46.2 103.1,46.7 103.3,50.4 103.4,48.7 103.6,52.4 103.8,55.1 104.1,57.8 104.2,62.4 104.4,62.9 104.6,65.5 104.9,72.4 105.1,72.8 105.2,74.9 105.4,75.2 105.6,80.9 105.7,85.8 105.9,86.0 106.2,87.5 106.4,88.3 106.6,91.7 106.7,94.6 107.1,98.3 107.3,100.8 107.4,99.6 107.6,99.2 107.8,103.0 107.9,104.0 108.1,101.3 108.5,103.7 108.6,101.7 108.8,100.0 109.0,97.8 109.2,95.9 109.4,95.5 109.5,92.0 109.7,94.5 110.1,87.9 110.3,86.3 110.4,83.6 110.6,79.9 110.8,79.4 111.0,76.1 111.2,76.2 111.4,72.8 111.6,67.8 111.7,68.7 111.9,66.1 112.1,64.3 112.3,64.8 112.5,62.5 112.9,61.2 113.1,62.8 113.3,63.9 114.0,64.7 114.2,66.2 114.4,67.4 114.8,71.6 115.0,71.0 115.2,77.1 115.4,78.9 115.6,79.9 115.8,83.4 116.0,88.5 116.2,90.7 116.4,95.9 116.7,97.0 116.9,100.8 117.1,107.5 117.3,108.0 117.5,112.6 117.7,114.9 117.9,120.0 118.1,126.0 118.3,124.3 118.5,128.0 118.8,130.4 119.0,131.5 119.2,135.0 119.4,138.8 119.6,140.3 119.8,136.5 120.3,140.5 120.7,141.1 121.0,139.6 121.2,141.9 121.4,139.7 121.9,137.2 122.1,141.0 122.3,136.5 122.5,132.8 122.8,132.0 123.0,130.7 123.2,126.7 123.5,122.9 123.7,121.5 124.0,116.8 124.4,113.1 124.7,110.8 124.9,112.9 125.2,107.2 125.4,104.9 125.6,101.2 125.9,99.6 126.1,101.5 126.6,98.0 126.9,99.4 127.1,100.2 127.4,99.0 127.9,100.9 128.2,105.5 128.4,101.5 128.7,104.0 128.9,108.4 129.2,109.8 129.5,113.1 129.7,115.1 130.0,119.1 130.2,123.2 130.5,127.5 130.8,129.4 131.1,137.9 131.3,138.3 131.6,141.6 131.9,150.2 132.1,154.2 132.4,162.0 132.7,164.1 133.0,160.0 133.3,162.4 133.5,172.6 133.8,165.2 134.1,177.8 134.7,174.4 135.0,171.6 135.3,180.0 135.6,168.3 135.9,166.0 136.5,163.1 136.8,160.2 137.1,160.8 137.4,157.2 137.7,152.6 138.0,149.1 138.3,149.0 138.6,144.9 138.9,142.8 139.2,141.1 139.5,135.3 139.8,135.5 140.2,139.5 140.5,133.8 141.1,131.9 141.4,133.3 141.8,136.1 142.1,138.8 142.4,137.4 142.8,136.3 143.1,140.0 143.4,148.3 143.8,152.8 144.4,153.9 144.8,160.0 145.1,167.9 145.5,170.4 145.8,179.1 146.2,174.4 146.5,190.5 146.9,193.4 147.2,190.0 147.6,196.1 148.0,206.1 148.3,211.3 148.7,202.4 149.1,205.4 149.4,206.9 149.8,197.9 150.2,199.1 150.5,187.8 150.9,186.6 151.3,187.0 151.7,181.4 152.1,176.6 152.5,177.8 152.8,166.8 153.2,167.9 153.6,165.4 154.4,159.2 154.8,161.0 155.6,165.2 156.1,162.8 156.5,165.4 156.9,168.8 157.3,167.5 157.7,178.7 158.1,179.4 158.6,180.0 159.0,189.1 159.4,194.5 159.9,198.5 160.7,203.1 161.2,220.1 161.6,230.8 162.1,239.2 162.5,222.8 163.0,224.2 163.4,221.4 163.9,208.6 164.4,211.3 165.3,207.8 165.8,204.6 166.2,201.7 166.7,191.4 167.2,190.5 167.7,194.0 168.2,192.9 169.2,185.8 169.6,201.0 170.2,203.8 170.7,197.3 171.7,191.9 172.2,206.9 172.7,210.4 173.2,221.4 173.8,222.8 174.3,229.0 174.8,232.7 175.4,232.7 175.9,239.2 176.4,259.6 177.0,239.2 177.5,236.9 178.1,234.7 178.7,239.2 179.2,232.7 179.8,232.7 180.4,244.6 180.9,234.7 181.5,232.7 182.1,230.8 182.7,227.3 183.3,236.9 183.9,230.8 184.5,229.0 185.1,239.2 185.7,232.7 186.3,255.1 187.0,264.9 187.6,239.2 188.2,259.6 188.8,251.1 189.5,271.5 190.1,291.9 190.8,264.9 191.4,271.5 192.8,291.9 193.4,259.6 194.1,291.9 194.8,271.5 195.5,259.6 196.2,271.5 196.9,280.0 197.6,280.0 198.3,239.3 199.0,259.9 199.7,280.5 200.4,292.7 201.2,266.0 201.9,293.2 204.1,314.3 204.9,294.2 205.7,282.6 208.0,315.7 208.8,295.6 211.2,284.4 212.0,296.6 214.5,285.5 215.4,318.0 216.2,318.3 218.0,318.8 218.9,319.1 219.7,319.4 221.5,319.9 224.3,320.7 225.2,321.0 228.1,301.4 229.0,289.8 231.0,322.6 233.0,323.2 234.0,323.5 236.0,324.0 237.1,324.3 238.1,324.6 240.2,325.1 246.9,326.8"/>
<polyline fill="none" stroke="none" marker-start="url(#m340)" marker-mid="url(#m340)" marker-end="url(#m340)" points="89.0,639.9 90.4,643.0 91.7,637.7 93.0,642.0 94.3,645.1 95.6,646.7 96.9,653.3 98.2,642.8 99.5,658.9 100.9,659.8 102.2,665.8 103.5,664.9 104.8,660.5 106.1,667.8 107.4,667.7 108.7,673.1 110.1,666.5 111.4,673.2 112.7,678.7 114.0,672.2 115.3,676.1 116.6,672.5 117.9,673.4 119.2,672.1 120.6,671.3 121.9,673.4 123.2,673.7 124.5,663.2 125.8,664.8 127.1,661.0 128.4,661.2 129.8,664.0 131.1,658.8 132.4,647.0 133.7,651.9 135.0,647.9 136.3,649.2 137.6,643.6 139.0,640.8 140.3,638.2 141.6,635.9 142.9,636.1 144.2,634.5 145.5,631.3 146.8,629.2 148.1,630.1 149.5,623.1 150.8,628.5 152.1,629.0 153.4,632.5 154.7,627.6 156.0,635.7 157.3,639.0 158.7,638.2 160.0,634.3 161.3,642.0 162.6,635.4 163.9,641.8 165.2,648.8 166.5,646.4 167.9,641.4 169.2,652.4 170.5,655.8 171.8,651.3 173.1,650.2 174.4,652.8 175.7,658.9 177.0,658.4 178.4,659.0 179.7,657.1 181.0,654.5 182.3,662.9 183.6,658.5 184.9,664.4 186.2,661.3 187.6,666.4 188.9,665.6 190.2,661.1 191.5,665.1 192.8,658.3 194.1,662.5 195.4,659.5 196.7,659.1 198.1,659.0 199.4,656.4 200.7,652.2 202.0,644.2 203.3,658.0 204.6,651.9 205.9,652.7 207.3,654.5 208.6,649.7 209.9,653.1 211.2,649.8 212.5,645.0 213.8,655.9 215.1,648.0 216.5,647.3 217.8,652.2 219.1,647.4 220.4,648.3 221.7,651.1 223.0,646.3 224.3,655.5 225.6,649.5 227.0,653.3 228.3,657.0 229.6,654.9 230.9,656.5 232.2,653.6 233.5,662.6 234.8,659.2 236.2,661.2 237.5,655.4 238.8,665.7 240.1,659.3 241.4,670.0 242.7,663.7 244.0,666.3 245.4,665.3 246.7,669.8 248.0,674.7 249.3,673.9 250.6,664.6 251.9,668.8 253.2,672.7 254.5,666.9 255.9,672.6 257.2,672.6 258.5,674.1 259.8,665.7 261.1,662.8 262.4,672.5 263.7,667.8 265.1,665.1 266.4,660.7 267.7,675.7 269.0,666.5 270.3,664.3 271.6,671.0 272.9,664.1 274.2,664.4 275.6,662.1 276.9,666.2 278.2,662.5 279.5,665.7 280.8,661.4 282.1,662.6 283.4,664.1 284.8,667.4 286.1,656.7 287.4,658.4 288.7,659.2 290.0,664.5 291.3,663.6 292.6,656.8 294.0,660.2 295.3,666.0 296.6,663.3 297.9,663.4 299.2,665.0 300.5,668.0 301.8,661.0 303.1,663.8 304.5,667.0 305.8,672.2 307.1,669.3 308.4,667.8 309.7,665.2 311.0,669.9 312.3,665.2 313.7,668.9 315.0,672.2 316.3,679.5 317.6,674.2 318.9,675.4 320.2,670.9 321.5,669.2 322.8,665.6 324.2,670.3 325.5,674.0 326.8,661.7 328.1,668.4 329.4,670.0 330.7,669.6 332.0,672.9 333.4,665.6 334.7,665.9 336.0,661.2 337.3,662.3 338.6,662.4 339.9,660.5 341.2,665.2 342.6,665.1 343.9,663.2 345.2,666.7 346.5,662.4 347.8,662.5 349.1,658.7 350.4,660.6 351.7,666.8 353.1,660.0 354.4,655.2 355.7,666.3 357.0,662.7 358.3,660.2 359.6,665.0 360.9,662.6 362.3,660.8 363.6,665.9 364.9,660.8 366.2,660.9 367.5,667.1 368.8,663.2 370.1,660.2 371.5,665.1 372.8,663.7 374.1,663.6 375.4,667.2 376.7,663.7 378.0,666.3 379.3,671.6 380.6,667.0 382.0,666.3 383.3,667.0 384.6,672.4 385.9,669.0 387.2,666.1 388.5,670.3 389.8,667.2 391.2,666.9 392.5,671.6 393.8,669.2 395.1,672.3 396.4,667.5 397.7,671.3 399.0,672.6 400.3,670.5 401.7,670.3 403.0,668.4 404.3,667.7 405.6,672.8 406.9,670.6 408.2,666.7 409.5,665.8 410.9,666.7 412.2,657.5 413.5,662.3 414.8,666.0 416.1,662.9 417.4,660.5 418.7,663.5 420.1,670.6 421.4,664.1 422.7,664.2 424.0,657.1 425.3,670.7 426.6,659.2 427.9,665.3 429.2,661.8 430.6,666.3 431.9,665.1 433.2,662.2 434.5,666.3 435.8,663.5 437.1,668.0 438.4,669.7 439.8,669.7 441.1,671.3 442.4,670.6 443.7,666.2 445.0,675.5 446.3,677.8 447.6,672.8 449.0,667.5 450.3,670.2 451.6,669.8 452.9,670.5 454.2,677.7 455.5,675.1 456.8,684.9 458.1,678.1 459.5,674.0 460.8,681.5 462.1,683.3 463.4,680.6 464.7,675.3 466.0,671.8 467.3,666.7 468.7,670.4 470.0,680.2 471.3,682.6 472.6,673.7 473.9,670.2 475.2,678.9 476.5,674.7 477.8,674.0 479.2,671.9 480.5,672.2 481.8,669.4 483.1,667.1 484.4,670.2 485.7,667.5 487.0,663.0 488.4,673.1 489.7,673.1 491.0,667.7 492.3,663.0 493.6,668.9 494.9,665.8 496.2,670.8 497.6,666.9 498.9,672.5 500.2,668.5 501.5,669.9 502.8,670.4 504.1,667.6 505.4,669.3 506.7,675.7 508.1,671.2 509.4,680.8 510.7,672.3 512.0,666.9 513.3,675.2 514.6,676.0 515.9,678.1 517.3,676.1 518.6,681.1 519.9,677.8 521.2,681.6 522.5,682.5 523.8,681.0 525.1,682.0 526.4,688.0 527.8,675.1 529.1,681.9 530.4,688.3 531.7,678.8 533.0,682.5 534.3,681.6 535.6,679.7 537.0,685.0 538.3,691.8 539.6,681.7 540.9,680.2 542.2,677.2 543.5,682.9 544.8,680.8 546.2,678.1 547.5,680.2 548.8,679.5 550.2,677.4 551.5,681.4 552.9,672.2 554.2,680.6 555.6,677.1 557.0,678.2 558.4,679.4 559.8,675.1 561.1,673.5 562.5,672.1 563.9,675.4 565.4,679.2 566.8,675.0 568.2,683.4 569.6,678.7 571.1,677.7 572.5,678.2 573.9,684.7 575.4,686.6 576.9,676.6 578.3,684.8 579.8,689.5 581.3,688.9 582.8,685.4 584.3,682.1 585.8,686.9 587.3,683.5 588.8,687.5 590.3,687.2 591.8,685.9 593.4,691.0 594.9,689.1 596.5,691.7 598.0,692.7 599.6,688.3 601.2,693.3 602.7,690.1 604.3,692.9 605.9,690.2 607.5,691.4 609.1,685.4 610.7,688.5 612.4,688.0 614.0,682.2 615.6,697.3 617.3,690.7 618.9,695.8 620.6,686.1 622.3,684.2 623.9,683.3 625.6,684.4 627.3,688.2 629.0,679.2 630.7,684.3 632.4,686.5 634.2,689.8 635.9,685.0 637.6,688.7 639.4,689.3 641.1,687.8 642.9,688.6 644.7,693.0 646.5,686.9 648.3,695.6 650.1,696.9 651.9,693.0 653.7,694.5 655.5,695.6 657.3,698.0 659.2,697.2 661.0,699.8 662.9,704.0 664.8,696.1 666.7,702.3 668.6,699.7 670.5,696.3 672.4,698.6 674.3,688.9 676.2,702.7 678.1,700.0 680.1,696.6 682.1,691.7 684.0,696.6 686.0,700.1 688.0,690.7 690.0,697.4 692.0,694.5 694.0,690.6 696.0,695.8 698.1,695.1 700.1,692.1 702.2,694.9 704.2,693.7 706.3,698.6 708.4,696.6 710.5,700.9 712.6,703.5 714.7,693.3 716.9,698.9 719.0,698.4 721.1,706.0 723.3,703.8 725.5,705.4 727.7,710.4 729.9,704.3 732.1,709.2 734.3,707.7 736.5,712.4 738.8,703.7 741.0,704.3 743.3,705.2 745.6,709.1 747.9,707.2 750.2,700.5 752.5,705.0 754.8,702.4 757.1,702.3 759.5,706.1 761.9,696.7 764.2,708.6 766.6,701.0 769.0,702.6 771.4,708.7 773.9,703.1 776.3,703.7 778.8,706.8 781.2,711.3 783.7,708.6 786.2,708.1 788.7,712.8 791.2,709.6 793.8,714.5 796.3,716.5 798.9,715.9 801.4,724.2 804.0,724.7 806.6,721.8 809.2,722.3 811.9,719.1 814.5,720.4 817.2,723.6 819.9,723.2 822.6,724.7 825.3,724.8 828.0,725.1 830.7,720.5 833.5,725.6 836.2,725.8 839.0,724.9 841.8,728.4 844.6,728.8 847.4,737.2 850.3,730.1 853.1,734.3 856.0,734.5 858.9,735.6 861.8,744.9 864.7,731.6 867.7,740.4 870.6,741.1 873.6,748.2 876.6,739.9 879.6,740.3 882.6,742.3 885.7,739.5 888.7,735.0 891.8,739.6 894.9,740.8 898.0,732.4 901.2,736.1 904.3,738.1 907.5,730.5 910.7,739.1 913.9,741.8 917.1,742.2 920.3,746.6 923.6,746.6 926.9,749.0 930.2,753.7 933.5,754.0 936.9,753.4 940.2,754.1 943.6,753.9 947.0,753.3 950.4,754.9 953.9,753.5 957.3,755.9 960.8,754.9"/>
<polyline fill="none" stroke="none" marker-start="url(#m76)" marker-mid="url(#m76)" marker-end="url(#m76)" points="89.0,622.2 90.4,610.5 91.7,628.3 93.0,639.2 94.3,637.5 95.6,644.5 96.9,652.1 98.2,657.6 99.5,664.9 100.9,664.9 102.2,681.1 103.5,680.7 104.8,683.6 106.1,697.1 107.4,687.4 108.7,702.0 110.1,706.6 111.4,711.9 112.7,708.1 114.0,720.9 115.3,711.7 116.6,704.3 117.9,712.4 119.2,708.7 120.6,714.8 121.9,704.1 123.2,707.9 124.5,702.3 125.8,695.7 127.1,681.7 128.4,687.9 129.8,688.5 131.1,672.8 132.4,663.6 133.7,657.9 135.0,653.8 136.3,642.4 137.6,638.8 139.0,633.5 140.3,634.3 141.6,634.4 142.9,615.8 144.2,623.8 145.5,610.7 146.8,608.7 148.1,618.0 149.5,614.4 150.8,609.0 152.1,606.6 153.4,616.6 154.7,615.0 156.0,620.6 157.3,624.2 158.7,621.2 160.0,627.5 161.3,638.9 162.6,631.8 163.9,640.1 165.2,644.9 166.5,654.2 167.9,649.4 169.2,656.2 170.5,661.0 171.8,667.2 173.1,669.5 174.4,667.7 175.7,677.9 177.0,680.9 178.4,687.1 179.7,684.2 181.0,690.4 182.3,694.3 183.6,686.5 184.9,693.1 186.2,696.4 187.6,694.9 188.9,692.9 190.2,693.8 191.5,679.6 192.8,680.9 194.1,687.1 195.4,671.5 196.7,675.0 198.1,667.9 199.4,666.7 200.7,658.4 202.0,654.0 203.3,647.6 204.6,642.8 205.9,654.5 207.3,640.5 208.6,634.3 209.9,631.5 211.2,634.1 212.5,626.0 213.8,622.7 215.1,629.5 216.5,622.3 217.8,613.7 219.1,620.3 220.4,617.7 221.7,617.4 223.0,616.1 224.3,616.6 225.6,617.2 227.0,624.2 228.3,626.7 229.6,631.7 230.9,633.7 232.2,639.2 233.5,639.2 234.8,643.7 236.2,658.1 237.5,666.8 238.8,658.2 240.1,667.1 241.4,676.2 242.7,668.1 244.0,669.1 245.4,685.1 246.7,687.1 248.0,688.3 249.3,690.9 250.6,689.2 251.9,695.1 253.2,690.3 254.5,692.2 255.9,684.7 257.2,689.2 258.5,682.9 259.8,678.0 261.1,680.2 262.4,676.8 263.7,679.0 265.1,673.1 266.4,658.3 267.7,658.7 269.0,661.0 270.3,658.8 271.6,653.4 272.9,643.1 274.2,654.2 275.6,639.0 276.9,642.8 278.2,626.0 279.5,636.7 280.8,622.4 282.1,625.8 283.4,622.3 284.8,612.8 286.1,619.8 287.4,615.9 288.7,617.3 290.0,625.2 291.3,620.7 292.6,617.2 294.0,622.2 295.3,625.2 296.6,632.4 297.9,624.4 299.2,638.1 300.5,630.2 301.8,641.9 303.1,643.4 304.5,657.9 305.8,654.5 307.1,663.8 308.4,662.8 309.7,661.3 311.0,669.2 312.3,673.2 313.7,672.8 315.0,686.3 316.3,682.3 317.6,687.8 318.9,681.0 320.2,691.0 321.5,680.2 322.8,678.3 324.2,698.4 325.5,687.9 326.8,693.7 328.1,678.0 329.4,686.2 330.7,676.3 332.0,675.0 333.4,678.0 334.7,677.5 336.0,660.8 337.3,665.5 338.6,657.4 339.9,647.8 341.2,651.1 342.6,648.7 343.9,648.6 345.2,637.7 346.5,640.9 347.8,642.3 349.1,634.2 350.4,632.2 351.7,635.3 353.1,627.0 354.4,620.8 355.7,621.4 357.0,614.1 358.3,619.0 359.6,624.2 360.9,637.0 362.3,627.4 363.6,624.6 364.9,634.5 366.2,628.8 367.5,643.7 368.8,641.2 370.1,641.9 371.5,641.3 372.8,653.8 374.1,647.6 375.4,663.1 376.7,674.1 378.0,669.2 379.3,665.2 380.6,677.1 382.0,670.0 383.3,682.0 384.6,673.7 385.9,696.4 387.2,675.1 388.5,698.3 389.8,688.9 391.2,694.8 392.5,686.9 393.8,689.0 395.1,688.3 396.4,682.1 397.7,678.5 399.0,682.9 400.3,672.3 401.7,684.7 403.0,678.2 404.3,676.5 405.6,663.7 406.9,658.0 408.2,661.3 409.5,658.9 410.9,658.3 412.2,645.3 413.5,639.8 414.8,645.6 416.1,640.9 417.4,639.6 418.7,635.6 420.1,631.3 421.4,643.8 422.7,634.2 424.0,626.7 425.3,635.5 426.6,624.5 427.9,624.5 429.2,637.8 430.6,638.6 431.9,629.5 433.2,647.1 434.5,646.6 435.8,652.3 437.1,646.8 438.4,648.3 439.8,651.0 441.1,655.7 442.4,668.1 443.7,658.3 445.0,668.3 446.3,673.5 447.6,665.9 449.0,677.3 450.3,679.0 451.6,679.1 452.9,675.3 454.2,687.9 455.5,685.8 456.8,702.9 458.1,696.6 459.5,681.2 460.8,681.5 462.1,692.4 463.4,695.5 464.7,696.9 466.0,694.5 467.3,689.4 468.7,693.3 470.0,682.4 471.3,680.1 472.6,682.9 473.9,680.3 475.2,676.6 476.5,669.9 477.8,665.4 479.2,658.1 480.5,667.4 481.8,657.2 483.1,652.5 484.4,648.6 485.7,643.6 487.0,648.4 488.4,638.1 489.7,631.4 491.0,640.3 492.3,634.0 493.6,636.9 494.9,640.0 496.2,644.2 497.6,642.8 498.9,634.8 500.2,647.1 501.5,653.7 502.8,654.7 504.1,650.6 505.4,661.0 506.7,656.0 508.1,660.2 509.4,666.2 510.7,662.0 512.0,681.1 513.3,680.5 514.6,681.8 515.9,681.9 517.3,694.2 518.6,692.8 519.9,685.5 521.2,696.7 522.5,691.7 523.8,699.4 525.1,703.4 526.4,697.6 527.8,693.9 529.1,701.2 530.4,707.6 531.7,704.2 533.0,701.5 534.3,699.2 535.6,701.1 537.0,690.6 538.3,697.7 539.6,684.4 540.9,692.6 542.2,689.5 543.5,675.5 544.8,674.8 546.2,677.5 547.5,675.9 548.8,671.1 550.2,667.0 551.5,663.3 552.9,656.7 554.2,664.6 555.6,658.4 557.0,656.6 558.4,663.1 559.8,648.9 561.1,645.8 562.5,654.8 563.9,664.7 565.4,660.6 566.8,652.5 568.2,670.1 569.6,672.0 571.1,666.6 572.5,664.1 573.9,665.2 575.4,667.4 576.9,689.0 578.3,683.0 579.8,688.6 581.3,692.3 582.8,686.4 584.3,691.7 585.8,701.1 587.3,698.9 588.8,701.7 590.3,698.3 591.8,710.0 593.4,705.1 594.9,713.3 596.5,707.7 598.0,710.3 599.6,708.2 601.2,708.7 602.7,699.2 604.3,709.1 605.9,708.0 607.5,703.4 609.1,695.1 610.7,690.6 612.4,691.4 614.0,691.3 615.6,686.7 617.3,685.0 618.9,675.7 620.6,675.7 622.3,672.0 623.9,670.8 625.6,669.2 627.3,662.5 629.0,670.5 630.7,665.8 632.4,666.2 634.2,673.6 635.9,663.1 637.6,672.7 639.4,682.7 641.1,675.0 642.9,680.7 644.7,683.8 646.5,692.7 648.3,697.6 650.1,699.2 651.9,711.2 653.7,707.1 655.5,711.2 657.3,710.1 659.2,718.5 661.0,716.4 662.9,728.5 664.8,726.0 666.7,718.2 668.6,714.2 670.5,716.0 672.4,726.8 674.3,722.1 676.2,717.2 678.1,704.4 680.1,710.7 682.1,702.8 684.0,698.0 686.0,694.6 688.0,694.6 690.0,689.2 692.0,684.1 694.0,685.9 696.0,685.8 698.1,681.0 700.1,677.5 702.2,673.6 704.2,694.3 706.3,689.5 708.4,693.6 710.5,703.7 712.6,703.6 714.7,710.1 716.9,716.4 719.0,719.0 721.1,716.9 723.3,729.8 725.5,730.9 727.7,731.8 729.9,738.7 732.1,741.5 734.3,744.2 736.5,739.6 738.8,727.2 741.0,741.8 743.3,725.8 745.6,732.1 747.9,728.8 750.2,715.9 752.5,713.3 754.8,709.1 757.1,709.2 759.5,701.8 761.9,707.5 764.2,701.0 766.6,697.2 769.0,703.0 771.4,708.8 773.9,697.7 776.3,711.0 778.8,719.0 781.2,714.9 783.7,716.3 786.2,725.1 788.7,739.5 791.2,737.7 793.8,740.8 796.3,742.8 798.9,756.8 801.4,757.7 804.0,750.6 806.6,751.2 809.2,747.5 811.9,741.4 814.5,752.0 817.2,747.3 819.9,740.6 822.6,725.4 825.3,731.3 828.0,722.0 830.7,738.2 833.5,722.9 836.2,719.1 839.0,717.5 841.8,731.4 844.6,719.9 847.4,739.6 850.3,732.0 853.1,735.9 856.0,751.0 858.9,763.0 861.8,748.0 864.7,761.6 867.7,772.8 870.6,764.6 873.6,773.0 876.6,764.9 879.6,767.0 882.6,767.4 885.7,753.1 888.7,753.3 891.8,746.9 894.9,742.0 898.0,739.7 901.2,739.8 904.3,735.9 907.5,736.3 910.7,740.1 913.9,745.9 917.1,749.5 920.3,750.0 923.6,756.9 926.9,767.4 930.2,769.5 933.5,773.6 936.9,776.2 940.2,779.2 943.6,777.3 947.0,778.3 950.4,771.7 953.9,768.4 957.3,763.6 960.8,759.5"/>
<polyline fill="none" stroke="none" marker-start="url(#m50)" marker-mid="url(#m50)" marker-end="url(#m50)" points="89.0,594.6 90.4,605.6 91.7,615.3 93.0,614.7 94.3,621.0 95.6,632.8 96.9,636.5 98.2,641.9 99.5,650.8 100.9,655.6 102.2,662.2 103.5,675.3 104.8,686.0 106.1,697.0 107.4,690.6 108.7,699.1 110.1,700.9 111.4,713.3 112.7,712.1 114.0,718.7 115.3,720.4 116.6,723.4 117.9,717.2 119.2,712.6 120.6,708.9 121.9,708.2 123.2,706.6 124.5,691.3 125.8,688.0 127.1,684.5 128.4,682.0 129.8,669.9 131.1,672.1 132.4,667.1 133.7,650.8 135.0,645.6 136.3,634.3 137.6,635.9 139.0,624.4 140.3,624.5 141.6,615.8 142.9,607.2 144.2,605.5 145.5,606.1 146.8,605.9 148.1,599.1 149.5,600.5 150.8,602.7 152.1,596.2 153.4,602.1 154.7,594.1 156.0,593.1 157.3,600.9 158.7,597.1 160.0,620.3 161.3,627.5 162.6,625.5 163.9,638.5 165.2,635.4 166.5,637.7 167.9,644.0 169.2,648.8 170.5,659.8 171.8,664.4 173.1,667.9 174.4,673.9 175.7,673.4 177.0,683.3 178.4,684.6 179.7,690.1 181.0,684.4 182.3,690.1 183.6,691.2 184.9,694.6 186.2,700.5 187.6,693.6 188.9,700.3 190.2,688.5 191.5,691.4 192.8,676.6 194.1,682.0 195.4,675.3 196.7,672.9 198.1,671.3 199.4,668.2 200.7,667.6 202.0,653.6 203.3,654.8 204.6,634.7 205.9,640.9 207.3,632.8 208.6,625.3 209.9,621.6 211.2,611.4 212.5,613.7 213.8,612.6 215.1,608.4 216.5,598.6 217.8,600.9 219.1,613.1 220.4,604.7 221.7,608.9 223.0,605.9 224.3,605.0 225.6,610.5 227.0,610.8 228.3,609.2 229.6,629.5 230.9,625.8 232.2,630.0 233.5,633.1 234.8,639.9 236.2,641.2 237.5,650.9 238.8,653.9 240.1,668.5 241.4,665.1 242.7,676.4 244.0,672.2 245.4,670.5 246.7,682.6 248.0,683.3 249.3,684.2 250.6,683.1 251.9,687.3 253.2,685.8 254.5,694.3 255.9,691.7 257.2,697.2 258.5,678.0 259.8,692.0 261.1,679.2 262.4,679.6 263.7,676.2 265.1,678.4 266.4,668.7 267.7,663.5 269.0,657.2 270.3,656.0 271.6,648.3 272.9,649.3 274.2,634.2 275.6,638.5 276.9,613.8 278.2,628.6 279.5,626.6 280.8,619.4 282.1,618.2 283.4,610.1 284.8,607.7 286.1,615.5 287.4,615.1 288.7,615.5 290.0,610.3 291.3,609.0 292.6,612.3 294.0,618.5 295.3,620.4 296.6,620.7 297.9,621.5 299.2,631.8 300.5,630.2 301.8,642.1 303.1,644.3 304.5,644.7 305.8,659.2 307.1,668.2 308.4,670.1 309.7,670.0 311.0,678.7 312.3,678.4 313.7,674.9 315.0,686.6 316.3,681.4 317.6,686.0 318.9,697.2 320.2,688.7 321.5,690.0 322.8,689.7 324.2,693.1 325.5,691.9 326.8,694.4 328.1,694.0 329.4,687.6 330.7,680.9 332.0,684.0 333.4,669.5 334.7,675.6 336.0,667.6 337.3,671.4 338.6,652.8 339.9,652.3 341.2,645.0 342.6,652.8 343.9,635.6 345.2,636.2 346.5,637.8 347.8,633.3 349.1,635.6 350.4,626.6 351.7,619.2 353.1,626.1 354.4,618.9 355.7,626.1 357.0,633.2 358.3,621.5 359.6,614.4 360.9,617.4 362.3,628.6 363.6,621.7 364.9,625.8 366.2,632.4 367.5,639.7 368.8,637.2 370.1,646.7 371.5,652.6 372.8,650.0 374.1,663.2 375.4,661.0 376.7,661.5 378.0,676.5 379.3,676.4 380.6,678.5 382.0,693.4 383.3,690.4 384.6,693.4 385.9,695.7 387.2,699.2 388.5,689.9 389.8,701.6 391.2,698.0 392.5,694.3 393.8,688.7 395.1,703.2 396.4,700.0 397.7,696.6 399.0,690.3 400.3,681.1 401.7,683.1 403.0,678.1 404.3,667.4 405.6,672.6 406.9,666.0 408.2,652.8 409.5,654.6 410.9,657.5 412.2,653.7 413.5,641.1 414.8,648.9 416.1,644.4 417.4,633.1 418.7,627.9 420.1,624.2 421.4,635.8 422.7,627.2 424.0,645.8 425.3,633.3 426.6,614.7 427.9,622.5 429.2,628.1 430.6,638.1 431.9,642.0 433.2,632.8 434.5,642.2 435.8,648.9 437.1,644.8 438.4,648.9 439.8,660.0 441.1,663.0 442.4,654.0 443.7,674.4 445.0,668.7 446.3,681.5 447.6,686.3 449.0,691.0 450.3,689.8 451.6,692.5 452.9,691.4 454.2,701.3 455.5,697.4 456.8,703.8 458.1,705.7 459.5,699.4 460.8,700.3 462.1,709.9 463.4,700.5 464.7,709.2 466.0,703.6 467.3,687.8 468.7,686.8 470.0,691.6 471.3,684.4 472.6,677.7 473.9,671.8 475.2,668.2 476.5,677.2 477.8,669.8 479.2,665.4 480.5,674.7 481.8,662.9 483.1,653.9 484.4,654.1 485.7,653.5 487.0,654.2 488.4,649.4 489.7,645.1 491.0,645.6 492.3,637.7 493.6,639.3 494.9,650.5 496.2,640.0 497.6,646.0 498.9,644.0 500.2,653.4 501.5,648.1 502.8,659.3 504.1,653.7 505.4,662.5 506.7,667.5 508.1,676.8 509.4,682.3 510.7,673.7 512.0,688.0 513.3,692.3 514.6,688.2 515.9,694.0 517.3,694.7 518.6,707.7 519.9,714.9 521.2,711.3 522.5,703.9 523.8,711.1 525.1,710.2 526.4,710.8 527.8,713.2 529.1,713.3 530.4,714.9 531.7,712.0 533.0,710.3 534.3,713.7 535.6,705.3 537.0,706.1 538.3,703.9 539.6,701.4 540.9,693.0 542.2,695.0 543.5,684.7 544.8,692.6 546.2,681.0 547.5,688.4 548.8,676.8 550.2,676.5 551.5,673.2 552.9,673.4 554.2,665.7 555.6,660.7 557.0,671.2 558.4,661.1 559.8,658.6 561.1,656.0 562.5,657.4 563.9,665.4 565.4,655.7 566.8,667.0 568.2,662.0 569.6,666.0 571.1,673.0 572.5,678.0 573.9,678.0 575.4,673.3 576.9,681.5 578.3,692.1 579.8,689.6 581.3,689.0 582.8,690.7 584.3,714.9 585.8,706.0 587.3,709.0 588.8,720.7 590.3,729.0 591.8,715.0 593.4,725.8 594.9,733.1 596.5,730.9 598.0,721.5 599.6,713.4 601.2,718.9 602.7,726.6 604.3,713.3 605.9,727.0 607.5,709.0 609.1,705.9 610.7,697.7 612.4,698.1 614.0,693.3 615.6,694.8 617.3,693.3 618.9,687.8 620.6,674.6 622.3,684.8 623.9,679.6 625.6,679.8 627.3,672.5 629.0,672.8 630.7,664.6 632.4,664.5 634.2,671.4 635.9,674.7 637.6,682.8 639.4,693.2 641.1,688.3 642.9,693.1 644.7,703.9 646.5,701.6 648.3,702.5 650.1,717.3 651.9,712.7 653.7,719.8 655.5,729.0 657.3,729.2 659.2,729.0 661.0,736.4 662.9,737.5 664.8,731.2 666.7,735.4 668.6,735.0 670.5,739.2 672.4,730.6 674.3,723.6 676.2,733.4 678.1,733.4 680.1,724.9 682.1,717.0 684.0,717.4 686.0,717.0 688.0,695.2 690.0,702.9 692.0,702.1 694.0,711.0 696.0,689.2 698.1,701.9 700.1,686.8 702.2,692.1 704.2,696.1 706.3,701.4 708.4,698.8 710.5,711.4 712.6,711.3 714.7,721.2 716.9,725.6 719.0,720.8 721.1,728.5 723.3,744.4 725.5,748.3 727.7,746.9 729.9,750.6 732.1,748.9 734.3,754.4 736.5,757.8 738.8,746.3 741.0,749.8 743.3,741.9 745.6,746.9 747.9,729.5 750.2,731.7 752.5,727.3 754.8,722.2 757.1,728.9 759.5,713.0 761.9,717.1 764.2,718.8 766.6,709.8 769.0,702.9 771.4,718.0 773.9,708.3 776.3,732.8 778.8,723.5 781.2,733.7 783.7,734.7 786.2,730.0 788.7,743.9 791.2,761.8 793.8,750.8 796.3,769.4 798.9,770.1 801.4,774.2 804.0,769.4 806.6,770.5 809.2,759.2 811.9,763.9 814.5,758.5 817.2,759.3 819.9,747.8 822.6,755.7 825.3,754.1 828.0,737.7 830.7,736.1 833.5,738.9 836.2,726.7 839.0,745.9 841.8,735.7 844.6,739.2 847.4,759.9 850.3,755.6 853.1,760.6 856.0,772.2 858.9,778.2 861.8,783.1 864.7,792.0 867.7,797.9 870.6,787.2 873.6,790.3 876.6,789.9 879.6,785.4 882.6,786.1 885.7,780.7 888.7,770.5 891.8,768.3 894.9,762.0 898.0,756.4 901.2,752.2 904.3,761.3 907.5,761.6 910.7,767.8 913.9,769.8 917.1,771.4 920.3,781.6 923.6,779.0 926.9,794.7 930.2,805.3 933.5,807.0 936.9,799.9 940.2,811.7 943.6,808.5 947.0,809.2 950.4,806.8 953.9,794.6 957.3,798.0 960.8,795.4"/>
<polyline fill="none" stroke="none" marker-start="url(#m43)" marker-mid="url(#m43)" marker-end="url(#m43)" points="89.0,582.6 90.4,591.3 91.7,601.9 93.0,593.2 94.3,614.0 95.6,623.7 96.9,630.3 98.2,635.5 99.5,643.8 100.9,651.1 102.2,662.7 103.5,674.2 104.8,673.8 106.1,688.3 107.4,696.9 108.7,697.1 110.1,700.3 111.4,712.1 112.7,715.6 114.0,716.8 115.3,720.9 116.6,719.6 117.9,713.9 119.2,712.8 120.6,724.1 121.9,702.9 123.2,698.9 124.5,704.9 125.8,687.3 127.1,693.2 128.4,673.4 129.8,674.7 131.1,661.9 132.4,655.0 133.7,644.8 135.0,645.3 136.3,624.3 137.6,620.1 139.0,615.3 140.3,603.6 141.6,603.4 142.9,588.3 144.2,586.5 145.5,579.7 146.8,589.2 148.1,582.6 149.5,590.8 150.8,581.1 152.1,586.1 153.4,587.9 154.7,582.3 156.0,589.9 157.3,588.3 158.7,602.8 160.0,606.3 161.3,607.0 162.6,624.6 163.9,625.6 165.2,627.3 166.5,642.7 167.9,638.6 169.2,651.8 170.5,649.8 171.8,662.7 173.1,658.2 174.4,678.4 175.7,669.5 177.0,686.2 178.4,676.3 179.7,685.9 181.0,696.8 182.3,687.1 183.6,693.8 184.9,692.6 186.2,691.7 187.6,686.8 188.9,690.9 190.2,683.9 191.5,688.4 192.8,682.6 194.1,673.6 195.4,665.3 196.7,665.9 198.1,661.6 199.4,652.6 200.7,646.0 202.0,646.7 203.3,622.4 204.6,632.0 205.9,630.0 207.3,618.4 208.6,610.8 209.9,607.9 211.2,605.9 212.5,599.2 213.8,592.9 215.1,595.5 216.5,594.3 217.8,587.9 219.1,587.1 220.4,593.1 221.7,577.4 223.0,585.7 224.3,584.7 225.6,590.5 227.0,605.9 228.3,593.6 229.6,615.6 230.9,617.6 232.2,617.3 233.5,627.5 234.8,627.2 236.2,632.5 237.5,643.4 238.8,641.0 240.1,662.4 241.4,658.6 242.7,663.1 244.0,662.7 245.4,672.4 246.7,688.4 248.0,681.7 249.3,689.3 250.6,689.3 251.9,689.3 253.2,687.0 254.5,695.1 255.9,690.2 257.2,686.2 258.5,685.3 259.8,682.7 261.1,691.0 262.4,677.9 263.7,670.5 265.1,672.9 266.4,663.8 267.7,662.3 269.0,651.6 270.3,647.5 271.6,647.3 272.9,634.8 274.2,629.5 275.6,632.4 276.9,622.2 278.2,617.8 279.5,617.8 280.8,602.9 282.1,608.0 283.4,601.5 284.8,609.9 286.1,599.3 287.4,604.3 288.7,596.2 290.0,600.1 291.3,595.8 292.6,594.5 294.0,613.8 295.3,608.5 296.6,613.7 297.9,620.4 299.2,626.7 300.5,628.7 301.8,631.3 303.1,636.9 304.5,640.9 305.8,652.5 307.1,653.5 308.4,661.3 309.7,665.4 311.0,671.3 312.3,678.2 313.7,681.6 315.0,693.6 316.3,704.0 317.6,703.4 318.9,697.8 320.2,701.8 321.5,705.5 322.8,697.0 324.2,699.5 325.5,694.1 326.8,705.6 328.1,700.2 329.4,692.7 330.7,686.7 332.0,679.9 333.4,680.5 334.7,669.7 336.0,665.6 337.3,665.2 338.6,653.5 339.9,652.4 341.2,646.2 342.6,648.1 343.9,641.3 345.2,635.6 346.5,625.8 347.8,628.4 349.1,627.6 350.4,616.3 351.7,600.0 353.1,610.0 354.4,613.9 355.7,610.0 357.0,605.5 358.3,603.5 359.6,608.1 360.9,603.5 362.3,610.9 363.6,623.1 364.9,616.6 366.2,629.7 367.5,625.9 368.8,636.1 370.1,652.9 371.5,658.5 372.8,656.0 374.1,660.5 375.4,662.0 376.7,670.8 378.0,672.3 379.3,681.6 380.6,690.3 382.0,700.7 383.3,693.1 384.6,698.7 385.9,702.4 387.2,713.9 388.5,706.6 389.8,722.6 391.2,711.1 392.5,713.7 393.8,712.9 395.1,726.0 396.4,699.1 397.7,711.7 399.0,706.8 400.3,700.8 401.7,697.3 403.0,698.7 404.3,680.5 405.6,679.4 406.9,671.7 408.2,674.6 409.5,659.1 410.9,655.0 412.2,642.3 413.5,647.6 414.8,649.3 416.1,634.2 417.4,628.5 418.7,621.0 420.1,620.0 421.4,625.8 422.7,619.4 424.0,624.5 425.3,615.8 426.6,605.3 427.9,625.8 429.2,629.8 430.6,632.3 431.9,630.2 433.2,630.3 434.5,638.4 435.8,651.5 437.1,646.4 438.4,650.1 439.8,652.2 441.1,663.0 442.4,680.3 443.7,673.6 445.0,686.5 446.3,698.0 447.6,697.1 449.0,701.4 450.3,705.5 451.6,715.9 452.9,718.0 454.2,718.9 455.5,720.0 456.8,721.5 458.1,731.7 459.5,720.6 460.8,732.8 462.1,723.2 463.4,723.7 464.7,735.9 466.0,723.1 467.3,716.1 468.7,710.3 470.0,708.6 471.3,700.6 472.6,698.4 473.9,694.2 475.2,682.8 476.5,662.0 477.8,678.5 479.2,672.4 480.5,663.0 481.8,664.6 483.1,651.5 484.4,651.9 485.7,638.3 487.0,650.2 488.4,641.4 489.7,644.8 491.0,636.3 492.3,641.2 493.6,644.0 494.9,642.7 496.2,642.8 497.6,640.6 498.9,648.6 500.2,643.4 501.5,651.6 502.8,655.6 504.1,660.9 505.4,663.9 506.7,660.5 508.1,679.6 509.4,680.6 510.7,685.3 512.0,689.8 513.3,700.6 514.6,715.1 515.9,705.1 517.3,710.3 518.6,713.4 519.9,719.5 521.2,731.6 522.5,722.2 523.8,733.4 525.1,731.5 526.4,724.4 527.8,729.5 529.1,740.1 530.4,734.7 531.7,726.6 533.0,727.4 534.3,730.5 535.6,734.2 537.0,728.5 538.3,721.9 539.6,715.0 540.9,705.0 542.2,701.1 543.5,711.3 544.8,699.8 546.2,697.1 547.5,691.2 548.8,680.0 550.2,678.7 551.5,679.8 552.9,662.1 554.2,670.3 555.6,669.3 557.0,663.7 558.4,649.5 559.8,653.8 561.1,660.6 562.5,655.7 563.9,663.0 565.4,654.6 566.8,659.8 568.2,676.7 569.6,667.1 571.1,665.9 572.5,684.1 573.9,681.4 575.4,689.3 576.9,690.0 578.3,706.0 579.8,699.4 581.3,711.5 582.8,708.3 584.3,717.0 585.8,728.2 587.3,737.4 588.8,739.0 590.3,732.2 591.8,737.2 593.4,742.8 594.9,743.9 596.5,747.7 598.0,750.5 599.6,747.8 601.2,746.6 602.7,746.3 604.3,738.0 605.9,724.4 607.5,741.2 609.1,723.6 610.7,721.4 612.4,722.4 614.0,708.9 615.6,693.6 617.3,707.5 618.9,694.4 620.6,696.9 622.3,680.6 623.9,680.1 625.6,679.6 627.3,679.4 629.0,672.5 630.7,671.7 632.4,683.3 634.2,688.0 635.9,683.4 637.6,681.2 639.4,691.0 641.1,686.1 642.9,700.5 644.7,708.7 646.5,710.9 648.3,726.2 650.1,730.5 651.9,734.1 653.7,741.1 655.5,734.2 657.3,742.6 659.2,750.3 661.0,756.9 662.9,751.3 664.8,751.7 666.7,759.9 668.6,764.8 670.5,753.4 672.4,753.8 674.3,751.3 676.2,744.5 678.1,734.1 680.1,735.1 682.1,728.9 684.0,725.4 686.0,721.1 688.0,717.3 690.0,703.7 692.0,703.0 694.0,702.9 696.0,700.2 698.1,695.7 700.1,694.7 702.2,699.2 704.2,701.3 706.3,703.3 708.4,714.9 710.5,724.3 712.6,711.2 714.7,725.7 716.9,728.0 719.0,747.8 721.1,747.9 723.3,747.0 725.5,751.1 727.7,762.0 729.9,761.4 732.1,768.1 734.3,775.4 736.5,776.1 738.8,776.1 741.0,768.5 743.3,755.2 745.6,758.0 747.9,740.1 750.2,738.6 752.5,734.1 754.8,737.8 757.1,728.3 759.5,718.6 761.9,723.9 764.2,712.1 766.6,709.5 769.0,713.1 771.4,725.5 773.9,719.1 776.3,731.6 778.8,722.0 781.2,739.6 783.7,745.8 786.2,749.0 788.7,759.0 791.2,758.1 793.8,767.4 796.3,764.0 798.9,786.6 801.4,780.6 804.0,779.9 806.6,782.2 809.2,786.2 811.9,783.0 814.5,769.8 817.2,771.2 819.9,772.3 822.6,764.1 825.3,751.1 828.0,745.6 830.7,746.1 833.5,740.5 836.2,744.1 839.0,745.0 841.8,757.0 844.6,758.8 847.4,756.1 850.3,766.0 853.1,771.5 856.0,776.3 858.9,802.6 861.8,791.4 864.7,795.8 867.7,802.5 870.6,803.3 873.6,811.6 876.6,799.8 879.6,798.2 882.6,794.8 885.7,787.7 888.7,779.5 891.8,778.5 894.9,775.7 898.0,770.1 901.2,763.9 904.3,765.6 907.5,770.4 910.7,773.6 913.9,777.3 917.1,788.8 920.3,794.8 923.6,797.4 926.9,804.7 930.2,813.7 957.3,810.1 960.8,806.6"/>
<polyline fill="none" stroke="none" marker-start="url(#m40)" marker-mid="url(#m40)" marker-end="url(#m40)" points="89.0,557.9 90.4,577.6 91.7,592.6 93.0,589.6 94.3,591.7 95.6,606.4 96.9,619.3 98.2,623.9 99.5,639.4 100.9,647.0 102.2,664.0 103.5,664.9 104.8,682.0 106.1,689.3 107.4,686.3 108.7,701.6 110.1,700.1 111.4,719.8 112.7,717.6 114.0,718.3 115.3,717.2 116.6,715.7 117.9,718.1 119.2,714.0 120.6,714.9 121.9,706.3 123.2,701.2 124.5,697.0 125.8,686.6 127.1,683.2 128.4,675.5 129.8,669.4 131.1,657.8 132.4,643.5 133.7,644.0 135.0,623.2 136.3,617.6 137.6,601.8 139.0,601.3 140.3,588.3 141.6,586.4 142.9,576.8 144.2,566.6 145.5,554.8 146.8,556.7 148.1,555.6 149.5,560.4 150.8,551.4 152.1,558.5 153.4,551.1 154.7,554.8 156.0,557.1 157.3,577.7 158.7,577.0 160.0,580.8 161.3,584.8 162.6,591.7 163.9,598.8 165.2,602.9 166.5,608.8 167.9,622.9 169.2,633.9 170.5,636.4 171.8,642.4 173.1,649.5 174.4,661.9 175.7,658.9 177.0,665.0 178.4,669.0 179.7,679.5 181.0,672.9 182.3,679.1 183.6,678.7 184.9,679.4 186.2,685.7 187.6,680.3 188.9,673.6 190.2,673.6 191.5,668.7 192.8,670.7 194.1,667.5 195.4,655.5 196.7,660.4 198.1,636.9 199.4,638.7 200.7,619.7 202.0,624.7 203.3,614.9 204.6,613.2 205.9,607.3 207.3,592.9 208.6,585.3 209.9,589.3 211.2,574.9 212.5,576.1 213.8,573.9 215.1,566.0 216.5,559.4 217.8,564.9 219.1,565.9 220.4,562.7 221.7,568.3 223.0,564.2 224.3,573.0 225.6,574.6 227.0,587.7 228.3,586.3 229.6,597.1 230.9,588.1 232.2,605.4 233.5,608.3 234.8,615.0 236.2,624.5 237.5,632.1 238.8,633.4 240.1,638.4 241.4,646.7 242.7,655.7 244.0,665.4 245.4,667.9 246.7,670.5 248.0,668.5 249.3,678.5 250.6,686.3 251.9,688.3 253.2,686.8 254.5,686.8 255.9,678.1 257.2,682.3 258.5,678.5 259.8,682.1 261.1,682.3 262.4,659.4 263.7,656.5 265.1,658.8 266.4,652.3 267.7,654.2 269.0,638.2 270.3,624.0 271.6,633.2 272.9,624.7 274.2,616.5 275.6,616.9 276.9,610.2 278.2,603.2 279.5,603.5 280.8,592.7 282.1,597.6 283.4,589.1 284.8,587.4 286.1,583.7 287.4,587.6 288.7,592.0 290.0,587.3 291.3,588.3 292.6,583.8 294.0,593.5 295.3,593.2 296.6,601.8 297.9,606.8 299.2,614.3 300.5,626.5 301.8,632.5 303.1,641.6 304.5,640.3 305.8,638.3 307.1,659.7 308.4,655.2 309.7,657.4 311.0,672.5 312.3,675.0 313.7,685.6 315.0,693.2 316.3,697.7 317.6,700.6 318.9,697.6 320.2,701.5 321.5,707.5 322.8,699.4 324.2,703.5 325.5,708.3 326.8,700.3 328.1,691.8 329.4,689.1 330.7,696.7 332.0,684.4 333.4,681.3 334.7,669.9 336.0,660.2 337.3,676.7 338.6,653.2 339.9,657.3 341.2,643.3 342.6,630.3 343.9,624.4 345.2,628.5 346.5,611.3 347.8,616.7 349.1,609.9 350.4,612.2 351.7,605.4 353.1,605.9 354.4,595.0 355.7,600.9 357.0,592.2 358.3,601.5 359.6,594.3 360.9,597.9 362.3,605.4 363.6,605.7 364.9,606.0 366.2,610.3 367.5,625.6 368.8,630.8 370.1,631.5 371.5,629.4 372.8,647.3 374.1,664.1 375.4,669.7 376.7,674.2 378.0,679.0 379.3,693.6 380.6,703.1 382.0,697.8 383.3,705.9 384.6,708.5 385.9,720.4 387.2,718.9 388.5,713.0 389.8,721.1 391.2,726.4 392.5,716.6 393.8,721.1 395.1,712.9 396.4,712.6 397.7,712.4 399.0,708.9 400.3,697.5 401.7,699.4 403.0,688.9 404.3,678.7 405.6,681.6 406.9,675.0 408.2,665.6 409.5,665.9 410.9,650.1 412.2,650.3 413.5,642.5 414.8,641.2 416.1,623.1 417.4,617.4 418.7,619.7 420.1,614.1 421.4,612.6 422.7,607.3 424.0,601.7 425.3,599.5 426.6,609.7 427.9,609.3 429.2,620.0 430.6,615.6 431.9,617.6 433.2,633.6 434.5,635.0 435.8,646.2 437.1,646.3 438.4,654.2 439.8,666.0 441.1,674.9 442.4,674.9 443.7,688.7 445.0,683.7 446.3,697.9 447.6,705.2 449.0,706.0 450.3,711.3 451.6,722.7 452.9,718.8 454.2,724.1 455.5,726.7 456.8,722.1 458.1,734.6 459.5,733.4 460.8,741.7 462.1,731.2 463.4,736.1 464.7,733.5 466.0,726.5 467.3,721.7 468.7,719.4 470.0,714.0 471.3,710.4 472.6,711.5 473.9,688.4 475.2,692.7 476.5,683.3 477.8,686.0 479.2,675.8 480.5,664.6 481.8,662.5 483.1,660.4 484.4,652.3 485.7,645.5 487.0,645.2 488.4,645.6 489.7,631.0 491.0,635.8 492.3,624.8 493.6,632.5 494.9,642.7 496.2,641.9 497.6,643.3 498.9,638.6 500.2,652.9 501.5,641.6 502.8,656.8 504.1,655.9 505.4,659.9 506.7,675.7 508.1,680.2 509.4,682.4 510.7,684.2 512.0,692.5 513.3,704.4 514.6,704.5 515.9,715.5 517.3,718.0 518.6,732.0 519.9,722.9 521.2,736.6 522.5,742.0 523.8,742.9 525.1,743.1 526.4,742.4 527.8,750.3 529.1,756.8 530.4,735.7 531.7,748.9 533.0,737.5 534.3,744.7 535.6,743.4 537.0,729.0 538.3,736.6 539.6,739.3 540.9,715.2 542.2,711.4 543.5,703.4 544.8,701.7 546.2,702.2 547.5,696.9 548.8,687.1 550.2,680.3 551.5,678.3 552.9,670.6 554.2,662.0 555.6,663.0 557.0,656.8 558.4,662.1 559.8,661.8 561.1,662.4 562.5,655.7 563.9,662.3 565.4,659.0 566.8,668.5 568.2,664.5 569.6,664.3 571.1,674.2 572.5,680.5 573.9,689.8 575.4,694.3 576.9,702.2 578.3,700.2 579.8,706.6 581.3,714.9 582.8,725.3 584.3,728.3 585.8,737.3 587.3,752.1 588.8,753.0 590.3,759.2 591.8,756.7 593.4,762.3 594.9,759.1 596.5,769.2 598.0,760.3 599.6,757.7 601.2,760.6 602.7,761.3 604.3,757.6 605.9,747.7 607.5,743.9 609.1,751.2 610.7,727.4 612.4,726.8 614.0,719.5 615.6,718.7 617.3,704.3 618.9,694.9 620.6,702.7 622.3,693.4 623.9,690.8 625.6,688.7 627.3,688.1 629.0,676.4 630.7,693.0 632.4,683.8 634.2,687.7 635.9,697.6 637.6,692.8 639.4,705.9 641.1,700.0 642.9,706.7 644.7,713.7 646.5,716.4 648.3,736.7 650.1,740.4 651.9,744.4 653.7,742.7 655.5,755.5 657.3,762.9 659.2,765.7 661.0,768.3 662.9,779.1 664.8,769.9 666.7,771.2 668.6,776.8 670.5,777.0 672.4,779.0 674.3,762.3 676.2,762.1 678.1,758.9 680.1,755.1 682.1,748.3 684.0,732.6 686.0,737.8 688.0,720.8 690.0,718.7 692.0,714.2 694.0,713.4 696.0,717.4 698.1,696.5 700.1,704.1 702.2,712.5 704.2,714.0 706.3,718.1 708.4,737.6 710.5,726.3 712.6,738.8 714.7,744.2 716.9,761.0 719.0,761.8 721.1,769.9 723.3,759.4 725.5,777.5 727.7,780.4 729.9,778.0 732.1,784.5 734.3,781.7 736.5,779.6 738.8,781.4 741.0,779.1 743.3,781.3 745.6,773.5 747.9,773.4 750.2,751.1 752.5,751.0 754.8,738.4 757.1,740.0 759.5,730.9 761.9,740.5 764.2,740.1 766.6,730.4 769.0,731.7 771.4,728.9 773.9,743.5 776.3,749.2 778.8,749.8 781.2,751.0 783.7,761.2 786.2,770.0 788.7,779.3 791.2,781.8 793.8,781.9 796.3,791.0 798.9,802.5 801.4,798.2 804.0,789.8 806.6,798.0 809.2,788.2 811.9,797.0 814.5,791.3 817.2,773.5 819.9,785.7 822.6,777.7 825.3,773.2 828.0,765.8 830.7,767.4 833.5,755.2 836.2,758.9 839.0,762.0 841.8,767.9 844.6,770.4 847.4,789.4 850.3,784.0 853.1,800.0 856.0,800.9 858.9,797.6 861.8,806.4 882.6,808.3 885.7,813.2 888.7,801.6 891.8,798.8 894.9,794.3 898.0,784.3 901.2,791.2 904.3,790.5 907.5,788.7 910.7,801.7 913.9,803.5 917.1,801.7 920.3,811.6"/>
<polyline fill="none" stroke="none" marker-start="url(#m32)" marker-mid="url(#m32)" marker-end="url(#m32)" points="89.0,506.5 90.4,512.1 91.7,526.6 93.0,543.5 94.3,546.2 95.6,547.5 96.9,581.6 98.2,586.4 99.5,595.3 100.9,608.3 102.2,607.9 103.5,617.4 104.8,632.2 106.1,649.6 107.4,662.0 108.7,670.7 110.1,661.5 111.4,657.6 112.7,675.8 114.0,678.5 115.3,687.2 116.6,690.5 117.9,693.0 119.2,685.2 120.6,680.3 121.9,667.2 123.2,670.6 124.5,668.9 125.8,672.4 127.1,638.0 128.4,637.8 129.8,641.7 131.1,620.4 132.4,607.8 133.7,596.2 135.0,593.4 136.3,576.5 137.6,573.4 139.0,572.3 140.3,558.2 141.6,545.8 142.9,546.4 144.2,537.3 145.5,539.9 146.8,537.0 148.1,544.2 149.5,529.7 150.8,527.2 152.1,526.8 153.4,525.2 154.7,558.8 156.0,545.0 157.3,530.7 158.7,565.9 160.0,551.7 161.3,563.1 162.6,584.9 163.9,593.7 165.2,580.6 166.5,608.2 167.9,591.7 169.2,613.9 170.5,617.6 171.8,644.3 173.1,645.4 174.4,646.0 175.7,644.7 177.0,676.1 178.4,671.3 179.7,672.1 181.0,679.0 182.3,662.6 183.6,699.0 184.9,681.0 186.2,703.8 187.6,681.3 188.9,694.9 190.2,676.1 191.5,670.3 192.8,655.0 194.1,664.2 195.4,660.7 196.7,660.3 198.1,661.8 199.4,643.0 200.7,631.4 202.0,622.6 203.3,609.4 204.6,614.6 205.9,612.6 207.3,586.6 208.6,601.4 209.9,592.5 211.2,573.7 212.5,561.8 213.8,553.7 215.1,552.0 216.5,553.5 217.8,560.8 219.1,554.8 220.4,562.8 221.7,573.4 223.0,566.5 224.3,556.3 225.6,565.7 227.0,573.5 228.3,577.0 229.6,573.1 230.9,583.1 232.2,607.1 233.5,600.6 234.8,609.1 236.2,626.3 237.5,634.8 238.8,630.6 240.1,658.8 241.4,649.6 242.7,665.7 244.0,666.6 245.4,686.4 246.7,687.1 248.0,691.8 249.3,696.2 250.6,704.5 251.9,696.5 253.2,703.7 254.5,701.3 255.9,692.0 257.2,709.9 258.5,691.1 259.8,699.7 261.1,684.1 262.4,676.9 263.7,673.4 265.1,669.3 266.4,662.0 267.7,646.3 269.0,656.6 270.3,649.4 271.6,630.0 272.9,638.3 274.2,614.0 275.6,609.0 276.9,607.8 278.2,601.2 279.5,589.6 280.8,587.2 282.1,603.5 283.4,576.7 284.8,573.8 286.1,582.9 287.4,565.8 288.7,578.3 290.0,572.6 291.3,569.8 292.6,576.7 294.0,572.9 295.3,580.1 296.6,607.8 297.9,613.5 299.2,598.9 300.5,594.5 301.8,609.0 303.1,624.0 304.5,644.8 305.8,645.1 307.1,655.6 308.4,646.2 309.7,671.2 311.0,680.5 312.3,684.0 313.7,696.1 315.0,727.5 316.3,688.3 317.6,703.4 318.9,710.6 320.2,707.5 321.5,707.4 322.8,718.1 324.2,715.3 325.5,712.4 326.8,712.9 328.1,708.1 329.4,713.8 330.7,705.0 332.0,679.8 333.4,678.2 334.7,676.6 336.0,662.5 337.3,659.6 338.6,663.7 339.9,644.7 341.2,645.8 342.6,644.4 343.9,633.9 345.2,625.3 346.5,622.1 347.8,615.7 349.1,609.0 350.4,594.2 351.7,590.8 353.1,586.8 354.4,596.0 355.7,587.7 357.0,589.4 358.3,604.4 359.6,594.4 360.9,589.9 362.3,619.4 363.6,612.2 364.9,603.3 366.2,608.2 367.5,618.6 368.8,621.1 370.1,638.3 371.5,646.2 372.8,649.1 374.1,653.7 375.4,663.4 376.7,678.3 378.0,675.3 379.3,689.3 380.6,707.3 382.0,707.0 383.3,701.1 384.6,730.4 385.9,719.8 387.2,723.5 388.5,738.3 389.8,709.0 391.2,709.2 392.5,737.2 393.8,718.2 395.1,730.2 396.4,728.5 397.7,718.4 399.0,724.4 400.3,709.5 401.7,709.8 403.0,703.0 404.3,702.3 405.6,693.5 406.9,675.2 408.2,670.4 409.5,654.0 410.9,652.5 412.2,658.6 413.5,652.3 414.8,637.1 416.1,634.9 417.4,637.4 418.7,623.2 420.1,623.2 421.4,622.8 422.7,620.2 424.0,609.4 425.3,600.3 426.6,593.1 427.9,609.7 429.2,615.2 430.6,633.0 431.9,641.0 433.2,613.2 434.5,658.6 435.8,643.9 437.1,651.3 438.4,657.0 439.8,655.8 441.1,684.9 442.4,692.5 443.7,695.3 445.0,699.3 446.3,688.7 447.6,726.4 449.0,719.1 450.3,714.4 451.6,736.5 452.9,734.0 454.2,728.5 455.5,741.7 456.8,757.1 458.1,739.1 459.5,747.7 460.8,757.0 462.1,749.1 463.4,747.1 464.7,748.5 466.0,770.0 467.3,745.3 468.7,747.4 470.0,720.3 471.3,730.7 472.6,721.4 473.9,722.0 475.2,694.7 476.5,699.7 477.8,682.4 479.2,679.2 480.5,672.0 481.8,657.4 483.1,653.0 484.4,652.1 485.7,667.5 487.0,644.1 488.4,646.7 489.7,645.0 491.0,631.0 492.3,645.2 493.6,645.8 494.9,638.2 496.2,637.3 497.6,650.6 498.9,647.1 500.2,646.9 501.5,643.0 502.8,662.2 504.1,672.7 505.4,689.9 506.7,678.7 508.1,700.7 509.4,704.9 510.7,706.6 512.0,720.9 513.3,742.9 514.6,735.2 515.9,739.8 517.3,723.5 518.6,759.4 519.9,746.0 521.2,766.0 522.5,772.6 523.8,758.6 525.1,766.1 526.4,789.8 527.8,779.6 529.1,785.5 530.4,770.3 531.7,774.6 533.0,771.6 534.3,762.3 535.6,769.9 537.0,771.9 538.3,751.4 539.6,734.6 540.9,742.8 542.2,725.8 543.5,721.3 544.8,732.0 546.2,719.1 547.5,713.6 548.8,695.8 550.2,686.2 551.5,702.0 552.9,703.9 554.2,690.1 555.6,691.2 557.0,679.5 558.4,670.2 559.8,664.5 561.1,686.3 562.5,674.5 563.9,663.3 565.4,670.4 566.8,680.9 568.2,667.6 569.6,693.0 571.1,688.0 572.5,686.5 573.9,692.9 575.4,714.4 576.9,724.2 578.3,731.1 579.8,727.7 581.3,754.1 582.8,749.9 584.3,755.3 585.8,775.2 587.3,779.7 588.8,776.9 590.3,780.8 591.8,785.5 593.4,809.1 594.9,796.4 596.5,803.4 598.0,803.3 599.6,785.1 601.2,806.6 602.7,788.7 604.3,780.6 605.9,805.6 607.5,786.0 609.1,769.4 610.7,766.8 612.4,770.1 614.0,765.2 615.6,754.5 617.3,736.5 618.9,733.7 620.6,719.2 622.3,718.9 623.9,723.3 625.6,697.9 627.3,718.2 629.0,702.5 630.7,714.3 632.4,695.9 634.2,702.3 635.9,709.3 637.6,708.2 639.4,743.7 641.1,730.7 642.9,744.6 644.7,744.6 646.5,769.8 648.3,760.3 650.1,784.4 651.9,781.2 653.7,807.8 655.5,803.6 657.3,812.4 674.3,797.4 678.1,801.6 680.1,802.8 682.1,787.7 684.0,785.5 686.0,761.9 688.0,768.1 690.0,741.8 692.0,743.4 694.0,730.7 696.0,729.5 698.1,738.1 700.1,732.0 702.2,744.3 704.2,755.6 706.3,766.1 708.4,765.4 710.5,771.9 712.6,758.5 714.7,784.2 716.9,800.3 747.9,809.4 752.5,811.5 754.8,779.2 757.1,778.9 759.5,790.5 761.9,774.5 764.2,769.0 766.6,755.6 769.0,772.4 771.4,768.7 773.9,785.7 776.3,781.1 778.8,789.8 781.2,811.7 783.7,804.0 828.0,801.8 830.7,805.3 836.2,806.7 844.6,811.7"/>
<polyline fill="none" stroke="none" marker-start="url(#mati)" marker-mid="url(#mati)" marker-end="url(#mati)" points="97.4,482.3 98.0,485.3 98.7,508.7 99.3,501.2 100.0,517.4 100.7,529.0 101.3,537.0 102.0,545.9 102.7,549.4 103.3,551.5 104.0,559.1 104.7,564.8 105.4,580.8 106.0,585.0 106.7,574.8 107.4,581.0 108.1,578.4 108.7,585.1 109.4,597.1 110.1,587.7 110.8,591.4 111.4,593.4 112.1,597.9 112.8,593.4 113.5,593.0 114.2,586.8 114.9,588.4 115.6,579.5 116.2,587.8 116.9,579.3 117.6,576.0 118.3,578.8 119.0,576.5 119.7,562.5 120.4,560.6 121.1,559.2 121.8,552.0 122.5,552.1 123.2,542.9 123.9,541.6 124.6,532.7 125.3,523.7 126.0,524.4 126.7,513.5 127.4,516.6 128.1,507.7 128.9,507.2 129.6,496.0 130.3,489.8 131.0,485.8 131.7,480.9 161.2,482.7 162.0,495.2 162.8,489.6 163.6,502.2 164.4,511.3 165.2,510.5 166.0,520.4 166.8,536.0 167.6,537.6 168.5,546.3 169.3,548.5 170.1,569.7 170.9,571.0 171.7,578.0 172.6,579.0 173.4,598.5 174.2,615.0 175.1,615.7 175.9,615.8 176.8,620.6 177.6,623.4 178.5,634.9 179.3,644.8 180.2,643.6 181.0,657.3 181.9,665.7 182.7,661.5 183.6,660.2 184.5,673.2 185.3,676.5 186.2,667.4 187.1,668.5 188.0,675.5 188.8,668.6 189.7,662.8 190.6,655.4 191.5,649.1 192.4,647.6 193.3,635.9 194.2,644.5 195.1,634.8 196.0,622.2 196.9,616.5 197.8,607.6 198.7,594.9 199.7,593.4 200.6,582.2 201.5,582.4 202.4,570.9 203.4,554.2 204.3,557.3 205.2,548.3 206.2,542.2 207.1,544.0 208.1,536.2 209.0,535.6 210.0,531.9 210.9,537.2 211.9,541.0 212.9,539.9 213.8,539.4 214.8,537.0 215.8,543.7 216.8,548.7 217.8,552.7 218.8,552.7 219.7,567.0 220.7,564.9 221.7,585.7 222.7,591.8 223.8,594.9 224.8,606.9 225.8,624.2 226.8,631.7 227.8,649.1 228.9,652.8 229.9,665.6 230.9,688.3 232.0,689.9 233.0,705.7 234.1,713.4 235.1,730.5 236.2,750.8 237.2,745.1 238.3,757.8 239.4,765.8 240.5,769.5 241.5,781.2 242.6,794.1 243.7,799.2 244.8,786.3 245.9,799.4 247.0,800.0 248.1,800.0 249.2,802.1 250.4,796.9 251.5,804.7 252.6,797.2 253.7,795.5 254.9,788.6 256.0,801.5 257.2,786.3 258.3,773.8 259.5,771.2 260.6,766.8 261.8,753.2 263.0,740.5 264.2,735.6 265.4,719.6 266.5,719.8 267.7,707.4 268.9,699.5 270.1,706.6 271.4,687.2 272.6,679.6 273.8,667.0 275.0,661.5 276.3,668.1 277.5,662.6 278.7,656.1 280.0,660.8 281.2,663.6 282.5,659.5 283.8,659.1 285.1,665.8 286.3,681.4 287.6,668.0 288.9,676.5 290.2,691.4 291.5,696.2 292.8,707.1 294.2,713.9 295.5,727.6 296.8,741.3 298.1,756.1 299.5,762.4 300.8,790.9 302.2,792.3 303.6,803.5 340.0,807.5 341.6,802.1 343.2,782.1 344.7,782.9 346.3,796.6 347.9,777.2 349.5,778.1 351.1,770.8 352.8,775.4 354.4,784.8 356.0,794.1 357.7,789.4 359.3,785.8 361.0,798.3"/>
<text x="46.8" y="43.3" class="pl">(a)</text>
<text x="43.8" y="475.0" class="pl">(b)</text>
<text x="49.6" y="912.8" class="pl">(c)</text>
<text x="263.5" y="297.3" class="tt" fill="#000">ATI</text>
<text x="98.0" y="26.8" class="tt" font-style="italic" fill="#000">R</text>
<text x="117.9" y="39.1" class="tt" style="font-size:22px" fill="#000">d</text>
<text x="140.5" y="26.8" class="tt" fill="#000">=</text>
<text x="169.5" y="26.8" class="tt" fill="#A2142F">32,</text>
<text x="215.2" y="26.8" class="tt" fill="#D95319">40,</text>
<text x="264" y="26.8" class="tt" fill="#EDB120">43,</text>
<text x="309.2" y="26.8" class="tt" fill="#77AC30">50,</text>
<text x="351.8" y="26.8" class="tt" fill="#4DBEEE">76,</text>
<text x="397.3" y="26.8" class="tt" fill="#0072BD">340</text>
<text x="449.2" y="26.8" class="tt" fill="#000">&#197;</text>
</svg>
</body></html>
